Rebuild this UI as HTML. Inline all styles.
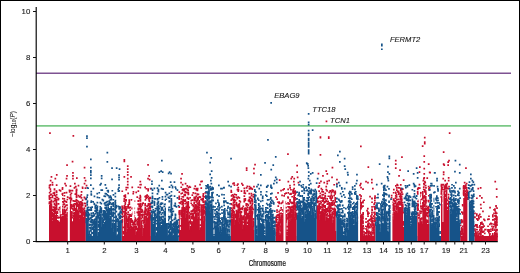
<!DOCTYPE html>
<html><head><meta charset="utf-8"><style>
html,body{margin:0;padding:0;background:#fff;}
body{width:520px;height:273px;overflow:hidden;}
svg{display:block;will-change:transform;}
.t{font-family:"Liberation Sans",sans-serif;font-size:7.8px;fill:#1a1a1a;stroke:#1a1a1a;stroke-width:0.12px;}
.ax{font-family:"Liberation Sans",sans-serif;font-size:8.4px;fill:#1a1a1a;stroke:#1a1a1a;stroke-width:0.25px;}
.ax2{font-family:"Liberation Sans",sans-serif;font-size:7px;fill:#1a1a1a;stroke:#1a1a1a;stroke-width:0.08px;}
.an{font-family:"Liberation Sans",sans-serif;font-size:7.6px;font-style:italic;fill:#1a1a1a;stroke:#1a1a1a;stroke-width:0.12px;}
</style></head><body>
<svg width="520" height="273" viewBox="0 0 520 273">
<rect x="0.5" y="0.5" width="519" height="272" fill="#fff" stroke="#000" stroke-width="1"/>
<line x1="36" y1="73.2" x2="511" y2="73.2" stroke="#7e5292" stroke-width="1.5"/>
<line x1="36" y1="125.9" x2="511" y2="125.9" stroke="#7bc886" stroke-width="1.8"/>
<path fill="#c8102e" d="M49.0 231.0h36.8v10.0h-36.8zM49.0 205.0h1.0v26.0h-1.0zM50.0 205.0h1.0v26.0h-1.0zM51.0 213.0h1.0v18.0h-1.0zM52.0 221.0h1.0v10.0h-1.0zM53.0 216.0h1.0v15.0h-1.0zM54.0 209.0h1.0v22.0h-1.0zM55.0 216.0h1.0v15.0h-1.0zM56.0 212.0h1.0v19.0h-1.0zM57.0 220.0h1.0v11.0h-1.0zM58.0 226.0h1.0v5.0h-1.0zM59.0 224.0h1.0v7.0h-1.0zM60.0 215.0h1.0v16.0h-1.0zM61.0 222.0h1.0v9.0h-1.0zM62.0 216.0h1.0v15.0h-1.0zM63.0 222.0h1.0v9.0h-1.0zM64.0 218.0h1.0v13.0h-1.0zM65.0 217.0h1.0v14.0h-1.0zM66.0 219.0h1.0v12.0h-1.0zM67.0 220.0h1.0v11.0h-1.0zM68.0 222.0h1.0v9.0h-1.0zM69.0 220.0h1.0v11.0h-1.0zM70.0 208.0h1.0v23.0h-1.0zM71.0 216.0h1.0v15.0h-1.0zM72.0 223.0h1.0v8.0h-1.0zM73.0 218.0h1.0v13.0h-1.0zM74.0 212.0h1.0v19.0h-1.0zM75.0 208.0h1.0v23.0h-1.0zM76.0 202.0h1.0v29.0h-1.0zM77.0 215.0h1.0v16.0h-1.0zM78.0 219.0h1.0v12.0h-1.0zM79.0 219.0h1.0v12.0h-1.0zM80.0 215.0h1.0v16.0h-1.0zM81.0 211.0h1.0v20.0h-1.0zM82.0 214.0h1.0v17.0h-1.0zM83.0 225.0h1.0v6.0h-1.0zM84.0 218.0h1.0v13.0h-1.0zM85.0 215.0h0.8v16.0h-0.8zM121.8 236.0h29.1v5.0h-29.1zM121.8 222.0h1.0v14.0h-1.0zM123.8 213.0h1.0v23.0h-1.0zM124.8 215.0h1.0v21.0h-1.0zM125.8 223.0h1.0v13.0h-1.0zM126.8 232.0h1.0v4.0h-1.0zM127.8 222.0h1.0v14.0h-1.0zM128.8 217.0h1.0v19.0h-1.0zM129.8 227.0h1.0v9.0h-1.0zM130.8 229.0h1.0v7.0h-1.0zM131.8 230.0h1.0v6.0h-1.0zM132.8 224.0h1.0v12.0h-1.0zM133.8 227.0h1.0v9.0h-1.0zM134.8 229.0h1.0v7.0h-1.0zM135.8 235.0h1.0v1.0h-1.0zM136.8 229.0h1.0v7.0h-1.0zM137.8 217.0h1.0v19.0h-1.0zM138.8 218.0h1.0v18.0h-1.0zM139.8 209.0h1.0v27.0h-1.0zM140.8 228.0h1.0v8.0h-1.0zM141.8 225.0h1.0v11.0h-1.0zM143.8 226.0h1.0v10.0h-1.0zM144.8 217.0h1.0v19.0h-1.0zM145.8 224.0h1.0v12.0h-1.0zM146.8 222.0h1.0v14.0h-1.0zM147.8 214.0h1.0v22.0h-1.0zM148.8 217.0h1.0v19.0h-1.0zM149.8 217.0h1.0v19.0h-1.0zM178.8 230.0h26.7v11.0h-26.7zM178.8 215.0h1.0v15.0h-1.0zM180.8 219.0h1.0v11.0h-1.0zM181.8 210.0h1.0v20.0h-1.0zM182.8 211.0h1.0v19.0h-1.0zM183.8 213.0h1.0v17.0h-1.0zM184.8 210.0h1.0v20.0h-1.0zM185.8 218.0h1.0v12.0h-1.0zM186.8 209.0h1.0v21.0h-1.0zM187.8 211.0h1.0v19.0h-1.0zM188.8 222.0h1.0v8.0h-1.0zM190.8 221.0h1.0v9.0h-1.0zM191.8 223.0h1.0v7.0h-1.0zM192.8 220.0h1.0v10.0h-1.0zM193.8 219.0h1.0v11.0h-1.0zM194.8 213.0h1.0v17.0h-1.0zM195.8 214.0h1.0v16.0h-1.0zM196.8 207.0h1.0v23.0h-1.0zM197.8 219.0h1.0v11.0h-1.0zM198.8 212.0h1.0v18.0h-1.0zM200.8 215.0h1.0v15.0h-1.0zM201.8 217.0h1.0v13.0h-1.0zM202.8 214.0h1.0v16.0h-1.0zM203.8 221.0h1.0v9.0h-1.0zM204.8 215.0h0.7v15.0h-0.7zM230.9 230.0h23.4v11.0h-23.4zM230.9 221.0h1.0v9.0h-1.0zM231.9 222.0h1.0v8.0h-1.0zM232.9 215.0h1.0v15.0h-1.0zM233.9 211.0h1.0v19.0h-1.0zM234.9 225.0h1.0v5.0h-1.0zM235.9 217.0h1.0v13.0h-1.0zM236.9 215.0h1.0v15.0h-1.0zM237.9 216.0h1.0v14.0h-1.0zM238.9 222.0h1.0v8.0h-1.0zM239.9 224.0h1.0v6.0h-1.0zM240.9 222.0h1.0v8.0h-1.0zM241.9 221.0h1.0v9.0h-1.0zM242.9 229.0h1.0v1.0h-1.0zM243.9 212.0h1.0v18.0h-1.0zM244.9 220.0h1.0v10.0h-1.0zM245.9 217.0h1.0v13.0h-1.0zM246.9 225.0h1.0v5.0h-1.0zM247.9 221.0h1.0v9.0h-1.0zM248.9 219.0h1.0v11.0h-1.0zM249.9 213.0h1.0v17.0h-1.0zM250.9 213.0h1.0v17.0h-1.0zM251.9 215.0h1.0v15.0h-1.0zM252.9 226.0h1.0v4.0h-1.0zM275.6 236.0h21.1v5.0h-21.1zM275.6 227.0h1.0v9.0h-1.0zM276.6 232.0h1.0v4.0h-1.0zM277.6 227.0h1.0v9.0h-1.0zM278.6 225.0h1.0v11.0h-1.0zM279.6 235.0h1.0v1.0h-1.0zM280.6 226.0h1.0v10.0h-1.0zM281.6 222.0h1.0v14.0h-1.0zM282.6 216.0h1.0v20.0h-1.0zM283.6 217.0h1.0v19.0h-1.0zM284.6 222.0h1.0v14.0h-1.0zM285.6 222.0h1.0v14.0h-1.0zM287.6 218.0h1.0v18.0h-1.0zM288.6 222.0h1.0v14.0h-1.0zM289.6 217.0h1.0v19.0h-1.0zM290.6 221.0h1.0v15.0h-1.0zM291.6 214.0h1.0v22.0h-1.0zM292.6 211.0h1.0v25.0h-1.0zM293.6 206.0h1.0v30.0h-1.0zM294.6 217.0h1.0v19.0h-1.0zM295.6 219.0h1.0v17.0h-1.0zM316.7 231.0h19.6v10.0h-19.6zM316.7 218.0h1.0v13.0h-1.0zM317.7 214.0h1.0v17.0h-1.0zM318.7 213.0h1.0v18.0h-1.0zM319.7 220.0h1.0v11.0h-1.0zM320.7 216.0h1.0v15.0h-1.0zM321.7 212.0h1.0v19.0h-1.0zM322.7 208.0h1.0v23.0h-1.0zM323.7 212.0h1.0v19.0h-1.0zM324.7 213.0h1.0v18.0h-1.0zM325.7 221.0h1.0v10.0h-1.0zM326.7 215.0h1.0v16.0h-1.0zM327.7 220.0h1.0v11.0h-1.0zM328.7 211.0h1.0v20.0h-1.0zM329.7 211.0h1.0v20.0h-1.0zM330.7 214.0h1.0v17.0h-1.0zM331.7 216.0h1.0v15.0h-1.0zM332.7 223.0h1.0v8.0h-1.0zM333.7 223.0h1.0v8.0h-1.0zM334.7 217.0h1.0v14.0h-1.0zM358.5 236.0h17.0v5.0h-17.0zM358.5 225.0h1.0v11.0h-1.0zM359.5 220.0h1.0v16.0h-1.0zM360.5 224.0h1.0v12.0h-1.0zM361.5 224.0h1.0v12.0h-1.0zM362.5 226.0h1.0v10.0h-1.0zM367.5 226.0h1.0v10.0h-1.0zM368.5 231.0h1.0v5.0h-1.0zM370.5 234.0h1.0v2.0h-1.0zM371.5 222.0h1.0v14.0h-1.0zM373.5 232.0h1.0v4.0h-1.0zM374.5 221.0h1.0v15.0h-1.0zM391.2 227.0h12.8v14.0h-12.8zM391.2 218.0h1.0v9.0h-1.0zM392.2 220.0h1.0v7.0h-1.0zM393.2 212.0h1.0v15.0h-1.0zM394.2 215.0h1.0v12.0h-1.0zM395.2 214.0h1.0v13.0h-1.0zM396.2 213.0h1.0v14.0h-1.0zM397.2 208.0h1.0v19.0h-1.0zM398.2 205.0h1.0v22.0h-1.0zM399.2 209.0h1.0v18.0h-1.0zM400.2 211.0h1.0v16.0h-1.0zM401.2 205.0h1.0v22.0h-1.0zM402.2 213.0h1.0v14.0h-1.0zM417.3 224.0h12.2v17.0h-12.2zM417.3 214.0h1.0v10.0h-1.0zM419.3 209.0h1.0v15.0h-1.0zM422.3 209.0h1.0v15.0h-1.0zM423.3 206.0h1.0v18.0h-1.0zM424.3 208.0h1.0v16.0h-1.0zM425.3 203.0h1.0v21.0h-1.0zM426.3 222.0h1.0v2.0h-1.0zM428.3 214.0h1.0v10.0h-1.0zM441.0 210.0h8.4v31.0h-8.4zM441.0 197.0h1.0v13.0h-1.0zM442.0 205.0h1.0v5.0h-1.0zM443.0 200.0h1.0v10.0h-1.0zM444.0 192.0h1.0v18.0h-1.0zM445.0 202.0h1.0v8.0h-1.0zM446.0 195.0h1.0v15.0h-1.0zM448.0 204.0h1.0v6.0h-1.0zM460.2 236.0h8.0v5.0h-8.0zM462.2 233.0h1.0v3.0h-1.0zM463.2 198.0h1.0v38.0h-1.0zM464.2 188.0h1.0v48.0h-1.0zM465.2 195.0h1.0v41.0h-1.0zM466.2 202.0h1.0v34.0h-1.0zM467.2 201.0h1.0v35.0h-1.0zM474.4 236.0h23.4v5.0h-23.4zM495.4 235.0h1.0v1.0h-1.0z"/>
<path fill="#c8102e" d="M48.5 202.6h1.7v1.7h-1.7zM48.7 201.3h1.7v1.7h-1.7zM48.7 198.2h1.7v1.7h-1.7zM48.8 197.9h1.7v1.7h-1.7zM48.6 197.2h1.7v1.7h-1.7zM48.6 194.9h1.7v1.7h-1.7zM48.5 195.5h1.7v1.7h-1.7zM48.8 191.9h1.7v1.7h-1.7zM48.6 186.7h1.7v1.7h-1.7zM48.7 184.7h1.7v1.7h-1.7zM49.5 203.8h1.7v1.7h-1.7zM49.7 201.8h1.7v1.7h-1.7zM49.5 202.2h1.7v1.7h-1.7zM49.7 200.8h1.7v1.7h-1.7zM49.8 196.9h1.7v1.7h-1.7zM49.6 194.0h1.7v1.7h-1.7zM49.7 193.7h1.7v1.7h-1.7zM49.7 190.3h1.7v1.7h-1.7zM49.5 188.3h1.7v1.7h-1.7zM49.5 184.0h1.7v1.7h-1.7zM50.5 211.5h1.7v1.7h-1.7zM50.6 209.7h1.7v1.7h-1.7zM50.5 208.8h1.7v1.7h-1.7zM50.7 208.0h1.7v1.7h-1.7zM50.5 208.0h1.7v1.7h-1.7zM50.5 206.7h1.7v1.7h-1.7zM50.5 206.5h1.7v1.7h-1.7zM50.7 205.8h1.7v1.7h-1.7zM50.6 205.7h1.7v1.7h-1.7zM50.6 205.4h1.7v1.7h-1.7zM50.6 204.8h1.7v1.7h-1.7zM50.6 205.1h1.7v1.7h-1.7zM50.6 203.3h1.7v1.7h-1.7zM50.7 201.1h1.7v1.7h-1.7zM50.6 199.6h1.7v1.7h-1.7zM50.7 193.6h1.7v1.7h-1.7zM51.7 220.5h1.7v1.7h-1.7zM51.7 220.5h1.7v1.7h-1.7zM51.6 220.5h1.7v1.7h-1.7zM51.7 218.1h1.7v1.7h-1.7zM51.6 218.5h1.7v1.7h-1.7zM51.7 216.1h1.7v1.7h-1.7zM51.5 213.7h1.7v1.7h-1.7zM51.6 214.6h1.7v1.7h-1.7zM51.6 211.9h1.7v1.7h-1.7zM51.7 212.2h1.7v1.7h-1.7zM51.6 209.4h1.7v1.7h-1.7zM51.8 208.7h1.7v1.7h-1.7zM51.6 196.5h1.7v1.7h-1.7zM51.7 195.0h1.7v1.7h-1.7zM51.7 184.0h1.7v1.7h-1.7zM52.7 215.1h1.7v1.7h-1.7zM52.8 214.8h1.7v1.7h-1.7zM52.8 214.1h1.7v1.7h-1.7zM52.7 213.0h1.7v1.7h-1.7zM52.7 210.6h1.7v1.7h-1.7zM52.7 209.0h1.7v1.7h-1.7zM52.6 208.7h1.7v1.7h-1.7zM52.7 208.9h1.7v1.7h-1.7zM52.6 206.3h1.7v1.7h-1.7zM52.7 200.7h1.7v1.7h-1.7zM52.6 192.2h1.7v1.7h-1.7zM53.8 208.4h1.7v1.7h-1.7zM53.8 208.5h1.7v1.7h-1.7zM53.5 206.8h1.7v1.7h-1.7zM53.7 206.4h1.7v1.7h-1.7zM53.5 206.3h1.7v1.7h-1.7zM53.6 203.5h1.7v1.7h-1.7zM53.6 202.7h1.7v1.7h-1.7zM53.8 199.9h1.7v1.7h-1.7zM53.6 197.8h1.7v1.7h-1.7zM53.6 194.3h1.7v1.7h-1.7zM53.6 193.4h1.7v1.7h-1.7zM53.6 191.8h1.7v1.7h-1.7zM53.6 188.8h1.7v1.7h-1.7zM53.7 188.3h1.7v1.7h-1.7zM54.8 215.0h1.7v1.7h-1.7zM54.7 214.7h1.7v1.7h-1.7zM54.7 214.5h1.7v1.7h-1.7zM54.8 212.2h1.7v1.7h-1.7zM54.8 211.8h1.7v1.7h-1.7zM54.7 211.3h1.7v1.7h-1.7zM54.7 210.0h1.7v1.7h-1.7zM54.6 208.9h1.7v1.7h-1.7zM54.8 207.2h1.7v1.7h-1.7zM54.8 206.4h1.7v1.7h-1.7zM54.6 204.3h1.7v1.7h-1.7zM54.7 199.6h1.7v1.7h-1.7zM54.5 197.9h1.7v1.7h-1.7zM54.6 197.8h1.7v1.7h-1.7zM54.7 195.1h1.7v1.7h-1.7zM55.8 207.9h1.7v1.7h-1.7zM55.7 208.3h1.7v1.7h-1.7zM55.7 207.9h1.7v1.7h-1.7zM55.6 207.7h1.7v1.7h-1.7zM55.6 206.6h1.7v1.7h-1.7zM55.6 205.8h1.7v1.7h-1.7zM55.7 206.2h1.7v1.7h-1.7zM55.7 206.3h1.7v1.7h-1.7zM55.8 204.2h1.7v1.7h-1.7zM55.7 203.8h1.7v1.7h-1.7zM55.8 203.0h1.7v1.7h-1.7zM55.7 202.6h1.7v1.7h-1.7zM55.5 201.8h1.7v1.7h-1.7zM55.5 200.1h1.7v1.7h-1.7zM55.6 200.1h1.7v1.7h-1.7zM55.8 198.9h1.7v1.7h-1.7zM55.6 196.6h1.7v1.7h-1.7zM55.8 193.9h1.7v1.7h-1.7zM55.8 191.6h1.7v1.7h-1.7zM55.7 190.8h1.7v1.7h-1.7zM55.6 190.2h1.7v1.7h-1.7zM55.8 184.3h1.7v1.7h-1.7zM56.7 217.1h1.7v1.7h-1.7zM56.5 214.9h1.7v1.7h-1.7zM56.6 212.3h1.7v1.7h-1.7zM56.5 210.8h1.7v1.7h-1.7zM56.6 196.7h1.7v1.7h-1.7zM57.7 225.0h1.7v1.7h-1.7zM57.6 224.8h1.7v1.7h-1.7zM57.5 225.5h1.7v1.7h-1.7zM57.7 225.4h1.7v1.7h-1.7zM57.6 224.3h1.7v1.7h-1.7zM57.7 222.8h1.7v1.7h-1.7zM57.7 222.8h1.7v1.7h-1.7zM57.7 223.2h1.7v1.7h-1.7zM57.7 222.1h1.7v1.7h-1.7zM57.6 221.5h1.7v1.7h-1.7zM57.8 220.5h1.7v1.7h-1.7zM57.8 217.0h1.7v1.7h-1.7zM57.6 216.5h1.7v1.7h-1.7zM57.8 208.7h1.7v1.7h-1.7zM57.7 203.0h1.7v1.7h-1.7zM57.6 198.9h1.7v1.7h-1.7zM57.7 197.9h1.7v1.7h-1.7zM58.8 223.4h1.7v1.7h-1.7zM58.7 222.0h1.7v1.7h-1.7zM58.7 216.5h1.7v1.7h-1.7zM58.7 206.9h1.7v1.7h-1.7zM58.7 189.2h1.7v1.7h-1.7zM59.7 214.3h1.7v1.7h-1.7zM59.7 211.7h1.7v1.7h-1.7zM59.5 210.6h1.7v1.7h-1.7zM59.7 208.0h1.7v1.7h-1.7zM59.7 206.3h1.7v1.7h-1.7zM59.7 190.1h1.7v1.7h-1.7zM60.6 221.1h1.7v1.7h-1.7zM60.7 221.4h1.7v1.7h-1.7zM60.6 220.7h1.7v1.7h-1.7zM60.7 220.1h1.7v1.7h-1.7zM60.6 219.9h1.7v1.7h-1.7zM60.6 219.6h1.7v1.7h-1.7zM60.7 218.6h1.7v1.7h-1.7zM60.6 216.8h1.7v1.7h-1.7zM60.7 217.3h1.7v1.7h-1.7zM60.8 217.0h1.7v1.7h-1.7zM60.8 216.9h1.7v1.7h-1.7zM60.6 216.6h1.7v1.7h-1.7zM60.8 216.3h1.7v1.7h-1.7zM60.7 212.6h1.7v1.7h-1.7zM60.6 212.5h1.7v1.7h-1.7zM61.7 213.9h1.7v1.7h-1.7zM61.6 213.0h1.7v1.7h-1.7zM61.7 212.7h1.7v1.7h-1.7zM61.7 213.1h1.7v1.7h-1.7zM61.6 212.1h1.7v1.7h-1.7zM61.6 211.4h1.7v1.7h-1.7zM61.6 210.9h1.7v1.7h-1.7zM61.7 210.6h1.7v1.7h-1.7zM61.6 210.6h1.7v1.7h-1.7zM61.7 209.2h1.7v1.7h-1.7zM61.6 209.2h1.7v1.7h-1.7zM61.7 209.1h1.7v1.7h-1.7zM61.7 208.4h1.7v1.7h-1.7zM61.5 205.8h1.7v1.7h-1.7zM61.8 200.9h1.7v1.7h-1.7zM61.7 197.7h1.7v1.7h-1.7zM61.5 194.4h1.7v1.7h-1.7zM61.8 192.7h1.7v1.7h-1.7zM61.5 193.2h1.7v1.7h-1.7zM61.6 188.3h1.7v1.7h-1.7zM61.7 187.1h1.7v1.7h-1.7zM62.6 221.6h1.7v1.7h-1.7zM62.6 220.7h1.7v1.7h-1.7zM62.8 220.9h1.7v1.7h-1.7zM62.6 219.5h1.7v1.7h-1.7zM62.6 218.6h1.7v1.7h-1.7zM62.7 217.6h1.7v1.7h-1.7zM62.6 216.2h1.7v1.7h-1.7zM62.6 215.9h1.7v1.7h-1.7zM62.6 213.4h1.7v1.7h-1.7zM62.8 213.2h1.7v1.7h-1.7zM62.7 212.5h1.7v1.7h-1.7zM62.5 203.7h1.7v1.7h-1.7zM62.6 201.6h1.7v1.7h-1.7zM63.6 217.2h1.7v1.7h-1.7zM63.7 217.6h1.7v1.7h-1.7zM63.6 217.4h1.7v1.7h-1.7zM63.5 216.8h1.7v1.7h-1.7zM63.8 216.3h1.7v1.7h-1.7zM63.6 216.4h1.7v1.7h-1.7zM63.5 214.9h1.7v1.7h-1.7zM63.5 215.4h1.7v1.7h-1.7zM63.5 214.0h1.7v1.7h-1.7zM63.7 213.6h1.7v1.7h-1.7zM63.8 212.8h1.7v1.7h-1.7zM63.5 212.1h1.7v1.7h-1.7zM63.6 212.0h1.7v1.7h-1.7zM63.7 212.3h1.7v1.7h-1.7zM63.5 211.0h1.7v1.7h-1.7zM63.8 211.3h1.7v1.7h-1.7zM63.8 210.4h1.7v1.7h-1.7zM63.8 210.6h1.7v1.7h-1.7zM63.5 209.6h1.7v1.7h-1.7zM63.6 209.0h1.7v1.7h-1.7zM63.7 206.9h1.7v1.7h-1.7zM63.6 206.3h1.7v1.7h-1.7zM63.8 206.4h1.7v1.7h-1.7zM63.5 203.2h1.7v1.7h-1.7zM63.5 200.0h1.7v1.7h-1.7zM63.5 198.0h1.7v1.7h-1.7zM63.6 194.9h1.7v1.7h-1.7zM63.7 192.0h1.7v1.7h-1.7zM64.8 216.0h1.7v1.7h-1.7zM64.7 216.1h1.7v1.7h-1.7zM64.6 216.4h1.7v1.7h-1.7zM64.7 215.3h1.7v1.7h-1.7zM64.8 215.1h1.7v1.7h-1.7zM64.6 214.4h1.7v1.7h-1.7zM64.6 214.6h1.7v1.7h-1.7zM64.7 213.6h1.7v1.7h-1.7zM64.7 213.6h1.7v1.7h-1.7zM64.5 211.2h1.7v1.7h-1.7zM64.6 210.7h1.7v1.7h-1.7zM64.7 210.1h1.7v1.7h-1.7zM64.5 209.9h1.7v1.7h-1.7zM64.7 210.2h1.7v1.7h-1.7zM64.6 205.2h1.7v1.7h-1.7zM64.5 200.6h1.7v1.7h-1.7zM65.6 217.3h1.7v1.7h-1.7zM65.7 215.1h1.7v1.7h-1.7zM65.8 214.7h1.7v1.7h-1.7zM65.6 213.6h1.7v1.7h-1.7zM65.7 209.1h1.7v1.7h-1.7zM65.5 204.3h1.7v1.7h-1.7zM65.7 201.1h1.7v1.7h-1.7zM65.7 201.3h1.7v1.7h-1.7zM65.7 191.7h1.7v1.7h-1.7zM66.8 218.7h1.7v1.7h-1.7zM66.8 219.1h1.7v1.7h-1.7zM66.6 219.1h1.7v1.7h-1.7zM66.6 218.1h1.7v1.7h-1.7zM66.5 218.4h1.7v1.7h-1.7zM66.5 218.0h1.7v1.7h-1.7zM66.8 215.8h1.7v1.7h-1.7zM66.7 215.9h1.7v1.7h-1.7zM66.6 214.8h1.7v1.7h-1.7zM66.6 213.7h1.7v1.7h-1.7zM66.6 213.7h1.7v1.7h-1.7zM66.6 214.4h1.7v1.7h-1.7zM66.6 212.1h1.7v1.7h-1.7zM66.5 207.2h1.7v1.7h-1.7zM66.8 204.3h1.7v1.7h-1.7zM66.5 198.7h1.7v1.7h-1.7zM66.8 196.2h1.7v1.7h-1.7zM67.8 221.6h1.7v1.7h-1.7zM67.7 221.4h1.7v1.7h-1.7zM67.6 220.8h1.7v1.7h-1.7zM67.6 220.3h1.7v1.7h-1.7zM67.8 219.1h1.7v1.7h-1.7zM67.7 219.1h1.7v1.7h-1.7zM67.5 218.5h1.7v1.7h-1.7zM67.6 217.3h1.7v1.7h-1.7zM67.7 217.3h1.7v1.7h-1.7zM67.5 216.1h1.7v1.7h-1.7zM67.7 214.3h1.7v1.7h-1.7zM67.7 213.0h1.7v1.7h-1.7zM67.5 213.1h1.7v1.7h-1.7zM67.6 212.3h1.7v1.7h-1.7zM67.8 211.7h1.7v1.7h-1.7zM67.7 209.8h1.7v1.7h-1.7zM67.6 207.7h1.7v1.7h-1.7zM67.6 207.3h1.7v1.7h-1.7zM67.7 206.0h1.7v1.7h-1.7zM67.8 206.4h1.7v1.7h-1.7zM67.7 203.8h1.7v1.7h-1.7zM68.6 218.8h1.7v1.7h-1.7zM68.6 219.6h1.7v1.7h-1.7zM68.7 219.2h1.7v1.7h-1.7zM68.7 219.3h1.7v1.7h-1.7zM68.5 218.1h1.7v1.7h-1.7zM68.7 217.9h1.7v1.7h-1.7zM68.5 216.8h1.7v1.7h-1.7zM68.6 216.6h1.7v1.7h-1.7zM68.5 214.9h1.7v1.7h-1.7zM68.8 215.0h1.7v1.7h-1.7zM68.8 214.3h1.7v1.7h-1.7zM68.7 213.7h1.7v1.7h-1.7zM68.5 212.8h1.7v1.7h-1.7zM68.5 213.1h1.7v1.7h-1.7zM68.6 212.1h1.7v1.7h-1.7zM68.6 210.4h1.7v1.7h-1.7zM68.8 207.2h1.7v1.7h-1.7zM68.6 206.9h1.7v1.7h-1.7zM68.6 202.0h1.7v1.7h-1.7zM68.7 197.3h1.7v1.7h-1.7zM68.8 191.0h1.7v1.7h-1.7zM68.6 189.5h1.7v1.7h-1.7zM69.7 207.3h1.7v1.7h-1.7zM69.5 206.7h1.7v1.7h-1.7zM69.6 207.5h1.7v1.7h-1.7zM69.6 207.0h1.7v1.7h-1.7zM69.7 206.8h1.7v1.7h-1.7zM69.5 206.4h1.7v1.7h-1.7zM69.6 204.7h1.7v1.7h-1.7zM69.6 204.4h1.7v1.7h-1.7zM69.6 203.2h1.7v1.7h-1.7zM69.5 201.2h1.7v1.7h-1.7zM69.7 200.3h1.7v1.7h-1.7zM69.7 200.6h1.7v1.7h-1.7zM69.6 200.1h1.7v1.7h-1.7zM69.5 199.5h1.7v1.7h-1.7zM69.7 196.9h1.7v1.7h-1.7zM69.6 197.6h1.7v1.7h-1.7zM69.8 196.2h1.7v1.7h-1.7zM69.8 196.4h1.7v1.7h-1.7zM69.7 193.7h1.7v1.7h-1.7zM69.8 194.1h1.7v1.7h-1.7zM69.8 189.7h1.7v1.7h-1.7zM69.6 185.3h1.7v1.7h-1.7zM70.5 215.6h1.7v1.7h-1.7zM70.5 214.1h1.7v1.7h-1.7zM70.7 214.2h1.7v1.7h-1.7zM70.8 213.7h1.7v1.7h-1.7zM70.8 214.2h1.7v1.7h-1.7zM70.6 212.9h1.7v1.7h-1.7zM70.6 213.2h1.7v1.7h-1.7zM70.6 212.2h1.7v1.7h-1.7zM70.6 211.5h1.7v1.7h-1.7zM70.8 211.2h1.7v1.7h-1.7zM70.5 211.1h1.7v1.7h-1.7zM70.6 207.0h1.7v1.7h-1.7zM70.8 205.3h1.7v1.7h-1.7zM70.5 203.9h1.7v1.7h-1.7zM70.5 204.4h1.7v1.7h-1.7zM70.6 198.9h1.7v1.7h-1.7zM70.6 197.8h1.7v1.7h-1.7zM70.6 192.4h1.7v1.7h-1.7zM71.6 222.4h1.7v1.7h-1.7zM71.5 222.0h1.7v1.7h-1.7zM71.6 222.4h1.7v1.7h-1.7zM71.7 221.6h1.7v1.7h-1.7zM71.6 221.2h1.7v1.7h-1.7zM71.7 216.5h1.7v1.7h-1.7zM71.7 208.0h1.7v1.7h-1.7zM71.8 205.9h1.7v1.7h-1.7zM71.6 189.7h1.7v1.7h-1.7zM72.6 217.3h1.7v1.7h-1.7zM72.6 215.3h1.7v1.7h-1.7zM72.8 214.3h1.7v1.7h-1.7zM72.8 214.6h1.7v1.7h-1.7zM72.6 214.6h1.7v1.7h-1.7zM72.5 212.2h1.7v1.7h-1.7zM72.6 209.7h1.7v1.7h-1.7zM72.7 209.0h1.7v1.7h-1.7zM72.8 208.4h1.7v1.7h-1.7zM72.7 205.9h1.7v1.7h-1.7zM72.5 205.0h1.7v1.7h-1.7zM72.5 203.7h1.7v1.7h-1.7zM72.5 200.0h1.7v1.7h-1.7zM73.6 209.6h1.7v1.7h-1.7zM73.6 209.1h1.7v1.7h-1.7zM73.6 207.0h1.7v1.7h-1.7zM73.7 207.6h1.7v1.7h-1.7zM73.5 206.0h1.7v1.7h-1.7zM73.7 204.9h1.7v1.7h-1.7zM73.6 203.0h1.7v1.7h-1.7zM73.7 200.3h1.7v1.7h-1.7zM73.6 187.1h1.7v1.7h-1.7zM74.8 202.8h1.7v1.7h-1.7zM74.7 203.6h1.7v1.7h-1.7zM74.7 200.2h1.7v1.7h-1.7zM74.5 193.3h1.7v1.7h-1.7zM74.7 186.1h1.7v1.7h-1.7zM75.6 200.0h1.7v1.7h-1.7zM75.7 199.7h1.7v1.7h-1.7zM75.5 198.8h1.7v1.7h-1.7zM75.7 199.2h1.7v1.7h-1.7zM75.8 195.9h1.7v1.7h-1.7zM75.6 195.9h1.7v1.7h-1.7zM75.8 196.3h1.7v1.7h-1.7zM75.7 195.1h1.7v1.7h-1.7zM75.7 193.7h1.7v1.7h-1.7zM75.5 192.9h1.7v1.7h-1.7zM75.5 193.4h1.7v1.7h-1.7zM75.6 191.3h1.7v1.7h-1.7zM75.5 189.8h1.7v1.7h-1.7zM75.8 189.2h1.7v1.7h-1.7zM75.7 188.5h1.7v1.7h-1.7zM76.6 214.0h1.7v1.7h-1.7zM76.6 214.6h1.7v1.7h-1.7zM76.6 214.5h1.7v1.7h-1.7zM76.7 213.7h1.7v1.7h-1.7zM76.6 214.4h1.7v1.7h-1.7zM76.5 213.1h1.7v1.7h-1.7zM76.8 212.2h1.7v1.7h-1.7zM76.7 210.5h1.7v1.7h-1.7zM76.6 210.0h1.7v1.7h-1.7zM76.6 209.7h1.7v1.7h-1.7zM76.8 210.1h1.7v1.7h-1.7zM76.7 209.4h1.7v1.7h-1.7zM76.5 205.3h1.7v1.7h-1.7zM76.6 204.1h1.7v1.7h-1.7zM76.7 202.2h1.7v1.7h-1.7zM76.7 199.9h1.7v1.7h-1.7zM77.7 218.2h1.7v1.7h-1.7zM77.7 217.9h1.7v1.7h-1.7zM77.8 218.0h1.7v1.7h-1.7zM77.7 216.9h1.7v1.7h-1.7zM77.6 217.3h1.7v1.7h-1.7zM77.7 216.4h1.7v1.7h-1.7zM77.5 216.4h1.7v1.7h-1.7zM77.7 216.2h1.7v1.7h-1.7zM77.8 216.3h1.7v1.7h-1.7zM77.7 215.6h1.7v1.7h-1.7zM77.7 215.4h1.7v1.7h-1.7zM77.5 213.7h1.7v1.7h-1.7zM77.8 212.9h1.7v1.7h-1.7zM77.5 213.1h1.7v1.7h-1.7zM77.7 212.1h1.7v1.7h-1.7zM77.6 212.4h1.7v1.7h-1.7zM77.5 212.4h1.7v1.7h-1.7zM77.7 210.7h1.7v1.7h-1.7zM77.6 208.1h1.7v1.7h-1.7zM77.8 206.2h1.7v1.7h-1.7zM77.7 205.5h1.7v1.7h-1.7zM77.5 204.1h1.7v1.7h-1.7zM77.6 200.8h1.7v1.7h-1.7zM77.7 194.7h1.7v1.7h-1.7zM77.6 184.8h1.7v1.7h-1.7zM78.6 218.4h1.7v1.7h-1.7zM78.6 216.6h1.7v1.7h-1.7zM78.5 215.9h1.7v1.7h-1.7zM78.5 216.4h1.7v1.7h-1.7zM78.8 215.2h1.7v1.7h-1.7zM78.8 215.0h1.7v1.7h-1.7zM78.6 210.6h1.7v1.7h-1.7zM78.7 209.3h1.7v1.7h-1.7zM78.5 207.3h1.7v1.7h-1.7zM78.6 204.6h1.7v1.7h-1.7zM78.7 203.3h1.7v1.7h-1.7zM78.7 201.6h1.7v1.7h-1.7zM78.6 196.1h1.7v1.7h-1.7zM79.5 214.4h1.7v1.7h-1.7zM79.7 211.7h1.7v1.7h-1.7zM79.8 210.0h1.7v1.7h-1.7zM79.6 210.4h1.7v1.7h-1.7zM79.6 209.2h1.7v1.7h-1.7zM79.8 208.9h1.7v1.7h-1.7zM79.7 208.0h1.7v1.7h-1.7zM79.5 206.5h1.7v1.7h-1.7zM79.7 206.3h1.7v1.7h-1.7zM79.8 203.9h1.7v1.7h-1.7zM79.8 200.9h1.7v1.7h-1.7zM79.7 195.6h1.7v1.7h-1.7zM80.7 209.7h1.7v1.7h-1.7zM80.8 209.1h1.7v1.7h-1.7zM80.7 207.9h1.7v1.7h-1.7zM80.6 206.7h1.7v1.7h-1.7zM80.8 206.9h1.7v1.7h-1.7zM80.5 205.3h1.7v1.7h-1.7zM80.7 204.9h1.7v1.7h-1.7zM80.6 203.0h1.7v1.7h-1.7zM80.5 202.4h1.7v1.7h-1.7zM80.7 201.3h1.7v1.7h-1.7zM80.5 197.0h1.7v1.7h-1.7zM80.7 196.9h1.7v1.7h-1.7zM80.5 193.9h1.7v1.7h-1.7zM80.7 191.0h1.7v1.7h-1.7zM81.8 213.2h1.7v1.7h-1.7zM81.8 213.6h1.7v1.7h-1.7zM81.7 211.5h1.7v1.7h-1.7zM81.7 209.8h1.7v1.7h-1.7zM81.6 209.4h1.7v1.7h-1.7zM81.6 207.5h1.7v1.7h-1.7zM81.6 204.8h1.7v1.7h-1.7zM81.6 203.8h1.7v1.7h-1.7zM81.8 204.5h1.7v1.7h-1.7zM81.6 203.1h1.7v1.7h-1.7zM81.5 202.2h1.7v1.7h-1.7zM81.7 199.3h1.7v1.7h-1.7zM81.8 187.4h1.7v1.7h-1.7zM81.7 186.4h1.7v1.7h-1.7zM82.5 224.0h1.7v1.7h-1.7zM82.7 223.6h1.7v1.7h-1.7zM82.5 223.6h1.7v1.7h-1.7zM82.7 221.8h1.7v1.7h-1.7zM82.6 220.8h1.7v1.7h-1.7zM82.6 220.2h1.7v1.7h-1.7zM82.7 219.4h1.7v1.7h-1.7zM82.8 219.0h1.7v1.7h-1.7zM82.7 218.1h1.7v1.7h-1.7zM82.7 218.2h1.7v1.7h-1.7zM82.5 216.8h1.7v1.7h-1.7zM82.6 214.0h1.7v1.7h-1.7zM82.7 211.9h1.7v1.7h-1.7zM82.8 208.4h1.7v1.7h-1.7zM83.7 217.5h1.7v1.7h-1.7zM83.6 217.2h1.7v1.7h-1.7zM83.6 216.6h1.7v1.7h-1.7zM83.7 216.4h1.7v1.7h-1.7zM83.6 215.3h1.7v1.7h-1.7zM83.5 215.6h1.7v1.7h-1.7zM83.6 214.6h1.7v1.7h-1.7zM83.7 214.4h1.7v1.7h-1.7zM83.6 214.1h1.7v1.7h-1.7zM83.7 214.2h1.7v1.7h-1.7zM83.6 212.8h1.7v1.7h-1.7zM83.6 213.2h1.7v1.7h-1.7zM83.5 213.3h1.7v1.7h-1.7zM83.6 212.1h1.7v1.7h-1.7zM83.5 212.3h1.7v1.7h-1.7zM83.5 210.7h1.7v1.7h-1.7zM83.8 209.8h1.7v1.7h-1.7zM83.6 209.7h1.7v1.7h-1.7zM83.7 209.6h1.7v1.7h-1.7zM83.6 209.6h1.7v1.7h-1.7zM83.6 207.3h1.7v1.7h-1.7zM83.7 202.5h1.7v1.7h-1.7zM83.6 196.7h1.7v1.7h-1.7zM83.5 196.4h1.7v1.7h-1.7zM84.6 213.9h1.7v1.7h-1.7zM84.6 214.4h1.7v1.7h-1.7zM84.8 214.0h1.7v1.7h-1.7zM84.7 213.5h1.7v1.7h-1.7zM84.8 213.1h1.7v1.7h-1.7zM84.6 213.5h1.7v1.7h-1.7zM84.8 211.8h1.7v1.7h-1.7zM84.6 205.3h1.7v1.7h-1.7zM84.7 205.1h1.7v1.7h-1.7zM84.7 202.7h1.7v1.7h-1.7zM84.6 197.7h1.7v1.7h-1.7zM84.8 198.6h1.7v1.7h-1.7zM84.6 187.2h1.7v1.7h-1.7zM121.4 220.8h1.7v1.7h-1.7zM121.4 221.0h1.7v1.7h-1.7zM121.4 220.0h1.7v1.7h-1.7zM121.5 220.3h1.7v1.7h-1.7zM121.5 218.9h1.7v1.7h-1.7zM121.5 219.4h1.7v1.7h-1.7zM121.5 219.1h1.7v1.7h-1.7zM121.4 216.3h1.7v1.7h-1.7zM121.4 216.5h1.7v1.7h-1.7zM121.4 216.1h1.7v1.7h-1.7zM121.5 213.6h1.7v1.7h-1.7zM121.5 213.2h1.7v1.7h-1.7zM121.6 212.2h1.7v1.7h-1.7zM121.5 212.6h1.7v1.7h-1.7zM121.5 210.3h1.7v1.7h-1.7zM121.6 209.4h1.7v1.7h-1.7zM121.5 208.1h1.7v1.7h-1.7zM121.6 207.0h1.7v1.7h-1.7zM121.4 206.7h1.7v1.7h-1.7zM121.3 205.5h1.7v1.7h-1.7zM121.4 190.4h1.7v1.7h-1.7zM122.6 232.7h1.7v1.7h-1.7zM122.3 231.0h1.7v1.7h-1.7zM122.5 226.6h1.7v1.7h-1.7zM122.3 215.4h1.7v1.7h-1.7zM122.5 211.0h1.7v1.7h-1.7zM123.4 211.0h1.7v1.7h-1.7zM123.5 207.8h1.7v1.7h-1.7zM123.6 206.1h1.7v1.7h-1.7zM123.4 205.7h1.7v1.7h-1.7zM123.5 205.4h1.7v1.7h-1.7zM123.4 205.6h1.7v1.7h-1.7zM123.6 205.1h1.7v1.7h-1.7zM123.3 200.2h1.7v1.7h-1.7zM123.6 197.8h1.7v1.7h-1.7zM123.5 197.8h1.7v1.7h-1.7zM123.5 198.4h1.7v1.7h-1.7zM123.6 195.2h1.7v1.7h-1.7zM123.4 195.1h1.7v1.7h-1.7zM124.3 213.8h1.7v1.7h-1.7zM124.6 213.9h1.7v1.7h-1.7zM124.5 213.9h1.7v1.7h-1.7zM124.3 212.7h1.7v1.7h-1.7zM124.4 211.3h1.7v1.7h-1.7zM124.4 210.6h1.7v1.7h-1.7zM124.6 210.3h1.7v1.7h-1.7zM124.5 209.8h1.7v1.7h-1.7zM124.5 208.7h1.7v1.7h-1.7zM124.4 208.1h1.7v1.7h-1.7zM124.4 208.0h1.7v1.7h-1.7zM124.6 207.1h1.7v1.7h-1.7zM124.5 206.5h1.7v1.7h-1.7zM124.5 206.5h1.7v1.7h-1.7zM124.5 206.1h1.7v1.7h-1.7zM124.4 203.6h1.7v1.7h-1.7zM124.5 202.1h1.7v1.7h-1.7zM124.6 200.1h1.7v1.7h-1.7zM124.6 196.2h1.7v1.7h-1.7zM124.4 195.0h1.7v1.7h-1.7zM124.5 194.3h1.7v1.7h-1.7zM125.4 222.4h1.7v1.7h-1.7zM125.5 222.1h1.7v1.7h-1.7zM125.6 221.1h1.7v1.7h-1.7zM125.5 221.1h1.7v1.7h-1.7zM125.4 221.0h1.7v1.7h-1.7zM125.3 219.9h1.7v1.7h-1.7zM125.4 219.9h1.7v1.7h-1.7zM125.4 220.3h1.7v1.7h-1.7zM125.5 219.5h1.7v1.7h-1.7zM125.5 219.1h1.7v1.7h-1.7zM125.5 219.4h1.7v1.7h-1.7zM125.6 219.5h1.7v1.7h-1.7zM125.3 217.9h1.7v1.7h-1.7zM125.5 216.9h1.7v1.7h-1.7zM125.6 215.3h1.7v1.7h-1.7zM125.5 212.3h1.7v1.7h-1.7zM125.5 209.4h1.7v1.7h-1.7zM125.6 207.7h1.7v1.7h-1.7zM125.3 208.2h1.7v1.7h-1.7zM125.3 199.8h1.7v1.7h-1.7zM125.3 198.9h1.7v1.7h-1.7zM125.4 188.9h1.7v1.7h-1.7zM125.4 186.8h1.7v1.7h-1.7zM126.5 230.5h1.7v1.7h-1.7zM126.5 229.5h1.7v1.7h-1.7zM126.6 229.5h1.7v1.7h-1.7zM126.4 228.7h1.7v1.7h-1.7zM126.5 226.9h1.7v1.7h-1.7zM126.6 226.1h1.7v1.7h-1.7zM126.5 225.1h1.7v1.7h-1.7zM126.4 224.9h1.7v1.7h-1.7zM126.3 224.7h1.7v1.7h-1.7zM126.3 224.4h1.7v1.7h-1.7zM126.5 224.2h1.7v1.7h-1.7zM126.4 224.2h1.7v1.7h-1.7zM126.4 223.1h1.7v1.7h-1.7zM126.4 218.4h1.7v1.7h-1.7zM126.6 213.4h1.7v1.7h-1.7zM126.3 205.9h1.7v1.7h-1.7zM127.3 220.8h1.7v1.7h-1.7zM127.3 220.0h1.7v1.7h-1.7zM127.5 219.1h1.7v1.7h-1.7zM127.3 218.2h1.7v1.7h-1.7zM127.5 217.1h1.7v1.7h-1.7zM127.6 216.2h1.7v1.7h-1.7zM127.4 213.6h1.7v1.7h-1.7zM127.4 211.3h1.7v1.7h-1.7zM127.4 207.0h1.7v1.7h-1.7zM127.4 205.2h1.7v1.7h-1.7zM127.4 204.1h1.7v1.7h-1.7zM127.3 192.6h1.7v1.7h-1.7zM128.4 215.9h1.7v1.7h-1.7zM128.5 215.4h1.7v1.7h-1.7zM128.5 213.7h1.7v1.7h-1.7zM128.5 206.7h1.7v1.7h-1.7zM128.4 207.1h1.7v1.7h-1.7zM128.5 206.4h1.7v1.7h-1.7zM128.5 202.7h1.7v1.7h-1.7zM128.5 203.2h1.7v1.7h-1.7zM128.3 202.1h1.7v1.7h-1.7zM128.5 201.0h1.7v1.7h-1.7zM128.4 199.3h1.7v1.7h-1.7zM129.5 226.1h1.7v1.7h-1.7zM129.4 224.9h1.7v1.7h-1.7zM129.5 224.7h1.7v1.7h-1.7zM129.6 225.3h1.7v1.7h-1.7zM129.6 225.0h1.7v1.7h-1.7zM129.5 223.8h1.7v1.7h-1.7zM129.5 223.0h1.7v1.7h-1.7zM129.4 221.7h1.7v1.7h-1.7zM129.5 221.4h1.7v1.7h-1.7zM129.5 221.4h1.7v1.7h-1.7zM129.6 219.8h1.7v1.7h-1.7zM129.4 220.1h1.7v1.7h-1.7zM129.5 219.9h1.7v1.7h-1.7zM129.3 218.9h1.7v1.7h-1.7zM129.4 218.0h1.7v1.7h-1.7zM129.5 215.2h1.7v1.7h-1.7zM129.5 214.0h1.7v1.7h-1.7zM129.3 209.4h1.7v1.7h-1.7zM129.6 206.6h1.7v1.7h-1.7zM130.5 227.7h1.7v1.7h-1.7zM130.3 228.2h1.7v1.7h-1.7zM130.5 227.3h1.7v1.7h-1.7zM130.4 226.8h1.7v1.7h-1.7zM130.3 226.3h1.7v1.7h-1.7zM130.3 226.4h1.7v1.7h-1.7zM130.3 226.0h1.7v1.7h-1.7zM130.6 221.0h1.7v1.7h-1.7zM130.4 220.0h1.7v1.7h-1.7zM130.4 219.1h1.7v1.7h-1.7zM130.5 218.9h1.7v1.7h-1.7zM130.4 219.4h1.7v1.7h-1.7zM130.4 218.0h1.7v1.7h-1.7zM130.5 218.1h1.7v1.7h-1.7zM130.5 215.2h1.7v1.7h-1.7zM130.4 215.0h1.7v1.7h-1.7zM130.6 199.1h1.7v1.7h-1.7zM131.4 229.2h1.7v1.7h-1.7zM131.5 227.8h1.7v1.7h-1.7zM131.5 227.8h1.7v1.7h-1.7zM131.4 226.4h1.7v1.7h-1.7zM131.3 226.5h1.7v1.7h-1.7zM131.5 223.8h1.7v1.7h-1.7zM131.5 221.2h1.7v1.7h-1.7zM131.4 219.7h1.7v1.7h-1.7zM131.4 213.3h1.7v1.7h-1.7zM131.4 213.6h1.7v1.7h-1.7zM131.3 207.7h1.7v1.7h-1.7zM131.4 186.5h1.7v1.7h-1.7zM132.3 223.1h1.7v1.7h-1.7zM132.3 221.8h1.7v1.7h-1.7zM132.4 211.9h1.7v1.7h-1.7zM132.3 211.6h1.7v1.7h-1.7zM132.5 207.1h1.7v1.7h-1.7zM132.4 192.9h1.7v1.7h-1.7zM132.6 191.1h1.7v1.7h-1.7zM133.5 225.9h1.7v1.7h-1.7zM133.5 223.7h1.7v1.7h-1.7zM133.6 223.2h1.7v1.7h-1.7zM133.5 222.1h1.7v1.7h-1.7zM133.6 220.5h1.7v1.7h-1.7zM133.3 216.3h1.7v1.7h-1.7zM133.3 216.6h1.7v1.7h-1.7zM133.4 214.8h1.7v1.7h-1.7zM133.5 212.4h1.7v1.7h-1.7zM133.4 211.0h1.7v1.7h-1.7zM133.4 207.6h1.7v1.7h-1.7zM133.6 200.3h1.7v1.7h-1.7zM134.4 228.6h1.7v1.7h-1.7zM134.3 228.6h1.7v1.7h-1.7zM134.5 227.0h1.7v1.7h-1.7zM134.3 226.6h1.7v1.7h-1.7zM134.5 226.0h1.7v1.7h-1.7zM134.4 225.4h1.7v1.7h-1.7zM134.4 225.3h1.7v1.7h-1.7zM134.4 223.4h1.7v1.7h-1.7zM134.5 220.7h1.7v1.7h-1.7zM134.3 218.7h1.7v1.7h-1.7zM134.3 217.3h1.7v1.7h-1.7zM135.3 234.3h1.7v1.7h-1.7zM135.6 232.6h1.7v1.7h-1.7zM135.5 232.2h1.7v1.7h-1.7zM135.3 232.6h1.7v1.7h-1.7zM135.3 232.6h1.7v1.7h-1.7zM135.4 231.3h1.7v1.7h-1.7zM135.5 231.2h1.7v1.7h-1.7zM135.5 228.6h1.7v1.7h-1.7zM135.3 226.9h1.7v1.7h-1.7zM135.5 226.5h1.7v1.7h-1.7zM135.6 226.1h1.7v1.7h-1.7zM135.3 219.6h1.7v1.7h-1.7zM135.4 191.5h1.7v1.7h-1.7zM136.4 227.7h1.7v1.7h-1.7zM136.5 223.9h1.7v1.7h-1.7zM136.4 224.1h1.7v1.7h-1.7zM136.3 223.0h1.7v1.7h-1.7zM136.3 222.9h1.7v1.7h-1.7zM136.4 223.2h1.7v1.7h-1.7zM136.6 223.3h1.7v1.7h-1.7zM136.5 223.1h1.7v1.7h-1.7zM136.4 222.3h1.7v1.7h-1.7zM136.4 222.0h1.7v1.7h-1.7zM136.4 222.5h1.7v1.7h-1.7zM136.5 220.2h1.7v1.7h-1.7zM136.5 218.3h1.7v1.7h-1.7zM136.4 211.6h1.7v1.7h-1.7zM136.4 196.2h1.7v1.7h-1.7zM137.5 214.4h1.7v1.7h-1.7zM137.6 213.5h1.7v1.7h-1.7zM137.4 212.3h1.7v1.7h-1.7zM137.5 212.0h1.7v1.7h-1.7zM137.6 211.1h1.7v1.7h-1.7zM137.5 208.9h1.7v1.7h-1.7zM137.4 208.3h1.7v1.7h-1.7zM137.4 207.4h1.7v1.7h-1.7zM137.4 203.3h1.7v1.7h-1.7zM137.5 199.9h1.7v1.7h-1.7zM137.4 199.9h1.7v1.7h-1.7zM137.5 200.4h1.7v1.7h-1.7zM137.5 190.2h1.7v1.7h-1.7zM137.5 186.4h1.7v1.7h-1.7zM138.4 217.2h1.7v1.7h-1.7zM138.6 216.6h1.7v1.7h-1.7zM138.4 216.0h1.7v1.7h-1.7zM138.4 215.8h1.7v1.7h-1.7zM138.4 215.1h1.7v1.7h-1.7zM138.5 214.6h1.7v1.7h-1.7zM138.4 212.7h1.7v1.7h-1.7zM138.5 212.5h1.7v1.7h-1.7zM138.3 210.8h1.7v1.7h-1.7zM138.6 210.8h1.7v1.7h-1.7zM138.3 208.1h1.7v1.7h-1.7zM138.3 208.0h1.7v1.7h-1.7zM138.5 208.1h1.7v1.7h-1.7zM138.4 205.4h1.7v1.7h-1.7zM138.6 205.0h1.7v1.7h-1.7zM138.3 203.7h1.7v1.7h-1.7zM138.6 197.6h1.7v1.7h-1.7zM139.4 208.0h1.7v1.7h-1.7zM139.6 207.9h1.7v1.7h-1.7zM139.4 207.7h1.7v1.7h-1.7zM139.5 207.6h1.7v1.7h-1.7zM139.3 206.9h1.7v1.7h-1.7zM139.3 206.6h1.7v1.7h-1.7zM139.4 205.3h1.7v1.7h-1.7zM139.4 205.3h1.7v1.7h-1.7zM139.5 205.6h1.7v1.7h-1.7zM139.5 204.1h1.7v1.7h-1.7zM139.4 202.7h1.7v1.7h-1.7zM139.5 199.9h1.7v1.7h-1.7zM139.4 199.7h1.7v1.7h-1.7zM139.6 200.0h1.7v1.7h-1.7zM139.6 199.7h1.7v1.7h-1.7zM139.6 198.4h1.7v1.7h-1.7zM139.6 195.9h1.7v1.7h-1.7zM139.6 196.5h1.7v1.7h-1.7zM139.4 194.8h1.7v1.7h-1.7zM139.3 183.9h1.7v1.7h-1.7zM140.3 225.8h1.7v1.7h-1.7zM140.4 225.7h1.7v1.7h-1.7zM140.6 226.6h1.7v1.7h-1.7zM140.6 226.2h1.7v1.7h-1.7zM140.4 226.0h1.7v1.7h-1.7zM140.5 225.0h1.7v1.7h-1.7zM140.4 224.5h1.7v1.7h-1.7zM140.6 223.3h1.7v1.7h-1.7zM140.4 222.8h1.7v1.7h-1.7zM140.6 222.4h1.7v1.7h-1.7zM140.4 221.7h1.7v1.7h-1.7zM140.5 220.2h1.7v1.7h-1.7zM140.5 217.8h1.7v1.7h-1.7zM140.3 214.0h1.7v1.7h-1.7zM140.5 210.7h1.7v1.7h-1.7zM140.5 211.3h1.7v1.7h-1.7zM140.4 210.5h1.7v1.7h-1.7zM140.6 208.5h1.7v1.7h-1.7zM140.5 205.8h1.7v1.7h-1.7zM141.6 219.7h1.7v1.7h-1.7zM141.4 216.6h1.7v1.7h-1.7zM141.3 215.5h1.7v1.7h-1.7zM141.6 214.3h1.7v1.7h-1.7zM141.4 213.5h1.7v1.7h-1.7zM141.5 211.1h1.7v1.7h-1.7zM141.4 209.3h1.7v1.7h-1.7zM141.5 204.0h1.7v1.7h-1.7zM141.4 202.7h1.7v1.7h-1.7zM142.6 235.0h1.7v1.7h-1.7zM142.5 235.1h1.7v1.7h-1.7zM142.3 233.9h1.7v1.7h-1.7zM142.6 234.0h1.7v1.7h-1.7zM142.5 233.0h1.7v1.7h-1.7zM142.4 232.7h1.7v1.7h-1.7zM142.5 232.7h1.7v1.7h-1.7zM142.4 232.2h1.7v1.7h-1.7zM142.6 231.5h1.7v1.7h-1.7zM142.5 230.9h1.7v1.7h-1.7zM142.5 229.9h1.7v1.7h-1.7zM142.5 229.0h1.7v1.7h-1.7zM142.4 227.7h1.7v1.7h-1.7zM142.6 222.1h1.7v1.7h-1.7zM142.4 220.1h1.7v1.7h-1.7zM142.3 202.3h1.7v1.7h-1.7zM143.5 225.2h1.7v1.7h-1.7zM143.4 225.4h1.7v1.7h-1.7zM143.6 225.5h1.7v1.7h-1.7zM143.5 223.6h1.7v1.7h-1.7zM143.3 221.5h1.7v1.7h-1.7zM143.4 219.7h1.7v1.7h-1.7zM143.3 220.1h1.7v1.7h-1.7zM143.4 219.0h1.7v1.7h-1.7zM143.6 218.9h1.7v1.7h-1.7zM143.4 218.3h1.7v1.7h-1.7zM143.3 217.5h1.7v1.7h-1.7zM143.5 216.0h1.7v1.7h-1.7zM143.3 214.1h1.7v1.7h-1.7zM143.4 212.0h1.7v1.7h-1.7zM143.6 210.5h1.7v1.7h-1.7zM144.5 216.1h1.7v1.7h-1.7zM144.5 215.6h1.7v1.7h-1.7zM144.5 213.4h1.7v1.7h-1.7zM144.5 213.3h1.7v1.7h-1.7zM144.5 212.6h1.7v1.7h-1.7zM144.3 212.2h1.7v1.7h-1.7zM144.4 210.9h1.7v1.7h-1.7zM144.4 211.3h1.7v1.7h-1.7zM144.6 211.6h1.7v1.7h-1.7zM144.4 209.7h1.7v1.7h-1.7zM144.5 209.5h1.7v1.7h-1.7zM144.5 208.8h1.7v1.7h-1.7zM144.4 208.2h1.7v1.7h-1.7zM144.5 207.0h1.7v1.7h-1.7zM144.5 204.8h1.7v1.7h-1.7zM144.3 204.5h1.7v1.7h-1.7zM144.3 203.1h1.7v1.7h-1.7zM144.6 199.0h1.7v1.7h-1.7zM144.3 195.7h1.7v1.7h-1.7zM144.3 186.5h1.7v1.7h-1.7zM145.5 222.7h1.7v1.7h-1.7zM145.3 222.1h1.7v1.7h-1.7zM145.5 221.8h1.7v1.7h-1.7zM145.4 222.6h1.7v1.7h-1.7zM145.4 220.5h1.7v1.7h-1.7zM145.4 219.6h1.7v1.7h-1.7zM145.5 219.4h1.7v1.7h-1.7zM145.4 218.5h1.7v1.7h-1.7zM145.6 217.9h1.7v1.7h-1.7zM145.5 217.3h1.7v1.7h-1.7zM145.4 217.0h1.7v1.7h-1.7zM145.3 215.4h1.7v1.7h-1.7zM145.4 215.6h1.7v1.7h-1.7zM145.6 213.3h1.7v1.7h-1.7zM145.4 209.1h1.7v1.7h-1.7zM145.5 208.4h1.7v1.7h-1.7zM145.3 197.2h1.7v1.7h-1.7zM145.4 196.0h1.7v1.7h-1.7zM145.3 195.1h1.7v1.7h-1.7zM145.5 187.9h1.7v1.7h-1.7zM146.3 221.3h1.7v1.7h-1.7zM146.6 220.9h1.7v1.7h-1.7zM146.5 221.3h1.7v1.7h-1.7zM146.3 220.9h1.7v1.7h-1.7zM146.3 220.0h1.7v1.7h-1.7zM146.6 218.8h1.7v1.7h-1.7zM146.6 218.2h1.7v1.7h-1.7zM146.5 218.5h1.7v1.7h-1.7zM146.5 217.6h1.7v1.7h-1.7zM146.3 214.6h1.7v1.7h-1.7zM146.4 214.5h1.7v1.7h-1.7zM146.4 214.0h1.7v1.7h-1.7zM146.6 211.8h1.7v1.7h-1.7zM146.6 212.3h1.7v1.7h-1.7zM146.6 210.5h1.7v1.7h-1.7zM146.4 210.4h1.7v1.7h-1.7zM146.3 205.2h1.7v1.7h-1.7zM146.4 196.4h1.7v1.7h-1.7zM146.3 194.2h1.7v1.7h-1.7zM147.3 213.4h1.7v1.7h-1.7zM147.5 212.5h1.7v1.7h-1.7zM147.5 210.1h1.7v1.7h-1.7zM147.4 209.5h1.7v1.7h-1.7zM147.4 209.3h1.7v1.7h-1.7zM147.4 209.3h1.7v1.7h-1.7zM147.5 207.8h1.7v1.7h-1.7zM147.5 208.5h1.7v1.7h-1.7zM147.5 207.7h1.7v1.7h-1.7zM147.3 207.6h1.7v1.7h-1.7zM147.3 204.6h1.7v1.7h-1.7zM147.6 204.6h1.7v1.7h-1.7zM147.6 203.0h1.7v1.7h-1.7zM147.6 197.7h1.7v1.7h-1.7zM147.5 195.4h1.7v1.7h-1.7zM147.3 189.7h1.7v1.7h-1.7zM147.3 188.2h1.7v1.7h-1.7zM148.3 216.1h1.7v1.7h-1.7zM148.6 214.7h1.7v1.7h-1.7zM148.5 213.9h1.7v1.7h-1.7zM148.5 212.9h1.7v1.7h-1.7zM148.4 212.7h1.7v1.7h-1.7zM148.4 211.7h1.7v1.7h-1.7zM148.5 211.9h1.7v1.7h-1.7zM148.5 211.3h1.7v1.7h-1.7zM148.3 211.2h1.7v1.7h-1.7zM148.6 211.5h1.7v1.7h-1.7zM148.5 209.4h1.7v1.7h-1.7zM148.5 207.0h1.7v1.7h-1.7zM148.3 207.4h1.7v1.7h-1.7zM148.6 205.8h1.7v1.7h-1.7zM148.3 203.5h1.7v1.7h-1.7zM148.6 200.5h1.7v1.7h-1.7zM148.3 199.5h1.7v1.7h-1.7zM148.5 197.1h1.7v1.7h-1.7zM149.5 216.5h1.7v1.7h-1.7zM149.3 215.7h1.7v1.7h-1.7zM149.6 214.8h1.7v1.7h-1.7zM149.6 214.5h1.7v1.7h-1.7zM149.4 213.5h1.7v1.7h-1.7zM149.4 213.0h1.7v1.7h-1.7zM149.5 213.5h1.7v1.7h-1.7zM149.4 212.5h1.7v1.7h-1.7zM149.4 212.4h1.7v1.7h-1.7zM149.5 209.3h1.7v1.7h-1.7zM149.6 209.3h1.7v1.7h-1.7zM149.4 207.4h1.7v1.7h-1.7zM149.6 205.7h1.7v1.7h-1.7zM149.5 205.2h1.7v1.7h-1.7zM149.3 203.2h1.7v1.7h-1.7zM149.6 203.0h1.7v1.7h-1.7zM149.6 196.7h1.7v1.7h-1.7zM149.3 197.5h1.7v1.7h-1.7zM178.5 213.4h1.7v1.7h-1.7zM178.4 212.5h1.7v1.7h-1.7zM178.5 211.9h1.7v1.7h-1.7zM178.3 211.3h1.7v1.7h-1.7zM178.5 210.5h1.7v1.7h-1.7zM178.5 210.2h1.7v1.7h-1.7zM178.5 209.9h1.7v1.7h-1.7zM178.4 206.0h1.7v1.7h-1.7zM178.4 206.3h1.7v1.7h-1.7zM178.5 201.9h1.7v1.7h-1.7zM178.3 198.1h1.7v1.7h-1.7zM178.3 198.2h1.7v1.7h-1.7zM178.3 196.4h1.7v1.7h-1.7zM178.5 195.6h1.7v1.7h-1.7zM178.5 191.3h1.7v1.7h-1.7zM179.6 225.0h1.7v1.7h-1.7zM179.4 202.5h1.7v1.7h-1.7zM180.3 217.6h1.7v1.7h-1.7zM180.5 215.2h1.7v1.7h-1.7zM180.4 213.8h1.7v1.7h-1.7zM180.3 213.7h1.7v1.7h-1.7zM180.4 212.7h1.7v1.7h-1.7zM180.5 212.9h1.7v1.7h-1.7zM180.3 212.1h1.7v1.7h-1.7zM180.3 211.7h1.7v1.7h-1.7zM180.5 212.6h1.7v1.7h-1.7zM180.6 212.5h1.7v1.7h-1.7zM180.5 211.2h1.7v1.7h-1.7zM180.4 210.8h1.7v1.7h-1.7zM180.5 211.1h1.7v1.7h-1.7zM180.5 209.7h1.7v1.7h-1.7zM180.3 209.8h1.7v1.7h-1.7zM180.5 210.4h1.7v1.7h-1.7zM180.3 200.8h1.7v1.7h-1.7zM180.5 198.0h1.7v1.7h-1.7zM180.4 192.9h1.7v1.7h-1.7zM180.4 186.4h1.7v1.7h-1.7zM181.3 208.9h1.7v1.7h-1.7zM181.5 209.1h1.7v1.7h-1.7zM181.6 209.0h1.7v1.7h-1.7zM181.5 209.1h1.7v1.7h-1.7zM181.5 207.2h1.7v1.7h-1.7zM181.5 206.8h1.7v1.7h-1.7zM181.3 207.3h1.7v1.7h-1.7zM181.4 202.9h1.7v1.7h-1.7zM181.3 203.6h1.7v1.7h-1.7zM181.6 203.0h1.7v1.7h-1.7zM181.5 201.5h1.7v1.7h-1.7zM181.4 201.5h1.7v1.7h-1.7zM181.5 200.5h1.7v1.7h-1.7zM181.4 195.9h1.7v1.7h-1.7zM181.5 192.3h1.7v1.7h-1.7zM181.6 189.1h1.7v1.7h-1.7zM182.3 210.0h1.7v1.7h-1.7zM182.6 208.3h1.7v1.7h-1.7zM182.6 207.3h1.7v1.7h-1.7zM182.5 207.4h1.7v1.7h-1.7zM182.4 205.8h1.7v1.7h-1.7zM182.4 204.2h1.7v1.7h-1.7zM182.4 202.0h1.7v1.7h-1.7zM182.5 201.8h1.7v1.7h-1.7zM182.5 202.2h1.7v1.7h-1.7zM182.5 199.7h1.7v1.7h-1.7zM182.5 199.6h1.7v1.7h-1.7zM182.5 199.6h1.7v1.7h-1.7zM182.3 198.8h1.7v1.7h-1.7zM182.5 196.1h1.7v1.7h-1.7zM182.6 189.9h1.7v1.7h-1.7zM182.4 188.3h1.7v1.7h-1.7zM183.6 212.4h1.7v1.7h-1.7zM183.4 211.1h1.7v1.7h-1.7zM183.3 209.6h1.7v1.7h-1.7zM183.3 207.0h1.7v1.7h-1.7zM183.4 207.0h1.7v1.7h-1.7zM183.4 207.5h1.7v1.7h-1.7zM183.4 207.5h1.7v1.7h-1.7zM183.6 200.2h1.7v1.7h-1.7zM183.5 199.7h1.7v1.7h-1.7zM183.4 194.4h1.7v1.7h-1.7zM183.5 193.9h1.7v1.7h-1.7zM183.3 189.9h1.7v1.7h-1.7zM183.3 188.6h1.7v1.7h-1.7zM184.4 208.9h1.7v1.7h-1.7zM184.6 208.5h1.7v1.7h-1.7zM184.3 207.7h1.7v1.7h-1.7zM184.5 208.5h1.7v1.7h-1.7zM184.4 207.4h1.7v1.7h-1.7zM184.5 202.9h1.7v1.7h-1.7zM184.6 200.0h1.7v1.7h-1.7zM184.5 198.9h1.7v1.7h-1.7zM184.4 194.5h1.7v1.7h-1.7zM184.4 193.9h1.7v1.7h-1.7zM184.3 191.7h1.7v1.7h-1.7zM184.6 190.8h1.7v1.7h-1.7zM184.4 190.7h1.7v1.7h-1.7zM184.4 190.7h1.7v1.7h-1.7zM184.4 188.1h1.7v1.7h-1.7zM185.6 217.4h1.7v1.7h-1.7zM185.5 216.5h1.7v1.7h-1.7zM185.5 215.7h1.7v1.7h-1.7zM185.5 215.7h1.7v1.7h-1.7zM185.4 216.5h1.7v1.7h-1.7zM185.5 215.1h1.7v1.7h-1.7zM185.4 213.8h1.7v1.7h-1.7zM185.5 211.8h1.7v1.7h-1.7zM185.5 211.9h1.7v1.7h-1.7zM185.3 210.6h1.7v1.7h-1.7zM185.4 210.5h1.7v1.7h-1.7zM185.4 208.5h1.7v1.7h-1.7zM185.3 206.6h1.7v1.7h-1.7zM185.4 205.6h1.7v1.7h-1.7zM185.5 201.6h1.7v1.7h-1.7zM185.4 191.7h1.7v1.7h-1.7zM185.4 187.7h1.7v1.7h-1.7zM186.6 207.9h1.7v1.7h-1.7zM186.6 208.3h1.7v1.7h-1.7zM186.3 208.1h1.7v1.7h-1.7zM186.4 206.8h1.7v1.7h-1.7zM186.4 207.5h1.7v1.7h-1.7zM186.6 206.6h1.7v1.7h-1.7zM186.5 205.6h1.7v1.7h-1.7zM186.4 203.9h1.7v1.7h-1.7zM186.5 203.7h1.7v1.7h-1.7zM186.4 202.3h1.7v1.7h-1.7zM186.4 197.4h1.7v1.7h-1.7zM186.5 196.7h1.7v1.7h-1.7zM186.5 191.7h1.7v1.7h-1.7zM186.5 188.8h1.7v1.7h-1.7zM186.4 185.0h1.7v1.7h-1.7zM187.4 210.3h1.7v1.7h-1.7zM187.3 208.7h1.7v1.7h-1.7zM187.3 208.2h1.7v1.7h-1.7zM187.5 207.9h1.7v1.7h-1.7zM187.5 208.2h1.7v1.7h-1.7zM187.3 207.8h1.7v1.7h-1.7zM187.5 208.4h1.7v1.7h-1.7zM187.5 207.0h1.7v1.7h-1.7zM187.3 207.2h1.7v1.7h-1.7zM187.5 205.8h1.7v1.7h-1.7zM187.5 206.6h1.7v1.7h-1.7zM187.4 205.0h1.7v1.7h-1.7zM187.4 205.0h1.7v1.7h-1.7zM187.4 204.4h1.7v1.7h-1.7zM187.5 204.4h1.7v1.7h-1.7zM187.3 204.1h1.7v1.7h-1.7zM187.4 202.9h1.7v1.7h-1.7zM187.5 202.0h1.7v1.7h-1.7zM187.4 200.9h1.7v1.7h-1.7zM187.6 197.9h1.7v1.7h-1.7zM187.6 198.4h1.7v1.7h-1.7zM187.3 197.4h1.7v1.7h-1.7zM187.6 193.3h1.7v1.7h-1.7zM187.4 193.6h1.7v1.7h-1.7zM187.5 191.7h1.7v1.7h-1.7zM187.3 189.6h1.7v1.7h-1.7zM188.3 221.3h1.7v1.7h-1.7zM188.6 220.8h1.7v1.7h-1.7zM188.3 216.9h1.7v1.7h-1.7zM188.5 217.2h1.7v1.7h-1.7zM188.3 215.8h1.7v1.7h-1.7zM188.5 216.6h1.7v1.7h-1.7zM188.5 214.7h1.7v1.7h-1.7zM188.4 215.4h1.7v1.7h-1.7zM188.5 211.7h1.7v1.7h-1.7zM188.4 206.5h1.7v1.7h-1.7zM189.3 229.3h1.7v1.7h-1.7zM189.6 229.6h1.7v1.7h-1.7zM189.4 228.3h1.7v1.7h-1.7zM189.6 228.4h1.7v1.7h-1.7zM189.4 228.1h1.7v1.7h-1.7zM189.6 227.5h1.7v1.7h-1.7zM189.5 227.5h1.7v1.7h-1.7zM189.5 226.0h1.7v1.7h-1.7zM189.5 222.8h1.7v1.7h-1.7zM189.5 221.0h1.7v1.7h-1.7zM189.5 219.3h1.7v1.7h-1.7zM189.6 213.8h1.7v1.7h-1.7zM189.4 213.6h1.7v1.7h-1.7zM189.3 196.9h1.7v1.7h-1.7zM189.5 186.4h1.7v1.7h-1.7zM190.4 217.5h1.7v1.7h-1.7zM190.5 216.4h1.7v1.7h-1.7zM190.4 215.9h1.7v1.7h-1.7zM190.5 212.7h1.7v1.7h-1.7zM190.3 212.9h1.7v1.7h-1.7zM190.4 210.6h1.7v1.7h-1.7zM190.4 202.4h1.7v1.7h-1.7zM190.4 199.8h1.7v1.7h-1.7zM191.5 222.5h1.7v1.7h-1.7zM191.4 222.1h1.7v1.7h-1.7zM191.4 221.8h1.7v1.7h-1.7zM191.6 221.3h1.7v1.7h-1.7zM191.3 217.3h1.7v1.7h-1.7zM191.6 215.3h1.7v1.7h-1.7zM191.5 213.8h1.7v1.7h-1.7zM191.4 213.0h1.7v1.7h-1.7zM191.4 210.8h1.7v1.7h-1.7zM191.4 210.0h1.7v1.7h-1.7zM191.4 204.0h1.7v1.7h-1.7zM191.4 199.3h1.7v1.7h-1.7zM191.5 199.2h1.7v1.7h-1.7zM191.5 194.3h1.7v1.7h-1.7zM192.6 218.3h1.7v1.7h-1.7zM192.3 218.0h1.7v1.7h-1.7zM192.5 216.8h1.7v1.7h-1.7zM192.3 216.2h1.7v1.7h-1.7zM192.5 216.1h1.7v1.7h-1.7zM192.6 215.6h1.7v1.7h-1.7zM192.3 215.3h1.7v1.7h-1.7zM192.5 214.9h1.7v1.7h-1.7zM192.3 214.4h1.7v1.7h-1.7zM192.4 212.9h1.7v1.7h-1.7zM192.4 209.0h1.7v1.7h-1.7zM192.5 208.8h1.7v1.7h-1.7zM192.4 209.5h1.7v1.7h-1.7zM192.5 205.6h1.7v1.7h-1.7zM192.5 204.7h1.7v1.7h-1.7zM192.4 192.0h1.7v1.7h-1.7zM193.3 217.7h1.7v1.7h-1.7zM193.3 216.6h1.7v1.7h-1.7zM193.5 212.5h1.7v1.7h-1.7zM193.3 211.1h1.7v1.7h-1.7zM193.5 209.8h1.7v1.7h-1.7zM193.6 209.7h1.7v1.7h-1.7zM193.5 210.4h1.7v1.7h-1.7zM193.5 210.2h1.7v1.7h-1.7zM193.6 209.4h1.7v1.7h-1.7zM193.5 208.0h1.7v1.7h-1.7zM193.4 207.7h1.7v1.7h-1.7zM193.6 207.0h1.7v1.7h-1.7zM193.6 207.1h1.7v1.7h-1.7zM193.3 202.8h1.7v1.7h-1.7zM193.4 202.1h1.7v1.7h-1.7zM193.4 199.8h1.7v1.7h-1.7zM193.4 198.3h1.7v1.7h-1.7zM193.4 197.3h1.7v1.7h-1.7zM193.4 196.5h1.7v1.7h-1.7zM193.5 187.8h1.7v1.7h-1.7zM194.4 212.0h1.7v1.7h-1.7zM194.4 211.5h1.7v1.7h-1.7zM194.5 211.1h1.7v1.7h-1.7zM194.3 207.3h1.7v1.7h-1.7zM194.5 205.9h1.7v1.7h-1.7zM194.5 204.7h1.7v1.7h-1.7zM194.3 205.2h1.7v1.7h-1.7zM194.5 204.0h1.7v1.7h-1.7zM194.4 199.4h1.7v1.7h-1.7zM194.3 197.5h1.7v1.7h-1.7zM194.3 196.5h1.7v1.7h-1.7zM194.6 192.5h1.7v1.7h-1.7zM194.4 192.6h1.7v1.7h-1.7zM194.4 185.3h1.7v1.7h-1.7zM195.5 212.9h1.7v1.7h-1.7zM195.5 213.1h1.7v1.7h-1.7zM195.4 211.1h1.7v1.7h-1.7zM195.4 210.3h1.7v1.7h-1.7zM195.6 210.1h1.7v1.7h-1.7zM195.6 209.8h1.7v1.7h-1.7zM195.3 209.2h1.7v1.7h-1.7zM195.4 209.4h1.7v1.7h-1.7zM195.5 207.8h1.7v1.7h-1.7zM195.5 208.2h1.7v1.7h-1.7zM195.4 206.0h1.7v1.7h-1.7zM195.3 205.9h1.7v1.7h-1.7zM195.4 204.4h1.7v1.7h-1.7zM195.4 201.0h1.7v1.7h-1.7zM195.5 200.2h1.7v1.7h-1.7zM195.4 195.6h1.7v1.7h-1.7zM195.4 188.7h1.7v1.7h-1.7zM195.5 187.8h1.7v1.7h-1.7zM196.5 206.2h1.7v1.7h-1.7zM196.6 205.4h1.7v1.7h-1.7zM196.5 202.9h1.7v1.7h-1.7zM196.6 202.2h1.7v1.7h-1.7zM196.3 200.1h1.7v1.7h-1.7zM196.4 199.1h1.7v1.7h-1.7zM196.5 198.6h1.7v1.7h-1.7zM196.4 197.6h1.7v1.7h-1.7zM196.6 196.7h1.7v1.7h-1.7zM196.6 193.8h1.7v1.7h-1.7zM196.5 193.3h1.7v1.7h-1.7zM196.6 189.6h1.7v1.7h-1.7zM196.4 189.2h1.7v1.7h-1.7zM197.6 217.8h1.7v1.7h-1.7zM197.6 218.4h1.7v1.7h-1.7zM197.5 217.9h1.7v1.7h-1.7zM197.5 216.9h1.7v1.7h-1.7zM197.4 217.2h1.7v1.7h-1.7zM197.4 216.9h1.7v1.7h-1.7zM197.3 215.1h1.7v1.7h-1.7zM197.3 214.4h1.7v1.7h-1.7zM197.5 213.6h1.7v1.7h-1.7zM197.4 213.6h1.7v1.7h-1.7zM197.4 213.1h1.7v1.7h-1.7zM197.5 213.5h1.7v1.7h-1.7zM197.5 212.4h1.7v1.7h-1.7zM197.6 208.7h1.7v1.7h-1.7zM197.6 209.4h1.7v1.7h-1.7zM197.4 208.7h1.7v1.7h-1.7zM197.5 208.4h1.7v1.7h-1.7zM197.3 206.8h1.7v1.7h-1.7zM197.3 206.2h1.7v1.7h-1.7zM197.5 206.0h1.7v1.7h-1.7zM197.4 203.7h1.7v1.7h-1.7zM197.3 198.5h1.7v1.7h-1.7zM197.5 197.2h1.7v1.7h-1.7zM197.6 193.6h1.7v1.7h-1.7zM198.5 210.9h1.7v1.7h-1.7zM198.5 210.1h1.7v1.7h-1.7zM198.4 210.6h1.7v1.7h-1.7zM198.6 210.1h1.7v1.7h-1.7zM198.4 209.0h1.7v1.7h-1.7zM198.5 209.4h1.7v1.7h-1.7zM198.3 209.1h1.7v1.7h-1.7zM198.5 207.0h1.7v1.7h-1.7zM198.4 205.0h1.7v1.7h-1.7zM198.6 203.2h1.7v1.7h-1.7zM198.4 202.3h1.7v1.7h-1.7zM198.3 200.9h1.7v1.7h-1.7zM198.3 201.5h1.7v1.7h-1.7zM198.5 200.6h1.7v1.7h-1.7zM198.4 200.6h1.7v1.7h-1.7zM198.4 200.1h1.7v1.7h-1.7zM198.5 196.1h1.7v1.7h-1.7zM199.5 229.0h1.7v1.7h-1.7zM199.5 228.8h1.7v1.7h-1.7zM199.4 227.9h1.7v1.7h-1.7zM199.4 227.8h1.7v1.7h-1.7zM199.5 228.6h1.7v1.7h-1.7zM199.5 227.3h1.7v1.7h-1.7zM199.3 224.3h1.7v1.7h-1.7zM199.6 218.7h1.7v1.7h-1.7zM199.5 196.3h1.7v1.7h-1.7zM200.4 214.4h1.7v1.7h-1.7zM200.3 213.6h1.7v1.7h-1.7zM200.5 212.8h1.7v1.7h-1.7zM200.5 212.3h1.7v1.7h-1.7zM200.6 211.0h1.7v1.7h-1.7zM200.4 211.1h1.7v1.7h-1.7zM200.4 211.0h1.7v1.7h-1.7zM200.6 210.2h1.7v1.7h-1.7zM200.4 208.8h1.7v1.7h-1.7zM200.5 207.7h1.7v1.7h-1.7zM200.4 208.6h1.7v1.7h-1.7zM200.6 207.4h1.7v1.7h-1.7zM200.5 205.7h1.7v1.7h-1.7zM200.3 204.2h1.7v1.7h-1.7zM200.4 204.3h1.7v1.7h-1.7zM200.3 198.6h1.7v1.7h-1.7zM200.4 187.2h1.7v1.7h-1.7zM201.4 215.8h1.7v1.7h-1.7zM201.3 215.9h1.7v1.7h-1.7zM201.6 216.3h1.7v1.7h-1.7zM201.3 215.0h1.7v1.7h-1.7zM201.4 215.1h1.7v1.7h-1.7zM201.5 214.1h1.7v1.7h-1.7zM201.4 213.7h1.7v1.7h-1.7zM201.3 214.4h1.7v1.7h-1.7zM201.4 213.3h1.7v1.7h-1.7zM201.4 213.6h1.7v1.7h-1.7zM201.3 212.8h1.7v1.7h-1.7zM201.5 211.9h1.7v1.7h-1.7zM201.3 212.1h1.7v1.7h-1.7zM201.6 210.8h1.7v1.7h-1.7zM201.3 211.5h1.7v1.7h-1.7zM201.5 209.8h1.7v1.7h-1.7zM201.4 208.9h1.7v1.7h-1.7zM201.5 206.6h1.7v1.7h-1.7zM201.4 206.3h1.7v1.7h-1.7zM201.4 206.2h1.7v1.7h-1.7zM201.5 204.2h1.7v1.7h-1.7zM201.5 199.6h1.7v1.7h-1.7zM201.6 198.1h1.7v1.7h-1.7zM202.4 213.5h1.7v1.7h-1.7zM202.3 213.3h1.7v1.7h-1.7zM202.6 212.3h1.7v1.7h-1.7zM202.4 211.9h1.7v1.7h-1.7zM202.3 212.2h1.7v1.7h-1.7zM202.5 211.1h1.7v1.7h-1.7zM202.6 210.7h1.7v1.7h-1.7zM202.5 210.7h1.7v1.7h-1.7zM202.3 210.7h1.7v1.7h-1.7zM202.3 210.1h1.7v1.7h-1.7zM202.5 208.7h1.7v1.7h-1.7zM202.5 209.3h1.7v1.7h-1.7zM202.5 208.5h1.7v1.7h-1.7zM202.5 206.9h1.7v1.7h-1.7zM202.4 207.3h1.7v1.7h-1.7zM202.6 207.6h1.7v1.7h-1.7zM202.5 205.5h1.7v1.7h-1.7zM202.4 205.5h1.7v1.7h-1.7zM202.3 204.4h1.7v1.7h-1.7zM202.5 201.4h1.7v1.7h-1.7zM202.3 200.8h1.7v1.7h-1.7zM202.5 201.0h1.7v1.7h-1.7zM202.3 198.7h1.7v1.7h-1.7zM202.3 198.4h1.7v1.7h-1.7zM202.3 197.5h1.7v1.7h-1.7zM202.3 195.1h1.7v1.7h-1.7zM202.5 195.4h1.7v1.7h-1.7zM202.5 193.1h1.7v1.7h-1.7zM202.5 193.5h1.7v1.7h-1.7zM203.4 219.7h1.7v1.7h-1.7zM203.4 219.7h1.7v1.7h-1.7zM203.5 219.8h1.7v1.7h-1.7zM203.6 218.9h1.7v1.7h-1.7zM203.5 218.2h1.7v1.7h-1.7zM203.5 216.5h1.7v1.7h-1.7zM203.5 215.9h1.7v1.7h-1.7zM203.5 216.1h1.7v1.7h-1.7zM203.5 211.9h1.7v1.7h-1.7zM203.4 210.5h1.7v1.7h-1.7zM203.5 210.1h1.7v1.7h-1.7zM203.4 210.0h1.7v1.7h-1.7zM203.6 210.4h1.7v1.7h-1.7zM203.4 205.9h1.7v1.7h-1.7zM203.4 205.7h1.7v1.7h-1.7zM203.3 203.8h1.7v1.7h-1.7zM203.5 196.1h1.7v1.7h-1.7zM204.4 214.0h1.7v1.7h-1.7zM204.4 213.1h1.7v1.7h-1.7zM204.5 212.3h1.7v1.7h-1.7zM204.6 212.1h1.7v1.7h-1.7zM204.4 211.3h1.7v1.7h-1.7zM204.5 211.1h1.7v1.7h-1.7zM204.5 209.1h1.7v1.7h-1.7zM204.6 208.8h1.7v1.7h-1.7zM204.6 208.2h1.7v1.7h-1.7zM204.3 206.7h1.7v1.7h-1.7zM204.4 203.1h1.7v1.7h-1.7zM204.5 203.0h1.7v1.7h-1.7zM204.3 201.2h1.7v1.7h-1.7zM204.5 200.5h1.7v1.7h-1.7zM204.4 200.3h1.7v1.7h-1.7zM204.5 192.1h1.7v1.7h-1.7zM230.5 220.5h1.7v1.7h-1.7zM230.6 219.7h1.7v1.7h-1.7zM230.7 218.7h1.7v1.7h-1.7zM230.5 219.0h1.7v1.7h-1.7zM230.7 216.8h1.7v1.7h-1.7zM230.6 216.8h1.7v1.7h-1.7zM230.6 216.3h1.7v1.7h-1.7zM230.6 214.6h1.7v1.7h-1.7zM230.6 214.1h1.7v1.7h-1.7zM230.6 214.3h1.7v1.7h-1.7zM230.5 212.6h1.7v1.7h-1.7zM230.4 209.8h1.7v1.7h-1.7zM230.5 207.3h1.7v1.7h-1.7zM230.4 202.9h1.7v1.7h-1.7zM230.6 203.5h1.7v1.7h-1.7zM230.4 199.2h1.7v1.7h-1.7zM230.7 195.1h1.7v1.7h-1.7zM230.6 191.4h1.7v1.7h-1.7zM230.4 191.4h1.7v1.7h-1.7zM230.4 189.8h1.7v1.7h-1.7zM231.4 220.2h1.7v1.7h-1.7zM231.7 219.8h1.7v1.7h-1.7zM231.6 219.2h1.7v1.7h-1.7zM231.5 218.7h1.7v1.7h-1.7zM231.6 216.9h1.7v1.7h-1.7zM231.7 215.0h1.7v1.7h-1.7zM231.4 215.1h1.7v1.7h-1.7zM231.6 212.7h1.7v1.7h-1.7zM231.5 212.9h1.7v1.7h-1.7zM231.6 211.6h1.7v1.7h-1.7zM231.4 211.4h1.7v1.7h-1.7zM231.6 210.6h1.7v1.7h-1.7zM231.6 208.7h1.7v1.7h-1.7zM231.4 198.0h1.7v1.7h-1.7zM231.6 193.9h1.7v1.7h-1.7zM232.4 214.5h1.7v1.7h-1.7zM232.5 213.8h1.7v1.7h-1.7zM232.5 214.3h1.7v1.7h-1.7zM232.6 211.9h1.7v1.7h-1.7zM232.4 211.4h1.7v1.7h-1.7zM232.4 210.0h1.7v1.7h-1.7zM232.5 209.7h1.7v1.7h-1.7zM232.5 210.1h1.7v1.7h-1.7zM232.5 207.0h1.7v1.7h-1.7zM232.7 206.6h1.7v1.7h-1.7zM232.5 206.2h1.7v1.7h-1.7zM232.4 204.3h1.7v1.7h-1.7zM232.6 202.0h1.7v1.7h-1.7zM232.6 199.8h1.7v1.7h-1.7zM232.7 198.6h1.7v1.7h-1.7zM232.5 196.4h1.7v1.7h-1.7zM232.7 194.8h1.7v1.7h-1.7zM233.6 207.5h1.7v1.7h-1.7zM233.6 206.6h1.7v1.7h-1.7zM233.5 206.3h1.7v1.7h-1.7zM233.6 205.8h1.7v1.7h-1.7zM233.5 204.7h1.7v1.7h-1.7zM233.6 203.8h1.7v1.7h-1.7zM233.5 201.4h1.7v1.7h-1.7zM233.5 200.5h1.7v1.7h-1.7zM233.6 199.1h1.7v1.7h-1.7zM233.6 196.2h1.7v1.7h-1.7zM233.5 196.5h1.7v1.7h-1.7zM233.7 193.4h1.7v1.7h-1.7zM233.6 184.2h1.7v1.7h-1.7zM234.6 224.0h1.7v1.7h-1.7zM234.5 222.9h1.7v1.7h-1.7zM234.5 220.9h1.7v1.7h-1.7zM234.6 220.7h1.7v1.7h-1.7zM234.6 221.4h1.7v1.7h-1.7zM234.5 221.3h1.7v1.7h-1.7zM234.6 221.5h1.7v1.7h-1.7zM234.4 220.3h1.7v1.7h-1.7zM234.6 219.5h1.7v1.7h-1.7zM234.7 219.6h1.7v1.7h-1.7zM234.5 216.9h1.7v1.7h-1.7zM234.7 216.1h1.7v1.7h-1.7zM234.6 215.6h1.7v1.7h-1.7zM234.6 213.8h1.7v1.7h-1.7zM234.4 214.3h1.7v1.7h-1.7zM234.7 199.8h1.7v1.7h-1.7zM235.5 216.1h1.7v1.7h-1.7zM235.4 215.2h1.7v1.7h-1.7zM235.6 214.3h1.7v1.7h-1.7zM235.5 213.8h1.7v1.7h-1.7zM235.4 213.5h1.7v1.7h-1.7zM235.6 213.1h1.7v1.7h-1.7zM235.7 211.7h1.7v1.7h-1.7zM235.5 209.8h1.7v1.7h-1.7zM235.6 210.2h1.7v1.7h-1.7zM235.6 204.8h1.7v1.7h-1.7zM235.4 203.4h1.7v1.7h-1.7zM235.6 202.1h1.7v1.7h-1.7zM235.6 196.4h1.7v1.7h-1.7zM235.4 194.0h1.7v1.7h-1.7zM236.4 214.0h1.7v1.7h-1.7zM236.6 212.1h1.7v1.7h-1.7zM236.6 212.6h1.7v1.7h-1.7zM236.7 211.2h1.7v1.7h-1.7zM236.7 211.2h1.7v1.7h-1.7zM236.7 211.2h1.7v1.7h-1.7zM236.6 205.8h1.7v1.7h-1.7zM236.6 205.8h1.7v1.7h-1.7zM236.5 204.8h1.7v1.7h-1.7zM236.4 197.7h1.7v1.7h-1.7zM236.6 188.8h1.7v1.7h-1.7zM236.4 184.4h1.7v1.7h-1.7zM237.6 215.4h1.7v1.7h-1.7zM237.6 215.0h1.7v1.7h-1.7zM237.7 214.7h1.7v1.7h-1.7zM237.7 213.9h1.7v1.7h-1.7zM237.5 213.8h1.7v1.7h-1.7zM237.6 213.4h1.7v1.7h-1.7zM237.6 213.1h1.7v1.7h-1.7zM237.5 212.2h1.7v1.7h-1.7zM237.7 212.3h1.7v1.7h-1.7zM237.7 210.9h1.7v1.7h-1.7zM237.4 210.9h1.7v1.7h-1.7zM237.7 210.9h1.7v1.7h-1.7zM237.4 209.1h1.7v1.7h-1.7zM237.4 209.5h1.7v1.7h-1.7zM237.4 208.6h1.7v1.7h-1.7zM237.6 208.3h1.7v1.7h-1.7zM237.5 206.3h1.7v1.7h-1.7zM237.4 204.6h1.7v1.7h-1.7zM237.4 203.7h1.7v1.7h-1.7zM237.5 196.2h1.7v1.7h-1.7zM237.4 190.4h1.7v1.7h-1.7zM237.6 189.1h1.7v1.7h-1.7zM237.5 189.2h1.7v1.7h-1.7zM237.4 186.8h1.7v1.7h-1.7zM238.7 220.2h1.7v1.7h-1.7zM238.5 219.5h1.7v1.7h-1.7zM238.6 218.5h1.7v1.7h-1.7zM238.7 218.4h1.7v1.7h-1.7zM238.4 217.2h1.7v1.7h-1.7zM238.5 211.6h1.7v1.7h-1.7zM238.4 209.6h1.7v1.7h-1.7zM238.6 209.6h1.7v1.7h-1.7zM238.5 207.6h1.7v1.7h-1.7zM238.4 207.2h1.7v1.7h-1.7zM238.5 205.9h1.7v1.7h-1.7zM238.6 205.3h1.7v1.7h-1.7zM238.6 205.5h1.7v1.7h-1.7zM238.5 204.1h1.7v1.7h-1.7zM238.6 202.9h1.7v1.7h-1.7zM238.7 200.1h1.7v1.7h-1.7zM238.5 197.0h1.7v1.7h-1.7zM239.7 223.4h1.7v1.7h-1.7zM239.5 222.5h1.7v1.7h-1.7zM239.6 222.3h1.7v1.7h-1.7zM239.5 221.6h1.7v1.7h-1.7zM239.6 219.6h1.7v1.7h-1.7zM239.5 218.9h1.7v1.7h-1.7zM239.7 218.8h1.7v1.7h-1.7zM239.5 218.7h1.7v1.7h-1.7zM239.5 217.0h1.7v1.7h-1.7zM239.5 216.9h1.7v1.7h-1.7zM239.5 216.4h1.7v1.7h-1.7zM239.5 215.4h1.7v1.7h-1.7zM239.6 214.1h1.7v1.7h-1.7zM239.6 212.7h1.7v1.7h-1.7zM239.6 213.3h1.7v1.7h-1.7zM239.7 212.3h1.7v1.7h-1.7zM239.7 211.1h1.7v1.7h-1.7zM239.4 208.9h1.7v1.7h-1.7zM239.6 208.1h1.7v1.7h-1.7zM239.5 201.0h1.7v1.7h-1.7zM240.5 221.6h1.7v1.7h-1.7zM240.6 220.4h1.7v1.7h-1.7zM240.5 220.5h1.7v1.7h-1.7zM240.5 219.4h1.7v1.7h-1.7zM240.5 218.1h1.7v1.7h-1.7zM240.6 217.4h1.7v1.7h-1.7zM240.5 216.1h1.7v1.7h-1.7zM240.6 216.4h1.7v1.7h-1.7zM240.5 215.8h1.7v1.7h-1.7zM240.5 216.5h1.7v1.7h-1.7zM240.5 214.7h1.7v1.7h-1.7zM240.6 211.4h1.7v1.7h-1.7zM240.6 211.1h1.7v1.7h-1.7zM240.5 211.5h1.7v1.7h-1.7zM240.4 207.4h1.7v1.7h-1.7zM240.6 190.3h1.7v1.7h-1.7zM241.6 219.0h1.7v1.7h-1.7zM241.6 217.5h1.7v1.7h-1.7zM241.6 217.6h1.7v1.7h-1.7zM241.5 216.5h1.7v1.7h-1.7zM241.4 208.5h1.7v1.7h-1.7zM241.7 207.1h1.7v1.7h-1.7zM242.7 228.5h1.7v1.7h-1.7zM242.7 227.1h1.7v1.7h-1.7zM242.5 226.9h1.7v1.7h-1.7zM242.5 225.8h1.7v1.7h-1.7zM242.6 226.6h1.7v1.7h-1.7zM242.5 225.1h1.7v1.7h-1.7zM242.4 224.6h1.7v1.7h-1.7zM242.6 221.2h1.7v1.7h-1.7zM242.5 221.5h1.7v1.7h-1.7zM242.6 218.8h1.7v1.7h-1.7zM242.4 217.0h1.7v1.7h-1.7zM242.4 215.7h1.7v1.7h-1.7zM242.6 215.2h1.7v1.7h-1.7zM242.4 205.4h1.7v1.7h-1.7zM243.7 210.6h1.7v1.7h-1.7zM243.6 209.4h1.7v1.7h-1.7zM243.7 207.9h1.7v1.7h-1.7zM243.4 200.8h1.7v1.7h-1.7zM243.6 200.1h1.7v1.7h-1.7zM243.5 200.4h1.7v1.7h-1.7zM243.5 198.2h1.7v1.7h-1.7zM243.5 195.2h1.7v1.7h-1.7zM243.5 192.2h1.7v1.7h-1.7zM243.6 191.2h1.7v1.7h-1.7zM243.6 189.8h1.7v1.7h-1.7zM243.5 187.4h1.7v1.7h-1.7zM244.6 218.8h1.7v1.7h-1.7zM244.7 218.4h1.7v1.7h-1.7zM244.7 217.4h1.7v1.7h-1.7zM244.6 217.2h1.7v1.7h-1.7zM244.7 217.0h1.7v1.7h-1.7zM244.7 216.3h1.7v1.7h-1.7zM244.7 213.5h1.7v1.7h-1.7zM244.4 212.3h1.7v1.7h-1.7zM244.5 211.8h1.7v1.7h-1.7zM244.6 209.1h1.7v1.7h-1.7zM244.5 209.6h1.7v1.7h-1.7zM244.4 207.3h1.7v1.7h-1.7zM244.5 199.4h1.7v1.7h-1.7zM244.5 198.0h1.7v1.7h-1.7zM244.5 192.6h1.7v1.7h-1.7zM245.6 215.9h1.7v1.7h-1.7zM245.6 215.7h1.7v1.7h-1.7zM245.5 216.4h1.7v1.7h-1.7zM245.6 214.0h1.7v1.7h-1.7zM245.6 213.0h1.7v1.7h-1.7zM245.5 211.9h1.7v1.7h-1.7zM245.5 210.7h1.7v1.7h-1.7zM245.7 209.2h1.7v1.7h-1.7zM245.5 208.7h1.7v1.7h-1.7zM245.5 209.0h1.7v1.7h-1.7zM245.5 209.3h1.7v1.7h-1.7zM245.6 207.7h1.7v1.7h-1.7zM245.4 208.2h1.7v1.7h-1.7zM245.4 204.5h1.7v1.7h-1.7zM245.4 203.0h1.7v1.7h-1.7zM245.7 187.0h1.7v1.7h-1.7zM246.6 222.5h1.7v1.7h-1.7zM246.7 222.3h1.7v1.7h-1.7zM246.5 221.7h1.7v1.7h-1.7zM246.6 217.7h1.7v1.7h-1.7zM246.6 217.8h1.7v1.7h-1.7zM246.4 218.0h1.7v1.7h-1.7zM246.7 216.5h1.7v1.7h-1.7zM246.6 215.3h1.7v1.7h-1.7zM246.4 214.4h1.7v1.7h-1.7zM246.6 213.5h1.7v1.7h-1.7zM246.6 209.2h1.7v1.7h-1.7zM246.7 209.0h1.7v1.7h-1.7zM246.6 206.8h1.7v1.7h-1.7zM246.5 206.2h1.7v1.7h-1.7zM246.6 203.3h1.7v1.7h-1.7zM246.5 203.6h1.7v1.7h-1.7zM246.5 190.0h1.7v1.7h-1.7zM246.5 185.5h1.7v1.7h-1.7zM247.5 220.4h1.7v1.7h-1.7zM247.6 220.0h1.7v1.7h-1.7zM247.6 218.1h1.7v1.7h-1.7zM247.6 217.1h1.7v1.7h-1.7zM247.5 215.9h1.7v1.7h-1.7zM247.5 216.6h1.7v1.7h-1.7zM247.5 215.0h1.7v1.7h-1.7zM247.5 212.8h1.7v1.7h-1.7zM247.7 213.3h1.7v1.7h-1.7zM247.4 212.8h1.7v1.7h-1.7zM247.5 204.2h1.7v1.7h-1.7zM247.6 199.7h1.7v1.7h-1.7zM248.5 218.5h1.7v1.7h-1.7zM248.4 218.6h1.7v1.7h-1.7zM248.5 218.2h1.7v1.7h-1.7zM248.6 217.6h1.7v1.7h-1.7zM248.6 217.2h1.7v1.7h-1.7zM248.5 217.6h1.7v1.7h-1.7zM248.6 216.1h1.7v1.7h-1.7zM248.4 215.3h1.7v1.7h-1.7zM248.5 214.3h1.7v1.7h-1.7zM248.5 211.9h1.7v1.7h-1.7zM248.5 211.1h1.7v1.7h-1.7zM248.7 208.7h1.7v1.7h-1.7zM248.7 207.9h1.7v1.7h-1.7zM248.6 206.8h1.7v1.7h-1.7zM248.4 200.6h1.7v1.7h-1.7zM248.4 198.7h1.7v1.7h-1.7zM248.7 196.5h1.7v1.7h-1.7zM248.4 192.8h1.7v1.7h-1.7zM248.6 188.1h1.7v1.7h-1.7zM248.6 185.7h1.7v1.7h-1.7zM249.6 212.1h1.7v1.7h-1.7zM249.4 212.4h1.7v1.7h-1.7zM249.7 212.3h1.7v1.7h-1.7zM249.5 211.2h1.7v1.7h-1.7zM249.5 211.1h1.7v1.7h-1.7zM249.4 210.1h1.7v1.7h-1.7zM249.7 210.6h1.7v1.7h-1.7zM249.6 208.0h1.7v1.7h-1.7zM249.5 206.7h1.7v1.7h-1.7zM249.6 207.0h1.7v1.7h-1.7zM249.6 206.0h1.7v1.7h-1.7zM249.5 202.5h1.7v1.7h-1.7zM249.7 202.0h1.7v1.7h-1.7zM249.6 200.5h1.7v1.7h-1.7zM249.6 197.4h1.7v1.7h-1.7zM249.4 196.4h1.7v1.7h-1.7zM249.6 187.8h1.7v1.7h-1.7zM249.7 186.8h1.7v1.7h-1.7zM250.5 212.3h1.7v1.7h-1.7zM250.6 211.1h1.7v1.7h-1.7zM250.4 208.7h1.7v1.7h-1.7zM250.4 208.9h1.7v1.7h-1.7zM250.6 206.8h1.7v1.7h-1.7zM250.5 204.8h1.7v1.7h-1.7zM250.5 199.8h1.7v1.7h-1.7zM250.6 197.7h1.7v1.7h-1.7zM250.7 194.8h1.7v1.7h-1.7zM250.5 192.8h1.7v1.7h-1.7zM250.6 187.6h1.7v1.7h-1.7zM251.4 213.8h1.7v1.7h-1.7zM251.5 212.6h1.7v1.7h-1.7zM251.5 211.8h1.7v1.7h-1.7zM251.4 212.3h1.7v1.7h-1.7zM251.7 212.0h1.7v1.7h-1.7zM251.7 210.7h1.7v1.7h-1.7zM251.5 211.0h1.7v1.7h-1.7zM251.5 210.5h1.7v1.7h-1.7zM251.6 208.0h1.7v1.7h-1.7zM251.6 206.2h1.7v1.7h-1.7zM251.5 204.0h1.7v1.7h-1.7zM251.7 202.2h1.7v1.7h-1.7zM251.6 200.4h1.7v1.7h-1.7zM251.4 198.7h1.7v1.7h-1.7zM251.5 199.4h1.7v1.7h-1.7zM251.5 198.4h1.7v1.7h-1.7zM251.5 198.6h1.7v1.7h-1.7zM251.5 188.3h1.7v1.7h-1.7zM252.5 225.6h1.7v1.7h-1.7zM252.4 225.0h1.7v1.7h-1.7zM252.7 224.0h1.7v1.7h-1.7zM252.6 223.8h1.7v1.7h-1.7zM252.4 223.4h1.7v1.7h-1.7zM252.6 222.0h1.7v1.7h-1.7zM252.7 221.9h1.7v1.7h-1.7zM252.5 222.1h1.7v1.7h-1.7zM252.4 221.8h1.7v1.7h-1.7zM252.5 221.0h1.7v1.7h-1.7zM252.5 220.4h1.7v1.7h-1.7zM252.7 218.0h1.7v1.7h-1.7zM252.6 218.6h1.7v1.7h-1.7zM252.5 208.5h1.7v1.7h-1.7zM252.5 196.1h1.7v1.7h-1.7zM252.5 193.8h1.7v1.7h-1.7zM275.3 225.1h1.7v1.7h-1.7zM275.2 225.2h1.7v1.7h-1.7zM275.3 225.4h1.7v1.7h-1.7zM275.2 224.4h1.7v1.7h-1.7zM275.4 223.9h1.7v1.7h-1.7zM275.2 223.4h1.7v1.7h-1.7zM275.2 223.6h1.7v1.7h-1.7zM275.3 221.1h1.7v1.7h-1.7zM275.2 221.4h1.7v1.7h-1.7zM275.3 220.5h1.7v1.7h-1.7zM275.3 220.2h1.7v1.7h-1.7zM275.2 218.9h1.7v1.7h-1.7zM275.3 218.1h1.7v1.7h-1.7zM275.2 217.3h1.7v1.7h-1.7zM275.4 215.8h1.7v1.7h-1.7zM275.2 196.2h1.7v1.7h-1.7zM276.3 231.1h1.7v1.7h-1.7zM276.2 230.6h1.7v1.7h-1.7zM276.2 229.7h1.7v1.7h-1.7zM276.3 230.2h1.7v1.7h-1.7zM276.4 229.6h1.7v1.7h-1.7zM276.4 229.4h1.7v1.7h-1.7zM276.2 229.5h1.7v1.7h-1.7zM276.1 229.1h1.7v1.7h-1.7zM276.3 228.4h1.7v1.7h-1.7zM276.3 227.8h1.7v1.7h-1.7zM276.2 227.0h1.7v1.7h-1.7zM276.2 226.7h1.7v1.7h-1.7zM276.4 225.9h1.7v1.7h-1.7zM276.3 225.1h1.7v1.7h-1.7zM276.3 225.5h1.7v1.7h-1.7zM276.3 224.5h1.7v1.7h-1.7zM276.1 224.4h1.7v1.7h-1.7zM276.1 223.9h1.7v1.7h-1.7zM276.2 218.8h1.7v1.7h-1.7zM276.2 216.4h1.7v1.7h-1.7zM276.2 214.5h1.7v1.7h-1.7zM276.2 211.2h1.7v1.7h-1.7zM276.2 209.2h1.7v1.7h-1.7zM276.3 198.3h1.7v1.7h-1.7zM277.2 226.5h1.7v1.7h-1.7zM277.2 224.7h1.7v1.7h-1.7zM277.3 224.3h1.7v1.7h-1.7zM277.1 223.9h1.7v1.7h-1.7zM277.2 223.5h1.7v1.7h-1.7zM277.2 223.1h1.7v1.7h-1.7zM277.1 222.0h1.7v1.7h-1.7zM277.3 221.8h1.7v1.7h-1.7zM277.3 222.4h1.7v1.7h-1.7zM277.2 221.3h1.7v1.7h-1.7zM277.2 216.4h1.7v1.7h-1.7zM277.4 214.2h1.7v1.7h-1.7zM277.4 214.1h1.7v1.7h-1.7zM277.2 213.9h1.7v1.7h-1.7zM277.4 205.2h1.7v1.7h-1.7zM277.2 201.4h1.7v1.7h-1.7zM277.2 192.0h1.7v1.7h-1.7zM278.2 224.5h1.7v1.7h-1.7zM278.2 224.3h1.7v1.7h-1.7zM278.3 223.1h1.7v1.7h-1.7zM278.3 222.1h1.7v1.7h-1.7zM278.3 222.5h1.7v1.7h-1.7zM278.3 219.6h1.7v1.7h-1.7zM278.4 219.0h1.7v1.7h-1.7zM278.4 218.7h1.7v1.7h-1.7zM278.3 217.7h1.7v1.7h-1.7zM278.3 217.0h1.7v1.7h-1.7zM278.3 217.4h1.7v1.7h-1.7zM278.4 216.2h1.7v1.7h-1.7zM278.4 215.3h1.7v1.7h-1.7zM278.4 213.5h1.7v1.7h-1.7zM278.2 210.8h1.7v1.7h-1.7zM278.3 202.6h1.7v1.7h-1.7zM278.3 201.2h1.7v1.7h-1.7zM279.3 234.5h1.7v1.7h-1.7zM279.2 234.3h1.7v1.7h-1.7zM279.1 232.5h1.7v1.7h-1.7zM279.4 230.0h1.7v1.7h-1.7zM279.4 229.4h1.7v1.7h-1.7zM279.1 228.6h1.7v1.7h-1.7zM279.2 227.2h1.7v1.7h-1.7zM279.1 225.8h1.7v1.7h-1.7zM279.3 221.8h1.7v1.7h-1.7zM279.1 220.4h1.7v1.7h-1.7zM279.2 219.4h1.7v1.7h-1.7zM279.2 212.8h1.7v1.7h-1.7zM279.4 209.4h1.7v1.7h-1.7zM280.1 225.2h1.7v1.7h-1.7zM280.1 225.3h1.7v1.7h-1.7zM280.2 224.8h1.7v1.7h-1.7zM280.3 225.6h1.7v1.7h-1.7zM280.3 224.0h1.7v1.7h-1.7zM280.2 224.4h1.7v1.7h-1.7zM280.3 223.3h1.7v1.7h-1.7zM280.4 221.8h1.7v1.7h-1.7zM280.2 220.8h1.7v1.7h-1.7zM280.3 221.1h1.7v1.7h-1.7zM280.2 221.6h1.7v1.7h-1.7zM280.1 219.7h1.7v1.7h-1.7zM280.2 218.7h1.7v1.7h-1.7zM280.1 217.8h1.7v1.7h-1.7zM280.4 216.7h1.7v1.7h-1.7zM280.2 216.8h1.7v1.7h-1.7zM280.3 215.2h1.7v1.7h-1.7zM280.4 214.8h1.7v1.7h-1.7zM280.4 212.4h1.7v1.7h-1.7zM280.3 207.0h1.7v1.7h-1.7zM280.3 202.5h1.7v1.7h-1.7zM280.2 189.7h1.7v1.7h-1.7zM281.2 221.5h1.7v1.7h-1.7zM281.1 220.4h1.7v1.7h-1.7zM281.3 219.8h1.7v1.7h-1.7zM281.4 220.5h1.7v1.7h-1.7zM281.4 218.8h1.7v1.7h-1.7zM281.4 219.2h1.7v1.7h-1.7zM281.4 219.2h1.7v1.7h-1.7zM281.2 217.5h1.7v1.7h-1.7zM281.2 217.1h1.7v1.7h-1.7zM281.1 215.7h1.7v1.7h-1.7zM281.4 216.3h1.7v1.7h-1.7zM281.3 215.1h1.7v1.7h-1.7zM281.1 214.8h1.7v1.7h-1.7zM281.3 213.0h1.7v1.7h-1.7zM281.2 208.9h1.7v1.7h-1.7zM281.4 201.7h1.7v1.7h-1.7zM281.2 194.6h1.7v1.7h-1.7zM282.3 215.0h1.7v1.7h-1.7zM282.2 212.9h1.7v1.7h-1.7zM282.2 210.1h1.7v1.7h-1.7zM282.2 209.9h1.7v1.7h-1.7zM282.2 201.6h1.7v1.7h-1.7zM282.3 200.3h1.7v1.7h-1.7zM282.2 189.0h1.7v1.7h-1.7zM283.4 216.4h1.7v1.7h-1.7zM283.3 216.0h1.7v1.7h-1.7zM283.4 215.0h1.7v1.7h-1.7zM283.3 214.8h1.7v1.7h-1.7zM283.1 215.1h1.7v1.7h-1.7zM283.1 215.4h1.7v1.7h-1.7zM283.2 214.1h1.7v1.7h-1.7zM283.3 212.8h1.7v1.7h-1.7zM283.3 211.8h1.7v1.7h-1.7zM283.1 212.2h1.7v1.7h-1.7zM283.3 210.7h1.7v1.7h-1.7zM283.4 209.4h1.7v1.7h-1.7zM283.2 209.0h1.7v1.7h-1.7zM283.2 207.1h1.7v1.7h-1.7zM283.2 207.4h1.7v1.7h-1.7zM283.4 207.5h1.7v1.7h-1.7zM283.4 205.0h1.7v1.7h-1.7zM283.4 205.3h1.7v1.7h-1.7zM283.4 205.0h1.7v1.7h-1.7zM283.4 204.7h1.7v1.7h-1.7zM283.3 195.0h1.7v1.7h-1.7zM283.3 188.1h1.7v1.7h-1.7zM284.1 220.5h1.7v1.7h-1.7zM284.2 217.2h1.7v1.7h-1.7zM284.3 217.1h1.7v1.7h-1.7zM284.2 216.9h1.7v1.7h-1.7zM284.2 212.9h1.7v1.7h-1.7zM284.2 212.6h1.7v1.7h-1.7zM284.2 210.4h1.7v1.7h-1.7zM284.2 210.3h1.7v1.7h-1.7zM284.3 202.3h1.7v1.7h-1.7zM284.4 201.3h1.7v1.7h-1.7zM284.1 193.1h1.7v1.7h-1.7zM285.2 220.9h1.7v1.7h-1.7zM285.2 221.0h1.7v1.7h-1.7zM285.2 219.9h1.7v1.7h-1.7zM285.2 220.6h1.7v1.7h-1.7zM285.4 218.9h1.7v1.7h-1.7zM285.1 219.4h1.7v1.7h-1.7zM285.4 218.1h1.7v1.7h-1.7zM285.2 218.4h1.7v1.7h-1.7zM285.4 217.5h1.7v1.7h-1.7zM285.2 216.2h1.7v1.7h-1.7zM285.2 216.4h1.7v1.7h-1.7zM285.3 215.2h1.7v1.7h-1.7zM285.3 215.3h1.7v1.7h-1.7zM285.4 214.3h1.7v1.7h-1.7zM285.1 214.5h1.7v1.7h-1.7zM285.1 214.6h1.7v1.7h-1.7zM285.4 213.9h1.7v1.7h-1.7zM285.3 211.0h1.7v1.7h-1.7zM285.3 210.3h1.7v1.7h-1.7zM285.4 209.7h1.7v1.7h-1.7zM285.2 206.8h1.7v1.7h-1.7zM285.2 202.9h1.7v1.7h-1.7zM285.3 192.3h1.7v1.7h-1.7zM286.2 233.8h1.7v1.7h-1.7zM286.3 234.1h1.7v1.7h-1.7zM286.2 232.0h1.7v1.7h-1.7zM286.3 231.4h1.7v1.7h-1.7zM286.3 229.4h1.7v1.7h-1.7zM286.4 225.7h1.7v1.7h-1.7zM286.1 218.0h1.7v1.7h-1.7zM287.2 217.0h1.7v1.7h-1.7zM287.2 217.0h1.7v1.7h-1.7zM287.1 216.2h1.7v1.7h-1.7zM287.2 216.3h1.7v1.7h-1.7zM287.4 215.1h1.7v1.7h-1.7zM287.2 213.7h1.7v1.7h-1.7zM287.2 212.9h1.7v1.7h-1.7zM287.3 213.0h1.7v1.7h-1.7zM287.2 212.4h1.7v1.7h-1.7zM287.2 210.1h1.7v1.7h-1.7zM287.3 209.2h1.7v1.7h-1.7zM287.2 205.9h1.7v1.7h-1.7zM287.3 203.1h1.7v1.7h-1.7zM287.2 201.9h1.7v1.7h-1.7zM287.4 197.1h1.7v1.7h-1.7zM287.2 196.5h1.7v1.7h-1.7zM287.1 196.2h1.7v1.7h-1.7zM287.4 192.0h1.7v1.7h-1.7zM287.3 188.5h1.7v1.7h-1.7zM288.3 219.9h1.7v1.7h-1.7zM288.1 220.6h1.7v1.7h-1.7zM288.1 218.5h1.7v1.7h-1.7zM288.2 216.8h1.7v1.7h-1.7zM288.2 216.2h1.7v1.7h-1.7zM288.3 215.3h1.7v1.7h-1.7zM288.4 215.2h1.7v1.7h-1.7zM288.1 213.4h1.7v1.7h-1.7zM288.3 212.2h1.7v1.7h-1.7zM288.2 206.9h1.7v1.7h-1.7zM288.1 206.1h1.7v1.7h-1.7zM288.3 203.1h1.7v1.7h-1.7zM289.3 216.6h1.7v1.7h-1.7zM289.2 215.0h1.7v1.7h-1.7zM289.3 214.1h1.7v1.7h-1.7zM289.4 214.0h1.7v1.7h-1.7zM289.3 212.8h1.7v1.7h-1.7zM289.2 211.8h1.7v1.7h-1.7zM289.2 212.4h1.7v1.7h-1.7zM289.3 211.4h1.7v1.7h-1.7zM289.2 209.9h1.7v1.7h-1.7zM289.3 209.2h1.7v1.7h-1.7zM289.3 208.9h1.7v1.7h-1.7zM289.4 207.7h1.7v1.7h-1.7zM289.2 207.0h1.7v1.7h-1.7zM289.2 206.3h1.7v1.7h-1.7zM289.1 200.8h1.7v1.7h-1.7zM289.2 199.1h1.7v1.7h-1.7zM289.2 199.2h1.7v1.7h-1.7zM289.2 193.3h1.7v1.7h-1.7zM289.3 187.0h1.7v1.7h-1.7zM289.1 184.8h1.7v1.7h-1.7zM290.2 220.3h1.7v1.7h-1.7zM290.2 220.3h1.7v1.7h-1.7zM290.4 219.1h1.7v1.7h-1.7zM290.1 219.6h1.7v1.7h-1.7zM290.3 219.2h1.7v1.7h-1.7zM290.2 218.4h1.7v1.7h-1.7zM290.2 217.2h1.7v1.7h-1.7zM290.2 217.3h1.7v1.7h-1.7zM290.2 217.4h1.7v1.7h-1.7zM290.4 215.7h1.7v1.7h-1.7zM290.2 215.1h1.7v1.7h-1.7zM290.3 215.0h1.7v1.7h-1.7zM290.4 211.3h1.7v1.7h-1.7zM290.1 211.3h1.7v1.7h-1.7zM290.2 208.7h1.7v1.7h-1.7zM290.3 208.7h1.7v1.7h-1.7zM290.4 209.6h1.7v1.7h-1.7zM290.4 206.8h1.7v1.7h-1.7zM290.2 201.9h1.7v1.7h-1.7zM290.4 201.5h1.7v1.7h-1.7zM290.1 193.2h1.7v1.7h-1.7zM290.2 192.7h1.7v1.7h-1.7zM290.1 188.9h1.7v1.7h-1.7zM291.1 213.2h1.7v1.7h-1.7zM291.2 213.3h1.7v1.7h-1.7zM291.2 212.0h1.7v1.7h-1.7zM291.2 211.7h1.7v1.7h-1.7zM291.3 211.6h1.7v1.7h-1.7zM291.3 209.3h1.7v1.7h-1.7zM291.1 205.7h1.7v1.7h-1.7zM291.2 202.5h1.7v1.7h-1.7zM291.4 201.7h1.7v1.7h-1.7zM291.3 195.9h1.7v1.7h-1.7zM292.3 210.5h1.7v1.7h-1.7zM292.4 209.8h1.7v1.7h-1.7zM292.2 210.0h1.7v1.7h-1.7zM292.2 208.9h1.7v1.7h-1.7zM292.2 208.0h1.7v1.7h-1.7zM292.3 207.3h1.7v1.7h-1.7zM292.4 207.1h1.7v1.7h-1.7zM292.2 206.1h1.7v1.7h-1.7zM292.1 206.2h1.7v1.7h-1.7zM292.4 205.2h1.7v1.7h-1.7zM292.2 202.5h1.7v1.7h-1.7zM292.3 192.2h1.7v1.7h-1.7zM292.3 190.4h1.7v1.7h-1.7zM292.1 190.6h1.7v1.7h-1.7zM292.4 189.0h1.7v1.7h-1.7zM293.2 205.2h1.7v1.7h-1.7zM293.1 205.2h1.7v1.7h-1.7zM293.3 205.0h1.7v1.7h-1.7zM293.2 205.2h1.7v1.7h-1.7zM293.2 205.2h1.7v1.7h-1.7zM293.2 205.4h1.7v1.7h-1.7zM293.3 203.8h1.7v1.7h-1.7zM293.4 204.1h1.7v1.7h-1.7zM293.2 202.8h1.7v1.7h-1.7zM293.2 201.8h1.7v1.7h-1.7zM293.2 200.9h1.7v1.7h-1.7zM293.4 201.3h1.7v1.7h-1.7zM293.1 200.5h1.7v1.7h-1.7zM293.3 200.3h1.7v1.7h-1.7zM293.2 200.0h1.7v1.7h-1.7zM293.2 200.3h1.7v1.7h-1.7zM293.1 198.4h1.7v1.7h-1.7zM293.4 198.5h1.7v1.7h-1.7zM293.2 196.9h1.7v1.7h-1.7zM293.1 196.9h1.7v1.7h-1.7zM293.3 197.5h1.7v1.7h-1.7zM293.3 195.7h1.7v1.7h-1.7zM293.3 194.7h1.7v1.7h-1.7zM293.1 191.8h1.7v1.7h-1.7zM293.2 190.5h1.7v1.7h-1.7zM293.3 187.7h1.7v1.7h-1.7zM294.2 215.7h1.7v1.7h-1.7zM294.2 215.1h1.7v1.7h-1.7zM294.2 214.0h1.7v1.7h-1.7zM294.1 213.8h1.7v1.7h-1.7zM294.1 214.6h1.7v1.7h-1.7zM294.1 214.4h1.7v1.7h-1.7zM294.3 212.1h1.7v1.7h-1.7zM294.3 212.5h1.7v1.7h-1.7zM294.2 211.3h1.7v1.7h-1.7zM294.1 208.8h1.7v1.7h-1.7zM294.2 208.0h1.7v1.7h-1.7zM294.4 206.7h1.7v1.7h-1.7zM294.2 207.5h1.7v1.7h-1.7zM294.3 206.1h1.7v1.7h-1.7zM294.3 204.8h1.7v1.7h-1.7zM294.1 199.1h1.7v1.7h-1.7zM294.4 196.9h1.7v1.7h-1.7zM294.2 193.9h1.7v1.7h-1.7zM294.3 192.2h1.7v1.7h-1.7zM294.4 190.3h1.7v1.7h-1.7zM295.4 217.9h1.7v1.7h-1.7zM295.4 218.0h1.7v1.7h-1.7zM295.3 218.0h1.7v1.7h-1.7zM295.2 217.0h1.7v1.7h-1.7zM295.2 216.7h1.7v1.7h-1.7zM295.4 217.5h1.7v1.7h-1.7zM295.1 216.5h1.7v1.7h-1.7zM295.4 216.1h1.7v1.7h-1.7zM295.2 215.9h1.7v1.7h-1.7zM295.3 214.2h1.7v1.7h-1.7zM295.4 213.3h1.7v1.7h-1.7zM295.2 212.5h1.7v1.7h-1.7zM295.2 209.5h1.7v1.7h-1.7zM295.3 206.3h1.7v1.7h-1.7zM295.3 205.5h1.7v1.7h-1.7zM295.3 203.1h1.7v1.7h-1.7zM295.4 202.2h1.7v1.7h-1.7zM295.4 198.1h1.7v1.7h-1.7zM295.2 191.9h1.7v1.7h-1.7zM316.5 217.4h1.7v1.7h-1.7zM316.3 215.7h1.7v1.7h-1.7zM316.2 216.2h1.7v1.7h-1.7zM316.3 216.1h1.7v1.7h-1.7zM316.4 216.5h1.7v1.7h-1.7zM316.4 214.1h1.7v1.7h-1.7zM316.4 214.2h1.7v1.7h-1.7zM316.5 212.9h1.7v1.7h-1.7zM316.3 212.9h1.7v1.7h-1.7zM316.5 213.5h1.7v1.7h-1.7zM316.3 213.1h1.7v1.7h-1.7zM316.3 212.5h1.7v1.7h-1.7zM316.3 210.9h1.7v1.7h-1.7zM316.2 211.4h1.7v1.7h-1.7zM316.5 211.6h1.7v1.7h-1.7zM316.4 209.3h1.7v1.7h-1.7zM316.3 208.8h1.7v1.7h-1.7zM316.4 208.6h1.7v1.7h-1.7zM316.5 207.9h1.7v1.7h-1.7zM316.4 207.5h1.7v1.7h-1.7zM316.4 207.1h1.7v1.7h-1.7zM316.5 206.9h1.7v1.7h-1.7zM316.4 205.3h1.7v1.7h-1.7zM316.3 201.5h1.7v1.7h-1.7zM316.2 199.7h1.7v1.7h-1.7zM316.5 197.8h1.7v1.7h-1.7zM317.3 213.0h1.7v1.7h-1.7zM317.3 213.5h1.7v1.7h-1.7zM317.3 212.5h1.7v1.7h-1.7zM317.5 211.6h1.7v1.7h-1.7zM317.2 211.5h1.7v1.7h-1.7zM317.5 210.2h1.7v1.7h-1.7zM317.5 208.4h1.7v1.7h-1.7zM317.5 205.7h1.7v1.7h-1.7zM317.3 205.7h1.7v1.7h-1.7zM317.3 205.5h1.7v1.7h-1.7zM317.4 201.1h1.7v1.7h-1.7zM317.3 201.1h1.7v1.7h-1.7zM317.3 200.5h1.7v1.7h-1.7zM317.3 197.2h1.7v1.7h-1.7zM318.4 211.8h1.7v1.7h-1.7zM318.2 212.0h1.7v1.7h-1.7zM318.4 211.8h1.7v1.7h-1.7zM318.5 212.5h1.7v1.7h-1.7zM318.4 210.3h1.7v1.7h-1.7zM318.3 209.4h1.7v1.7h-1.7zM318.4 209.5h1.7v1.7h-1.7zM318.2 208.1h1.7v1.7h-1.7zM318.3 207.2h1.7v1.7h-1.7zM318.4 206.3h1.7v1.7h-1.7zM318.2 204.6h1.7v1.7h-1.7zM318.3 203.9h1.7v1.7h-1.7zM318.4 202.9h1.7v1.7h-1.7zM318.3 195.9h1.7v1.7h-1.7zM318.3 190.2h1.7v1.7h-1.7zM318.4 185.0h1.7v1.7h-1.7zM319.2 218.7h1.7v1.7h-1.7zM319.4 219.3h1.7v1.7h-1.7zM319.3 218.4h1.7v1.7h-1.7zM319.3 218.3h1.7v1.7h-1.7zM319.4 217.4h1.7v1.7h-1.7zM319.3 216.8h1.7v1.7h-1.7zM319.4 217.4h1.7v1.7h-1.7zM319.2 217.5h1.7v1.7h-1.7zM319.3 216.6h1.7v1.7h-1.7zM319.2 215.8h1.7v1.7h-1.7zM319.3 215.1h1.7v1.7h-1.7zM319.4 213.0h1.7v1.7h-1.7zM319.4 211.4h1.7v1.7h-1.7zM319.5 207.8h1.7v1.7h-1.7zM319.4 206.3h1.7v1.7h-1.7zM319.3 205.8h1.7v1.7h-1.7zM319.2 203.0h1.7v1.7h-1.7zM319.2 203.1h1.7v1.7h-1.7zM319.3 200.9h1.7v1.7h-1.7zM319.2 200.6h1.7v1.7h-1.7zM319.2 196.6h1.7v1.7h-1.7zM319.2 194.9h1.7v1.7h-1.7zM319.5 192.6h1.7v1.7h-1.7zM320.4 215.0h1.7v1.7h-1.7zM320.4 215.2h1.7v1.7h-1.7zM320.3 214.4h1.7v1.7h-1.7zM320.2 214.4h1.7v1.7h-1.7zM320.4 213.0h1.7v1.7h-1.7zM320.3 212.7h1.7v1.7h-1.7zM320.5 212.8h1.7v1.7h-1.7zM320.4 212.6h1.7v1.7h-1.7zM320.4 211.9h1.7v1.7h-1.7zM320.4 211.9h1.7v1.7h-1.7zM320.4 211.0h1.7v1.7h-1.7zM320.4 206.3h1.7v1.7h-1.7zM320.4 201.9h1.7v1.7h-1.7zM320.4 197.4h1.7v1.7h-1.7zM321.2 211.0h1.7v1.7h-1.7zM321.3 210.7h1.7v1.7h-1.7zM321.3 209.3h1.7v1.7h-1.7zM321.4 209.6h1.7v1.7h-1.7zM321.5 208.7h1.7v1.7h-1.7zM321.4 206.9h1.7v1.7h-1.7zM321.5 204.5h1.7v1.7h-1.7zM321.3 203.7h1.7v1.7h-1.7zM321.3 200.1h1.7v1.7h-1.7zM321.4 200.3h1.7v1.7h-1.7zM321.3 197.4h1.7v1.7h-1.7zM321.2 196.6h1.7v1.7h-1.7zM321.4 194.1h1.7v1.7h-1.7zM321.2 190.8h1.7v1.7h-1.7zM321.5 188.9h1.7v1.7h-1.7zM322.2 206.1h1.7v1.7h-1.7zM322.5 205.9h1.7v1.7h-1.7zM322.5 205.0h1.7v1.7h-1.7zM322.4 205.0h1.7v1.7h-1.7zM322.3 205.6h1.7v1.7h-1.7zM322.4 203.7h1.7v1.7h-1.7zM322.5 204.5h1.7v1.7h-1.7zM322.3 204.4h1.7v1.7h-1.7zM322.3 199.7h1.7v1.7h-1.7zM322.4 198.7h1.7v1.7h-1.7zM322.3 197.8h1.7v1.7h-1.7zM322.5 193.7h1.7v1.7h-1.7zM322.4 191.1h1.7v1.7h-1.7zM323.4 210.3h1.7v1.7h-1.7zM323.3 209.6h1.7v1.7h-1.7zM323.2 209.3h1.7v1.7h-1.7zM323.5 208.9h1.7v1.7h-1.7zM323.3 209.3h1.7v1.7h-1.7zM323.4 205.3h1.7v1.7h-1.7zM323.4 202.0h1.7v1.7h-1.7zM323.3 200.9h1.7v1.7h-1.7zM323.2 197.1h1.7v1.7h-1.7zM323.3 197.0h1.7v1.7h-1.7zM324.4 212.1h1.7v1.7h-1.7zM324.3 212.5h1.7v1.7h-1.7zM324.4 212.0h1.7v1.7h-1.7zM324.2 210.9h1.7v1.7h-1.7zM324.3 210.3h1.7v1.7h-1.7zM324.2 209.7h1.7v1.7h-1.7zM324.3 209.3h1.7v1.7h-1.7zM324.4 208.8h1.7v1.7h-1.7zM324.4 208.6h1.7v1.7h-1.7zM324.2 206.3h1.7v1.7h-1.7zM324.3 206.0h1.7v1.7h-1.7zM324.3 204.9h1.7v1.7h-1.7zM324.2 204.9h1.7v1.7h-1.7zM324.2 201.2h1.7v1.7h-1.7zM324.4 200.6h1.7v1.7h-1.7zM324.3 198.1h1.7v1.7h-1.7zM324.5 196.0h1.7v1.7h-1.7zM324.3 195.8h1.7v1.7h-1.7zM324.4 194.9h1.7v1.7h-1.7zM324.4 192.6h1.7v1.7h-1.7zM325.4 219.9h1.7v1.7h-1.7zM325.4 219.7h1.7v1.7h-1.7zM325.2 220.1h1.7v1.7h-1.7zM325.3 218.1h1.7v1.7h-1.7zM325.5 218.6h1.7v1.7h-1.7zM325.3 217.8h1.7v1.7h-1.7zM325.3 217.6h1.7v1.7h-1.7zM325.5 216.8h1.7v1.7h-1.7zM325.4 216.5h1.7v1.7h-1.7zM325.3 216.4h1.7v1.7h-1.7zM325.2 214.5h1.7v1.7h-1.7zM325.4 214.0h1.7v1.7h-1.7zM325.4 211.2h1.7v1.7h-1.7zM325.4 211.3h1.7v1.7h-1.7zM325.3 210.4h1.7v1.7h-1.7zM325.2 208.1h1.7v1.7h-1.7zM325.4 200.0h1.7v1.7h-1.7zM325.4 200.3h1.7v1.7h-1.7zM325.4 188.7h1.7v1.7h-1.7zM326.5 213.2h1.7v1.7h-1.7zM326.4 213.5h1.7v1.7h-1.7zM326.4 212.9h1.7v1.7h-1.7zM326.4 210.3h1.7v1.7h-1.7zM326.2 209.8h1.7v1.7h-1.7zM326.2 209.0h1.7v1.7h-1.7zM326.5 208.0h1.7v1.7h-1.7zM326.4 203.2h1.7v1.7h-1.7zM326.2 200.7h1.7v1.7h-1.7zM326.3 198.1h1.7v1.7h-1.7zM326.2 189.7h1.7v1.7h-1.7zM326.2 190.1h1.7v1.7h-1.7zM327.3 219.0h1.7v1.7h-1.7zM327.3 219.2h1.7v1.7h-1.7zM327.4 219.2h1.7v1.7h-1.7zM327.2 218.0h1.7v1.7h-1.7zM327.4 218.4h1.7v1.7h-1.7zM327.5 215.1h1.7v1.7h-1.7zM327.3 210.7h1.7v1.7h-1.7zM327.5 209.9h1.7v1.7h-1.7zM327.5 210.0h1.7v1.7h-1.7zM327.4 206.5h1.7v1.7h-1.7zM327.2 202.8h1.7v1.7h-1.7zM327.3 200.5h1.7v1.7h-1.7zM327.5 195.4h1.7v1.7h-1.7zM328.4 210.2h1.7v1.7h-1.7zM328.2 210.4h1.7v1.7h-1.7zM328.5 210.0h1.7v1.7h-1.7zM328.2 210.3h1.7v1.7h-1.7zM328.4 209.6h1.7v1.7h-1.7zM328.4 208.9h1.7v1.7h-1.7zM328.3 208.7h1.7v1.7h-1.7zM328.5 208.2h1.7v1.7h-1.7zM328.3 207.2h1.7v1.7h-1.7zM328.5 207.5h1.7v1.7h-1.7zM328.3 205.1h1.7v1.7h-1.7zM328.4 205.4h1.7v1.7h-1.7zM328.4 203.6h1.7v1.7h-1.7zM328.3 203.1h1.7v1.7h-1.7zM328.4 202.1h1.7v1.7h-1.7zM328.3 201.9h1.7v1.7h-1.7zM328.3 191.5h1.7v1.7h-1.7zM329.5 210.3h1.7v1.7h-1.7zM329.5 210.1h1.7v1.7h-1.7zM329.5 209.8h1.7v1.7h-1.7zM329.2 209.9h1.7v1.7h-1.7zM329.4 207.7h1.7v1.7h-1.7zM329.5 206.3h1.7v1.7h-1.7zM329.4 206.2h1.7v1.7h-1.7zM329.2 205.4h1.7v1.7h-1.7zM329.4 205.2h1.7v1.7h-1.7zM329.4 203.2h1.7v1.7h-1.7zM329.4 197.3h1.7v1.7h-1.7zM329.3 196.7h1.7v1.7h-1.7zM329.4 196.7h1.7v1.7h-1.7zM329.4 196.2h1.7v1.7h-1.7zM329.3 195.7h1.7v1.7h-1.7zM329.3 195.6h1.7v1.7h-1.7zM329.4 190.4h1.7v1.7h-1.7zM329.3 190.0h1.7v1.7h-1.7zM330.3 209.9h1.7v1.7h-1.7zM330.5 207.2h1.7v1.7h-1.7zM330.4 207.2h1.7v1.7h-1.7zM330.3 204.8h1.7v1.7h-1.7zM330.3 203.8h1.7v1.7h-1.7zM330.4 201.9h1.7v1.7h-1.7zM330.4 202.5h1.7v1.7h-1.7zM330.4 199.4h1.7v1.7h-1.7zM330.2 197.9h1.7v1.7h-1.7zM330.5 194.2h1.7v1.7h-1.7zM330.5 192.1h1.7v1.7h-1.7zM331.2 215.6h1.7v1.7h-1.7zM331.5 213.9h1.7v1.7h-1.7zM331.2 213.3h1.7v1.7h-1.7zM331.5 213.4h1.7v1.7h-1.7zM331.3 211.9h1.7v1.7h-1.7zM331.3 212.2h1.7v1.7h-1.7zM331.3 207.8h1.7v1.7h-1.7zM331.4 208.0h1.7v1.7h-1.7zM331.4 204.1h1.7v1.7h-1.7zM331.4 204.1h1.7v1.7h-1.7zM331.4 204.4h1.7v1.7h-1.7zM331.3 202.4h1.7v1.7h-1.7zM331.4 202.1h1.7v1.7h-1.7zM331.4 201.6h1.7v1.7h-1.7zM331.4 197.1h1.7v1.7h-1.7zM331.3 196.4h1.7v1.7h-1.7zM331.3 195.5h1.7v1.7h-1.7zM331.4 190.8h1.7v1.7h-1.7zM331.2 190.1h1.7v1.7h-1.7zM331.5 189.2h1.7v1.7h-1.7zM332.3 222.0h1.7v1.7h-1.7zM332.5 220.7h1.7v1.7h-1.7zM332.3 221.1h1.7v1.7h-1.7zM332.5 220.4h1.7v1.7h-1.7zM332.5 220.4h1.7v1.7h-1.7zM332.3 220.0h1.7v1.7h-1.7zM332.4 219.4h1.7v1.7h-1.7zM332.3 217.0h1.7v1.7h-1.7zM332.3 212.9h1.7v1.7h-1.7zM332.3 210.9h1.7v1.7h-1.7zM332.5 208.7h1.7v1.7h-1.7zM332.3 208.9h1.7v1.7h-1.7zM332.2 203.7h1.7v1.7h-1.7zM332.3 200.0h1.7v1.7h-1.7zM332.4 189.8h1.7v1.7h-1.7zM333.3 222.1h1.7v1.7h-1.7zM333.3 222.2h1.7v1.7h-1.7zM333.2 221.5h1.7v1.7h-1.7zM333.3 221.2h1.7v1.7h-1.7zM333.2 220.5h1.7v1.7h-1.7zM333.3 219.2h1.7v1.7h-1.7zM333.3 218.5h1.7v1.7h-1.7zM333.3 217.4h1.7v1.7h-1.7zM333.3 217.1h1.7v1.7h-1.7zM333.2 217.1h1.7v1.7h-1.7zM333.3 215.4h1.7v1.7h-1.7zM333.3 213.6h1.7v1.7h-1.7zM333.3 212.6h1.7v1.7h-1.7zM333.4 211.3h1.7v1.7h-1.7zM333.4 210.5h1.7v1.7h-1.7zM333.5 209.9h1.7v1.7h-1.7zM333.4 208.7h1.7v1.7h-1.7zM333.3 208.0h1.7v1.7h-1.7zM333.5 207.4h1.7v1.7h-1.7zM333.2 203.8h1.7v1.7h-1.7zM333.3 202.1h1.7v1.7h-1.7zM333.3 194.8h1.7v1.7h-1.7zM333.4 191.6h1.7v1.7h-1.7zM333.3 183.9h1.7v1.7h-1.7zM334.3 215.1h1.7v1.7h-1.7zM334.2 215.0h1.7v1.7h-1.7zM334.5 212.7h1.7v1.7h-1.7zM334.3 213.5h1.7v1.7h-1.7zM334.2 211.9h1.7v1.7h-1.7zM334.3 210.8h1.7v1.7h-1.7zM334.4 210.8h1.7v1.7h-1.7zM334.4 209.2h1.7v1.7h-1.7zM334.3 208.4h1.7v1.7h-1.7zM334.5 204.8h1.7v1.7h-1.7zM334.4 201.1h1.7v1.7h-1.7zM334.3 199.2h1.7v1.7h-1.7zM334.4 197.9h1.7v1.7h-1.7zM334.4 196.9h1.7v1.7h-1.7zM334.3 193.1h1.7v1.7h-1.7zM334.3 192.5h1.7v1.7h-1.7zM334.5 191.9h1.7v1.7h-1.7zM334.4 190.5h1.7v1.7h-1.7zM358.2 222.8h1.7v1.7h-1.7zM358.3 222.2h1.7v1.7h-1.7zM358.3 220.4h1.7v1.7h-1.7zM358.2 217.3h1.7v1.7h-1.7zM358.0 216.4h1.7v1.7h-1.7zM358.1 202.9h1.7v1.7h-1.7zM359.2 219.5h1.7v1.7h-1.7zM359.0 219.2h1.7v1.7h-1.7zM359.3 216.2h1.7v1.7h-1.7zM359.2 212.2h1.7v1.7h-1.7zM359.1 211.9h1.7v1.7h-1.7zM359.0 211.3h1.7v1.7h-1.7zM359.1 210.8h1.7v1.7h-1.7zM359.0 211.3h1.7v1.7h-1.7zM359.0 209.1h1.7v1.7h-1.7zM359.2 209.0h1.7v1.7h-1.7zM359.3 207.9h1.7v1.7h-1.7zM359.1 206.8h1.7v1.7h-1.7zM359.2 207.3h1.7v1.7h-1.7zM359.3 204.5h1.7v1.7h-1.7zM359.2 201.9h1.7v1.7h-1.7zM359.2 200.9h1.7v1.7h-1.7zM359.3 199.5h1.7v1.7h-1.7zM359.1 194.0h1.7v1.7h-1.7zM359.2 184.5h1.7v1.7h-1.7zM360.1 223.3h1.7v1.7h-1.7zM360.0 223.3h1.7v1.7h-1.7zM360.1 223.5h1.7v1.7h-1.7zM360.3 223.1h1.7v1.7h-1.7zM360.0 222.1h1.7v1.7h-1.7zM360.0 221.6h1.7v1.7h-1.7zM360.2 220.6h1.7v1.7h-1.7zM360.0 220.0h1.7v1.7h-1.7zM360.3 219.1h1.7v1.7h-1.7zM360.2 219.6h1.7v1.7h-1.7zM360.2 218.7h1.7v1.7h-1.7zM360.1 217.2h1.7v1.7h-1.7zM360.3 215.8h1.7v1.7h-1.7zM360.1 216.3h1.7v1.7h-1.7zM360.3 214.9h1.7v1.7h-1.7zM360.0 215.3h1.7v1.7h-1.7zM360.2 215.0h1.7v1.7h-1.7zM360.2 214.2h1.7v1.7h-1.7zM360.2 207.8h1.7v1.7h-1.7zM360.1 205.7h1.7v1.7h-1.7zM360.3 203.9h1.7v1.7h-1.7zM360.2 204.4h1.7v1.7h-1.7zM360.2 203.2h1.7v1.7h-1.7zM360.3 203.4h1.7v1.7h-1.7zM360.3 201.8h1.7v1.7h-1.7zM360.0 197.5h1.7v1.7h-1.7zM360.3 195.3h1.7v1.7h-1.7zM360.2 186.7h1.7v1.7h-1.7zM361.1 222.0h1.7v1.7h-1.7zM361.3 221.9h1.7v1.7h-1.7zM361.1 221.0h1.7v1.7h-1.7zM361.1 220.2h1.7v1.7h-1.7zM361.2 218.8h1.7v1.7h-1.7zM361.1 218.2h1.7v1.7h-1.7zM361.2 216.9h1.7v1.7h-1.7zM361.2 216.5h1.7v1.7h-1.7zM361.3 213.8h1.7v1.7h-1.7zM361.1 214.5h1.7v1.7h-1.7zM361.1 206.1h1.7v1.7h-1.7zM361.1 205.7h1.7v1.7h-1.7zM361.0 205.3h1.7v1.7h-1.7zM361.1 201.7h1.7v1.7h-1.7zM362.1 225.3h1.7v1.7h-1.7zM362.3 225.3h1.7v1.7h-1.7zM362.3 224.8h1.7v1.7h-1.7zM362.2 222.2h1.7v1.7h-1.7zM362.2 221.7h1.7v1.7h-1.7zM362.1 220.2h1.7v1.7h-1.7zM362.2 220.3h1.7v1.7h-1.7zM362.2 220.2h1.7v1.7h-1.7zM362.2 217.8h1.7v1.7h-1.7zM362.1 216.6h1.7v1.7h-1.7zM362.1 215.9h1.7v1.7h-1.7zM362.1 214.0h1.7v1.7h-1.7zM362.3 213.5h1.7v1.7h-1.7zM362.3 211.9h1.7v1.7h-1.7zM362.2 205.3h1.7v1.7h-1.7zM362.1 201.8h1.7v1.7h-1.7zM362.2 200.6h1.7v1.7h-1.7zM362.1 188.4h1.7v1.7h-1.7zM362.2 188.2h1.7v1.7h-1.7zM363.3 234.7h1.7v1.7h-1.7zM363.2 234.0h1.7v1.7h-1.7zM363.2 233.8h1.7v1.7h-1.7zM363.3 233.4h1.7v1.7h-1.7zM363.1 231.0h1.7v1.7h-1.7zM363.0 227.6h1.7v1.7h-1.7zM363.3 199.4h1.7v1.7h-1.7zM364.3 232.0h1.7v1.7h-1.7zM365.2 234.7h1.7v1.7h-1.7zM365.2 232.6h1.7v1.7h-1.7zM365.0 231.9h1.7v1.7h-1.7zM365.0 232.3h1.7v1.7h-1.7zM365.2 228.0h1.7v1.7h-1.7zM365.0 225.4h1.7v1.7h-1.7zM365.2 221.2h1.7v1.7h-1.7zM365.2 218.1h1.7v1.7h-1.7zM366.1 234.4h1.7v1.7h-1.7zM366.1 232.0h1.7v1.7h-1.7zM366.3 230.7h1.7v1.7h-1.7zM366.0 230.2h1.7v1.7h-1.7zM366.0 229.2h1.7v1.7h-1.7zM366.1 226.0h1.7v1.7h-1.7zM366.0 226.1h1.7v1.7h-1.7zM366.2 209.8h1.7v1.7h-1.7zM367.1 225.5h1.7v1.7h-1.7zM367.2 225.5h1.7v1.7h-1.7zM367.2 224.7h1.7v1.7h-1.7zM367.0 224.4h1.7v1.7h-1.7zM367.0 223.2h1.7v1.7h-1.7zM367.1 223.2h1.7v1.7h-1.7zM367.0 220.8h1.7v1.7h-1.7zM367.2 220.3h1.7v1.7h-1.7zM367.2 215.4h1.7v1.7h-1.7zM367.1 212.9h1.7v1.7h-1.7zM367.1 213.3h1.7v1.7h-1.7zM367.2 213.6h1.7v1.7h-1.7zM367.0 212.6h1.7v1.7h-1.7zM367.1 211.3h1.7v1.7h-1.7zM367.0 207.7h1.7v1.7h-1.7zM368.2 230.5h1.7v1.7h-1.7zM368.0 226.9h1.7v1.7h-1.7zM368.1 225.9h1.7v1.7h-1.7zM368.3 225.9h1.7v1.7h-1.7zM368.0 225.1h1.7v1.7h-1.7zM368.2 223.1h1.7v1.7h-1.7zM368.1 222.5h1.7v1.7h-1.7zM368.0 219.5h1.7v1.7h-1.7zM368.3 219.4h1.7v1.7h-1.7zM368.1 212.4h1.7v1.7h-1.7zM369.0 234.8h1.7v1.7h-1.7zM369.1 232.2h1.7v1.7h-1.7zM369.0 226.9h1.7v1.7h-1.7zM369.0 218.7h1.7v1.7h-1.7zM369.2 195.7h1.7v1.7h-1.7zM370.0 233.6h1.7v1.7h-1.7zM370.1 232.1h1.7v1.7h-1.7zM370.1 232.6h1.7v1.7h-1.7zM370.2 231.2h1.7v1.7h-1.7zM370.3 225.9h1.7v1.7h-1.7zM370.1 224.8h1.7v1.7h-1.7zM370.1 223.6h1.7v1.7h-1.7zM370.0 223.6h1.7v1.7h-1.7zM370.3 220.3h1.7v1.7h-1.7zM370.2 218.4h1.7v1.7h-1.7zM370.2 218.1h1.7v1.7h-1.7zM370.3 217.3h1.7v1.7h-1.7zM370.1 215.2h1.7v1.7h-1.7zM371.3 221.5h1.7v1.7h-1.7zM371.3 220.9h1.7v1.7h-1.7zM371.3 220.2h1.7v1.7h-1.7zM371.2 219.8h1.7v1.7h-1.7zM371.2 219.5h1.7v1.7h-1.7zM371.3 217.6h1.7v1.7h-1.7zM371.1 216.8h1.7v1.7h-1.7zM371.1 216.7h1.7v1.7h-1.7zM371.1 216.5h1.7v1.7h-1.7zM371.1 213.8h1.7v1.7h-1.7zM371.1 213.5h1.7v1.7h-1.7zM371.1 211.5h1.7v1.7h-1.7zM371.3 209.4h1.7v1.7h-1.7zM371.2 208.5h1.7v1.7h-1.7zM371.2 206.0h1.7v1.7h-1.7zM371.2 201.4h1.7v1.7h-1.7zM371.2 197.8h1.7v1.7h-1.7zM371.1 197.4h1.7v1.7h-1.7zM372.2 232.8h1.7v1.7h-1.7zM372.1 232.9h1.7v1.7h-1.7zM372.0 231.4h1.7v1.7h-1.7zM372.2 229.3h1.7v1.7h-1.7zM372.1 229.2h1.7v1.7h-1.7zM372.1 227.3h1.7v1.7h-1.7zM372.2 227.4h1.7v1.7h-1.7zM372.2 226.4h1.7v1.7h-1.7zM372.1 224.4h1.7v1.7h-1.7zM372.2 223.8h1.7v1.7h-1.7zM372.1 222.7h1.7v1.7h-1.7zM372.1 222.3h1.7v1.7h-1.7zM372.0 219.9h1.7v1.7h-1.7zM372.1 217.6h1.7v1.7h-1.7zM373.1 231.0h1.7v1.7h-1.7zM373.2 230.1h1.7v1.7h-1.7zM373.1 230.5h1.7v1.7h-1.7zM373.1 229.7h1.7v1.7h-1.7zM373.1 230.0h1.7v1.7h-1.7zM373.2 228.9h1.7v1.7h-1.7zM373.2 228.8h1.7v1.7h-1.7zM373.1 228.9h1.7v1.7h-1.7zM373.0 229.0h1.7v1.7h-1.7zM373.1 227.4h1.7v1.7h-1.7zM373.3 226.0h1.7v1.7h-1.7zM373.0 226.6h1.7v1.7h-1.7zM373.2 225.0h1.7v1.7h-1.7zM373.1 223.5h1.7v1.7h-1.7zM373.2 220.4h1.7v1.7h-1.7zM373.2 217.7h1.7v1.7h-1.7zM373.0 215.2h1.7v1.7h-1.7zM373.2 211.7h1.7v1.7h-1.7zM373.2 205.7h1.7v1.7h-1.7zM373.3 203.2h1.7v1.7h-1.7zM374.3 220.1h1.7v1.7h-1.7zM374.1 218.9h1.7v1.7h-1.7zM374.1 216.5h1.7v1.7h-1.7zM374.0 213.9h1.7v1.7h-1.7zM374.2 213.3h1.7v1.7h-1.7zM374.0 211.6h1.7v1.7h-1.7zM374.0 207.7h1.7v1.7h-1.7zM374.2 208.5h1.7v1.7h-1.7zM374.0 207.5h1.7v1.7h-1.7zM374.3 207.4h1.7v1.7h-1.7zM374.2 205.9h1.7v1.7h-1.7zM374.1 201.7h1.7v1.7h-1.7zM374.0 199.5h1.7v1.7h-1.7zM374.2 197.1h1.7v1.7h-1.7zM374.0 197.3h1.7v1.7h-1.7zM374.2 195.2h1.7v1.7h-1.7zM391.0 217.3h1.7v1.7h-1.7zM390.7 215.7h1.7v1.7h-1.7zM390.8 215.7h1.7v1.7h-1.7zM390.9 216.6h1.7v1.7h-1.7zM390.8 216.6h1.7v1.7h-1.7zM390.7 215.8h1.7v1.7h-1.7zM390.7 215.1h1.7v1.7h-1.7zM390.7 215.6h1.7v1.7h-1.7zM390.9 215.2h1.7v1.7h-1.7zM390.8 214.7h1.7v1.7h-1.7zM390.7 213.1h1.7v1.7h-1.7zM390.8 213.3h1.7v1.7h-1.7zM390.9 212.2h1.7v1.7h-1.7zM390.8 209.4h1.7v1.7h-1.7zM390.9 209.0h1.7v1.7h-1.7zM390.9 208.6h1.7v1.7h-1.7zM390.9 207.6h1.7v1.7h-1.7zM390.7 205.8h1.7v1.7h-1.7zM390.9 206.3h1.7v1.7h-1.7zM390.8 204.8h1.7v1.7h-1.7zM390.7 199.6h1.7v1.7h-1.7zM390.7 196.9h1.7v1.7h-1.7zM390.8 194.8h1.7v1.7h-1.7zM391.9 219.6h1.7v1.7h-1.7zM392.0 218.3h1.7v1.7h-1.7zM391.8 218.3h1.7v1.7h-1.7zM391.8 216.4h1.7v1.7h-1.7zM391.9 216.2h1.7v1.7h-1.7zM391.7 213.9h1.7v1.7h-1.7zM392.0 204.1h1.7v1.7h-1.7zM391.9 201.6h1.7v1.7h-1.7zM392.8 210.0h1.7v1.7h-1.7zM393.0 209.7h1.7v1.7h-1.7zM392.9 209.2h1.7v1.7h-1.7zM392.9 208.4h1.7v1.7h-1.7zM393.0 208.0h1.7v1.7h-1.7zM392.8 207.4h1.7v1.7h-1.7zM392.9 206.6h1.7v1.7h-1.7zM393.0 205.2h1.7v1.7h-1.7zM392.9 204.5h1.7v1.7h-1.7zM392.8 203.4h1.7v1.7h-1.7zM392.8 203.0h1.7v1.7h-1.7zM393.0 199.3h1.7v1.7h-1.7zM392.9 198.9h1.7v1.7h-1.7zM392.8 198.3h1.7v1.7h-1.7zM392.8 191.9h1.7v1.7h-1.7zM393.0 188.8h1.7v1.7h-1.7zM394.0 213.0h1.7v1.7h-1.7zM393.9 213.2h1.7v1.7h-1.7zM393.7 213.4h1.7v1.7h-1.7zM394.0 212.8h1.7v1.7h-1.7zM393.8 212.0h1.7v1.7h-1.7zM393.9 209.7h1.7v1.7h-1.7zM393.9 208.6h1.7v1.7h-1.7zM393.7 207.2h1.7v1.7h-1.7zM393.9 207.5h1.7v1.7h-1.7zM393.9 205.4h1.7v1.7h-1.7zM393.9 202.5h1.7v1.7h-1.7zM393.8 200.4h1.7v1.7h-1.7zM393.7 199.9h1.7v1.7h-1.7zM394.7 213.4h1.7v1.7h-1.7zM394.8 213.4h1.7v1.7h-1.7zM394.7 212.2h1.7v1.7h-1.7zM394.7 210.4h1.7v1.7h-1.7zM394.8 205.2h1.7v1.7h-1.7zM394.8 205.6h1.7v1.7h-1.7zM394.9 202.7h1.7v1.7h-1.7zM394.8 201.4h1.7v1.7h-1.7zM394.9 200.2h1.7v1.7h-1.7zM394.7 197.2h1.7v1.7h-1.7zM394.9 195.0h1.7v1.7h-1.7zM395.0 192.6h1.7v1.7h-1.7zM394.9 191.6h1.7v1.7h-1.7zM395.0 185.0h1.7v1.7h-1.7zM395.8 212.5h1.7v1.7h-1.7zM395.7 211.9h1.7v1.7h-1.7zM395.9 212.4h1.7v1.7h-1.7zM395.9 211.9h1.7v1.7h-1.7zM395.8 210.9h1.7v1.7h-1.7zM395.7 210.3h1.7v1.7h-1.7zM395.9 208.2h1.7v1.7h-1.7zM395.8 207.4h1.7v1.7h-1.7zM395.8 207.6h1.7v1.7h-1.7zM395.8 206.2h1.7v1.7h-1.7zM395.9 204.6h1.7v1.7h-1.7zM396.0 203.9h1.7v1.7h-1.7zM395.8 198.9h1.7v1.7h-1.7zM395.9 198.5h1.7v1.7h-1.7zM395.8 196.1h1.7v1.7h-1.7zM395.8 195.9h1.7v1.7h-1.7zM395.8 194.1h1.7v1.7h-1.7zM396.0 189.2h1.7v1.7h-1.7zM395.9 187.0h1.7v1.7h-1.7zM397.0 206.7h1.7v1.7h-1.7zM397.0 206.0h1.7v1.7h-1.7zM396.9 206.3h1.7v1.7h-1.7zM396.9 206.6h1.7v1.7h-1.7zM396.8 205.5h1.7v1.7h-1.7zM396.7 203.6h1.7v1.7h-1.7zM396.9 203.2h1.7v1.7h-1.7zM396.8 202.3h1.7v1.7h-1.7zM396.7 198.9h1.7v1.7h-1.7zM397.0 191.1h1.7v1.7h-1.7zM396.9 184.5h1.7v1.7h-1.7zM397.9 203.5h1.7v1.7h-1.7zM397.8 201.2h1.7v1.7h-1.7zM397.9 201.0h1.7v1.7h-1.7zM397.7 201.1h1.7v1.7h-1.7zM398.0 201.2h1.7v1.7h-1.7zM397.8 198.6h1.7v1.7h-1.7zM398.0 192.9h1.7v1.7h-1.7zM398.0 193.4h1.7v1.7h-1.7zM398.0 192.2h1.7v1.7h-1.7zM398.0 192.3h1.7v1.7h-1.7zM397.8 191.9h1.7v1.7h-1.7zM397.9 192.3h1.7v1.7h-1.7zM397.7 190.5h1.7v1.7h-1.7zM397.8 186.9h1.7v1.7h-1.7zM398.9 208.6h1.7v1.7h-1.7zM398.8 206.9h1.7v1.7h-1.7zM399.0 203.7h1.7v1.7h-1.7zM398.7 202.9h1.7v1.7h-1.7zM398.9 203.2h1.7v1.7h-1.7zM398.8 202.3h1.7v1.7h-1.7zM398.9 200.8h1.7v1.7h-1.7zM398.8 195.5h1.7v1.7h-1.7zM399.7 210.4h1.7v1.7h-1.7zM400.0 210.5h1.7v1.7h-1.7zM399.9 209.9h1.7v1.7h-1.7zM399.8 208.7h1.7v1.7h-1.7zM400.0 209.0h1.7v1.7h-1.7zM399.8 209.5h1.7v1.7h-1.7zM399.8 209.2h1.7v1.7h-1.7zM399.9 207.8h1.7v1.7h-1.7zM399.8 207.6h1.7v1.7h-1.7zM399.8 206.9h1.7v1.7h-1.7zM399.7 207.5h1.7v1.7h-1.7zM399.9 201.8h1.7v1.7h-1.7zM399.7 198.9h1.7v1.7h-1.7zM399.8 198.7h1.7v1.7h-1.7zM400.0 197.8h1.7v1.7h-1.7zM399.7 197.1h1.7v1.7h-1.7zM399.9 196.5h1.7v1.7h-1.7zM399.8 195.3h1.7v1.7h-1.7zM399.7 195.6h1.7v1.7h-1.7zM399.9 194.1h1.7v1.7h-1.7zM399.8 192.7h1.7v1.7h-1.7zM399.8 192.6h1.7v1.7h-1.7zM399.9 189.8h1.7v1.7h-1.7zM400.0 188.0h1.7v1.7h-1.7zM399.9 187.5h1.7v1.7h-1.7zM399.9 184.1h1.7v1.7h-1.7zM401.0 204.4h1.7v1.7h-1.7zM400.9 204.0h1.7v1.7h-1.7zM400.7 204.2h1.7v1.7h-1.7zM400.7 203.1h1.7v1.7h-1.7zM400.9 202.1h1.7v1.7h-1.7zM400.7 200.2h1.7v1.7h-1.7zM400.8 200.4h1.7v1.7h-1.7zM401.0 199.1h1.7v1.7h-1.7zM400.8 198.4h1.7v1.7h-1.7zM400.8 197.6h1.7v1.7h-1.7zM400.8 197.5h1.7v1.7h-1.7zM400.8 195.6h1.7v1.7h-1.7zM401.0 191.2h1.7v1.7h-1.7zM400.9 188.8h1.7v1.7h-1.7zM401.8 211.7h1.7v1.7h-1.7zM401.9 211.7h1.7v1.7h-1.7zM401.8 211.0h1.7v1.7h-1.7zM401.9 211.1h1.7v1.7h-1.7zM401.9 210.9h1.7v1.7h-1.7zM401.8 210.3h1.7v1.7h-1.7zM401.9 210.5h1.7v1.7h-1.7zM401.7 208.6h1.7v1.7h-1.7zM401.9 207.9h1.7v1.7h-1.7zM401.8 206.8h1.7v1.7h-1.7zM402.0 205.7h1.7v1.7h-1.7zM401.8 205.2h1.7v1.7h-1.7zM401.9 204.0h1.7v1.7h-1.7zM401.8 201.9h1.7v1.7h-1.7zM401.7 193.2h1.7v1.7h-1.7zM402.0 188.3h1.7v1.7h-1.7zM403.0 224.0h1.7v1.7h-1.7zM402.8 223.9h1.7v1.7h-1.7zM403.0 222.8h1.7v1.7h-1.7zM402.8 222.0h1.7v1.7h-1.7zM402.7 221.1h1.7v1.7h-1.7zM402.8 211.7h1.7v1.7h-1.7zM417.0 212.2h1.7v1.7h-1.7zM417.0 209.4h1.7v1.7h-1.7zM417.1 208.7h1.7v1.7h-1.7zM416.9 207.3h1.7v1.7h-1.7zM416.8 207.1h1.7v1.7h-1.7zM416.9 206.6h1.7v1.7h-1.7zM417.1 204.8h1.7v1.7h-1.7zM417.0 204.3h1.7v1.7h-1.7zM417.0 203.3h1.7v1.7h-1.7zM417.1 200.6h1.7v1.7h-1.7zM416.9 193.0h1.7v1.7h-1.7zM416.9 192.7h1.7v1.7h-1.7zM416.8 191.0h1.7v1.7h-1.7zM416.9 188.6h1.7v1.7h-1.7zM417.1 187.9h1.7v1.7h-1.7zM418.0 222.2h1.7v1.7h-1.7zM417.9 222.4h1.7v1.7h-1.7zM418.0 217.1h1.7v1.7h-1.7zM417.9 214.3h1.7v1.7h-1.7zM417.9 208.2h1.7v1.7h-1.7zM417.8 204.0h1.7v1.7h-1.7zM419.0 207.1h1.7v1.7h-1.7zM418.9 206.2h1.7v1.7h-1.7zM418.9 205.3h1.7v1.7h-1.7zM419.0 202.7h1.7v1.7h-1.7zM419.1 202.5h1.7v1.7h-1.7zM418.9 202.6h1.7v1.7h-1.7zM419.0 200.8h1.7v1.7h-1.7zM418.8 199.1h1.7v1.7h-1.7zM419.0 195.5h1.7v1.7h-1.7zM419.0 194.5h1.7v1.7h-1.7zM419.0 191.8h1.7v1.7h-1.7zM419.0 192.6h1.7v1.7h-1.7zM418.9 187.2h1.7v1.7h-1.7zM419.9 222.3h1.7v1.7h-1.7zM419.9 220.6h1.7v1.7h-1.7zM419.8 219.6h1.7v1.7h-1.7zM420.0 218.0h1.7v1.7h-1.7zM420.0 212.2h1.7v1.7h-1.7zM419.9 210.4h1.7v1.7h-1.7zM419.9 205.3h1.7v1.7h-1.7zM419.9 192.1h1.7v1.7h-1.7zM420.9 223.6h1.7v1.7h-1.7zM421.1 223.5h1.7v1.7h-1.7zM420.9 223.2h1.7v1.7h-1.7zM420.9 221.8h1.7v1.7h-1.7zM421.0 221.3h1.7v1.7h-1.7zM421.0 218.0h1.7v1.7h-1.7zM421.1 217.3h1.7v1.7h-1.7zM421.0 210.6h1.7v1.7h-1.7zM420.9 210.6h1.7v1.7h-1.7zM420.9 207.8h1.7v1.7h-1.7zM421.0 205.8h1.7v1.7h-1.7zM420.9 198.5h1.7v1.7h-1.7zM421.9 208.3h1.7v1.7h-1.7zM421.9 208.1h1.7v1.7h-1.7zM422.0 207.6h1.7v1.7h-1.7zM422.1 207.2h1.7v1.7h-1.7zM421.8 205.7h1.7v1.7h-1.7zM421.9 206.4h1.7v1.7h-1.7zM421.8 205.2h1.7v1.7h-1.7zM422.1 204.9h1.7v1.7h-1.7zM422.1 205.3h1.7v1.7h-1.7zM421.9 203.1h1.7v1.7h-1.7zM422.0 201.9h1.7v1.7h-1.7zM421.9 197.6h1.7v1.7h-1.7zM422.0 196.1h1.7v1.7h-1.7zM421.8 193.7h1.7v1.7h-1.7zM421.9 194.4h1.7v1.7h-1.7zM421.9 192.3h1.7v1.7h-1.7zM421.9 191.1h1.7v1.7h-1.7zM422.8 204.4h1.7v1.7h-1.7zM423.0 204.5h1.7v1.7h-1.7zM422.9 204.2h1.7v1.7h-1.7zM423.1 204.3h1.7v1.7h-1.7zM422.9 202.6h1.7v1.7h-1.7zM423.0 201.7h1.7v1.7h-1.7zM423.1 200.5h1.7v1.7h-1.7zM422.9 199.8h1.7v1.7h-1.7zM422.8 199.8h1.7v1.7h-1.7zM423.0 200.4h1.7v1.7h-1.7zM422.8 199.6h1.7v1.7h-1.7zM422.9 197.0h1.7v1.7h-1.7zM422.9 197.0h1.7v1.7h-1.7zM423.0 196.3h1.7v1.7h-1.7zM422.9 188.5h1.7v1.7h-1.7zM422.9 186.2h1.7v1.7h-1.7zM423.8 205.6h1.7v1.7h-1.7zM424.0 203.9h1.7v1.7h-1.7zM423.8 203.9h1.7v1.7h-1.7zM424.0 203.4h1.7v1.7h-1.7zM423.9 200.9h1.7v1.7h-1.7zM423.9 196.4h1.7v1.7h-1.7zM423.9 196.5h1.7v1.7h-1.7zM423.8 194.9h1.7v1.7h-1.7zM424.0 191.0h1.7v1.7h-1.7zM423.9 190.5h1.7v1.7h-1.7zM424.0 189.9h1.7v1.7h-1.7zM423.9 189.1h1.7v1.7h-1.7zM425.1 201.8h1.7v1.7h-1.7zM425.0 201.6h1.7v1.7h-1.7zM425.0 201.4h1.7v1.7h-1.7zM425.0 200.7h1.7v1.7h-1.7zM424.9 199.7h1.7v1.7h-1.7zM425.0 200.2h1.7v1.7h-1.7zM424.9 200.6h1.7v1.7h-1.7zM424.8 200.0h1.7v1.7h-1.7zM424.9 198.0h1.7v1.7h-1.7zM424.8 197.8h1.7v1.7h-1.7zM424.9 196.0h1.7v1.7h-1.7zM425.1 193.4h1.7v1.7h-1.7zM425.0 192.1h1.7v1.7h-1.7zM424.9 190.3h1.7v1.7h-1.7zM425.1 187.1h1.7v1.7h-1.7zM424.8 184.8h1.7v1.7h-1.7zM425.9 220.8h1.7v1.7h-1.7zM426.0 219.3h1.7v1.7h-1.7zM425.8 214.7h1.7v1.7h-1.7zM425.8 214.7h1.7v1.7h-1.7zM425.9 214.0h1.7v1.7h-1.7zM425.9 213.8h1.7v1.7h-1.7zM426.1 213.4h1.7v1.7h-1.7zM425.9 212.8h1.7v1.7h-1.7zM426.1 213.4h1.7v1.7h-1.7zM426.1 211.8h1.7v1.7h-1.7zM426.0 208.7h1.7v1.7h-1.7zM425.9 208.9h1.7v1.7h-1.7zM426.0 207.8h1.7v1.7h-1.7zM426.0 205.5h1.7v1.7h-1.7zM425.8 199.8h1.7v1.7h-1.7zM427.0 221.2h1.7v1.7h-1.7zM426.9 219.9h1.7v1.7h-1.7zM427.0 215.5h1.7v1.7h-1.7zM426.9 215.3h1.7v1.7h-1.7zM427.1 212.2h1.7v1.7h-1.7zM426.9 209.4h1.7v1.7h-1.7zM427.0 206.9h1.7v1.7h-1.7zM428.0 210.8h1.7v1.7h-1.7zM428.1 211.2h1.7v1.7h-1.7zM427.9 211.3h1.7v1.7h-1.7zM428.0 209.3h1.7v1.7h-1.7zM427.9 208.9h1.7v1.7h-1.7zM427.8 207.6h1.7v1.7h-1.7zM428.0 205.7h1.7v1.7h-1.7zM427.8 200.7h1.7v1.7h-1.7zM428.0 199.7h1.7v1.7h-1.7zM428.0 194.9h1.7v1.7h-1.7zM428.1 189.0h1.7v1.7h-1.7zM428.1 187.9h1.7v1.7h-1.7zM440.8 196.4h1.7v1.7h-1.7zM440.5 196.0h1.7v1.7h-1.7zM440.5 193.1h1.7v1.7h-1.7zM440.7 192.8h1.7v1.7h-1.7zM440.6 192.9h1.7v1.7h-1.7zM440.6 192.1h1.7v1.7h-1.7zM440.6 190.7h1.7v1.7h-1.7zM440.7 189.1h1.7v1.7h-1.7zM440.8 187.2h1.7v1.7h-1.7zM440.8 186.7h1.7v1.7h-1.7zM440.8 185.9h1.7v1.7h-1.7zM440.5 185.0h1.7v1.7h-1.7zM440.6 183.7h1.7v1.7h-1.7zM441.6 203.8h1.7v1.7h-1.7zM441.7 200.9h1.7v1.7h-1.7zM441.6 200.7h1.7v1.7h-1.7zM441.6 199.9h1.7v1.7h-1.7zM441.7 200.2h1.7v1.7h-1.7zM441.7 198.3h1.7v1.7h-1.7zM441.6 194.2h1.7v1.7h-1.7zM441.7 190.3h1.7v1.7h-1.7zM441.6 188.7h1.7v1.7h-1.7zM441.6 184.0h1.7v1.7h-1.7zM442.6 198.9h1.7v1.7h-1.7zM442.7 199.4h1.7v1.7h-1.7zM442.5 199.6h1.7v1.7h-1.7zM442.6 198.3h1.7v1.7h-1.7zM442.8 197.7h1.7v1.7h-1.7zM442.7 197.3h1.7v1.7h-1.7zM442.5 196.9h1.7v1.7h-1.7zM442.7 196.2h1.7v1.7h-1.7zM442.6 196.1h1.7v1.7h-1.7zM442.6 193.7h1.7v1.7h-1.7zM442.6 192.5h1.7v1.7h-1.7zM442.8 191.4h1.7v1.7h-1.7zM442.7 191.2h1.7v1.7h-1.7zM442.6 188.9h1.7v1.7h-1.7zM443.8 190.6h1.7v1.7h-1.7zM443.8 188.6h1.7v1.7h-1.7zM443.8 186.9h1.7v1.7h-1.7zM443.5 185.8h1.7v1.7h-1.7zM443.6 186.6h1.7v1.7h-1.7zM443.6 185.3h1.7v1.7h-1.7zM444.5 201.6h1.7v1.7h-1.7zM444.7 200.9h1.7v1.7h-1.7zM444.6 201.4h1.7v1.7h-1.7zM444.8 201.4h1.7v1.7h-1.7zM444.8 199.8h1.7v1.7h-1.7zM444.6 200.4h1.7v1.7h-1.7zM444.7 200.3h1.7v1.7h-1.7zM444.6 198.9h1.7v1.7h-1.7zM444.6 198.7h1.7v1.7h-1.7zM444.7 198.7h1.7v1.7h-1.7zM444.7 198.4h1.7v1.7h-1.7zM444.5 198.6h1.7v1.7h-1.7zM444.5 198.1h1.7v1.7h-1.7zM444.5 198.3h1.7v1.7h-1.7zM444.8 195.8h1.7v1.7h-1.7zM444.7 194.4h1.7v1.7h-1.7zM444.6 194.3h1.7v1.7h-1.7zM444.5 194.1h1.7v1.7h-1.7zM444.7 185.6h1.7v1.7h-1.7zM444.7 183.7h1.7v1.7h-1.7zM445.5 194.2h1.7v1.7h-1.7zM445.6 192.9h1.7v1.7h-1.7zM445.5 192.9h1.7v1.7h-1.7zM445.7 192.7h1.7v1.7h-1.7zM445.7 191.4h1.7v1.7h-1.7zM445.6 191.0h1.7v1.7h-1.7zM445.6 189.7h1.7v1.7h-1.7zM445.7 189.4h1.7v1.7h-1.7zM445.8 187.5h1.7v1.7h-1.7zM445.7 186.8h1.7v1.7h-1.7zM445.6 187.2h1.7v1.7h-1.7zM445.7 187.6h1.7v1.7h-1.7zM445.8 186.6h1.7v1.7h-1.7zM445.7 185.7h1.7v1.7h-1.7zM445.5 185.5h1.7v1.7h-1.7zM445.7 183.9h1.7v1.7h-1.7zM446.6 207.7h1.7v1.7h-1.7zM446.5 206.5h1.7v1.7h-1.7zM446.6 203.0h1.7v1.7h-1.7zM446.5 199.6h1.7v1.7h-1.7zM446.6 187.6h1.7v1.7h-1.7zM447.7 203.6h1.7v1.7h-1.7zM447.6 202.7h1.7v1.7h-1.7zM447.8 202.3h1.7v1.7h-1.7zM447.7 201.8h1.7v1.7h-1.7zM447.7 201.4h1.7v1.7h-1.7zM447.8 200.5h1.7v1.7h-1.7zM447.5 197.7h1.7v1.7h-1.7zM447.6 197.7h1.7v1.7h-1.7zM447.5 197.7h1.7v1.7h-1.7zM447.6 196.2h1.7v1.7h-1.7zM447.7 193.8h1.7v1.7h-1.7zM447.7 187.9h1.7v1.7h-1.7zM459.8 235.5h1.7v1.7h-1.7zM459.8 233.9h1.7v1.7h-1.7zM459.8 232.6h1.7v1.7h-1.7zM459.7 231.6h1.7v1.7h-1.7zM459.8 230.6h1.7v1.7h-1.7zM459.8 224.6h1.7v1.7h-1.7zM461.0 233.4h1.7v1.7h-1.7zM460.9 232.4h1.7v1.7h-1.7zM460.9 230.0h1.7v1.7h-1.7zM460.9 230.6h1.7v1.7h-1.7zM461.0 229.5h1.7v1.7h-1.7zM460.7 228.0h1.7v1.7h-1.7zM460.9 227.0h1.7v1.7h-1.7zM460.8 221.8h1.7v1.7h-1.7zM460.9 220.8h1.7v1.7h-1.7zM460.8 219.0h1.7v1.7h-1.7zM460.9 211.3h1.7v1.7h-1.7zM461.7 232.5h1.7v1.7h-1.7zM461.8 232.5h1.7v1.7h-1.7zM461.7 232.5h1.7v1.7h-1.7zM461.9 232.5h1.7v1.7h-1.7zM461.7 231.2h1.7v1.7h-1.7zM461.8 231.0h1.7v1.7h-1.7zM461.9 231.5h1.7v1.7h-1.7zM461.8 229.1h1.7v1.7h-1.7zM461.9 229.3h1.7v1.7h-1.7zM461.8 228.3h1.7v1.7h-1.7zM461.9 225.6h1.7v1.7h-1.7zM461.7 221.0h1.7v1.7h-1.7zM461.9 220.5h1.7v1.7h-1.7zM461.7 220.2h1.7v1.7h-1.7zM461.8 213.0h1.7v1.7h-1.7zM462.0 211.7h1.7v1.7h-1.7zM461.9 204.7h1.7v1.7h-1.7zM461.8 204.0h1.7v1.7h-1.7zM462.9 194.5h1.7v1.7h-1.7zM462.7 193.1h1.7v1.7h-1.7zM462.9 192.8h1.7v1.7h-1.7zM462.9 192.5h1.7v1.7h-1.7zM462.7 191.8h1.7v1.7h-1.7zM462.8 190.7h1.7v1.7h-1.7zM463.0 191.6h1.7v1.7h-1.7zM462.8 190.0h1.7v1.7h-1.7zM462.9 190.3h1.7v1.7h-1.7zM462.8 188.0h1.7v1.7h-1.7zM462.7 187.7h1.7v1.7h-1.7zM462.7 186.7h1.7v1.7h-1.7zM462.7 186.1h1.7v1.7h-1.7zM462.9 185.1h1.7v1.7h-1.7zM463.8 187.3h1.7v1.7h-1.7zM463.9 186.1h1.7v1.7h-1.7zM463.7 186.3h1.7v1.7h-1.7zM463.8 185.7h1.7v1.7h-1.7zM463.9 185.6h1.7v1.7h-1.7zM464.8 194.1h1.7v1.7h-1.7zM464.9 192.5h1.7v1.7h-1.7zM464.9 190.2h1.7v1.7h-1.7zM464.9 187.2h1.7v1.7h-1.7zM464.8 186.6h1.7v1.7h-1.7zM465.0 185.0h1.7v1.7h-1.7zM464.8 184.3h1.7v1.7h-1.7zM465.9 201.3h1.7v1.7h-1.7zM465.8 200.0h1.7v1.7h-1.7zM465.8 198.9h1.7v1.7h-1.7zM465.7 197.0h1.7v1.7h-1.7zM465.9 196.9h1.7v1.7h-1.7zM465.9 197.2h1.7v1.7h-1.7zM466.0 196.4h1.7v1.7h-1.7zM465.8 195.9h1.7v1.7h-1.7zM466.0 195.6h1.7v1.7h-1.7zM465.9 195.3h1.7v1.7h-1.7zM465.8 194.1h1.7v1.7h-1.7zM465.9 191.9h1.7v1.7h-1.7zM465.8 188.7h1.7v1.7h-1.7zM465.9 186.9h1.7v1.7h-1.7zM466.8 200.0h1.7v1.7h-1.7zM466.7 200.0h1.7v1.7h-1.7zM466.8 199.5h1.7v1.7h-1.7zM466.8 198.9h1.7v1.7h-1.7zM466.9 197.7h1.7v1.7h-1.7zM467.0 196.8h1.7v1.7h-1.7zM466.9 196.8h1.7v1.7h-1.7zM466.9 197.2h1.7v1.7h-1.7zM467.0 194.3h1.7v1.7h-1.7zM466.8 194.4h1.7v1.7h-1.7zM466.9 193.6h1.7v1.7h-1.7zM466.8 193.6h1.7v1.7h-1.7zM466.9 191.7h1.7v1.7h-1.7zM466.9 191.9h1.7v1.7h-1.7zM466.7 190.3h1.7v1.7h-1.7zM474.0 234.9h1.7v1.7h-1.7zM474.2 234.0h1.7v1.7h-1.7zM474.1 234.0h1.7v1.7h-1.7zM474.0 232.9h1.7v1.7h-1.7zM474.1 229.9h1.7v1.7h-1.7zM474.2 229.6h1.7v1.7h-1.7zM474.1 228.2h1.7v1.7h-1.7zM473.9 225.2h1.7v1.7h-1.7zM474.1 216.6h1.7v1.7h-1.7zM474.0 216.2h1.7v1.7h-1.7zM474.1 212.5h1.7v1.7h-1.7zM475.2 234.5h1.7v1.7h-1.7zM474.9 234.6h1.7v1.7h-1.7zM475.1 232.4h1.7v1.7h-1.7zM475.0 231.0h1.7v1.7h-1.7zM475.0 224.4h1.7v1.7h-1.7zM475.0 224.0h1.7v1.7h-1.7zM476.0 235.6h1.7v1.7h-1.7zM476.1 235.6h1.7v1.7h-1.7zM475.9 234.5h1.7v1.7h-1.7zM476.2 234.3h1.7v1.7h-1.7zM476.1 233.0h1.7v1.7h-1.7zM476.0 232.9h1.7v1.7h-1.7zM476.2 232.3h1.7v1.7h-1.7zM476.2 228.9h1.7v1.7h-1.7zM476.0 228.8h1.7v1.7h-1.7zM476.1 226.1h1.7v1.7h-1.7zM476.2 224.6h1.7v1.7h-1.7zM476.1 224.1h1.7v1.7h-1.7zM476.2 217.9h1.7v1.7h-1.7zM476.0 218.1h1.7v1.7h-1.7zM476.0 214.9h1.7v1.7h-1.7zM476.0 213.3h1.7v1.7h-1.7zM476.0 197.4h1.7v1.7h-1.7zM477.2 230.9h1.7v1.7h-1.7zM476.9 226.4h1.7v1.7h-1.7zM477.0 219.2h1.7v1.7h-1.7zM477.9 235.2h1.7v1.7h-1.7zM478.0 234.6h1.7v1.7h-1.7zM478.1 232.7h1.7v1.7h-1.7zM478.1 217.9h1.7v1.7h-1.7zM478.2 217.5h1.7v1.7h-1.7zM478.0 216.3h1.7v1.7h-1.7zM478.0 214.8h1.7v1.7h-1.7zM479.1 232.7h1.7v1.7h-1.7zM479.1 232.3h1.7v1.7h-1.7zM479.0 229.8h1.7v1.7h-1.7zM478.9 229.7h1.7v1.7h-1.7zM479.1 228.8h1.7v1.7h-1.7zM479.1 226.5h1.7v1.7h-1.7zM479.0 224.9h1.7v1.7h-1.7zM479.0 213.5h1.7v1.7h-1.7zM479.1 195.1h1.7v1.7h-1.7zM480.1 235.0h1.7v1.7h-1.7zM480.0 233.0h1.7v1.7h-1.7zM480.1 233.3h1.7v1.7h-1.7zM480.0 231.3h1.7v1.7h-1.7zM480.1 230.8h1.7v1.7h-1.7zM480.1 227.3h1.7v1.7h-1.7zM480.0 223.2h1.7v1.7h-1.7zM480.0 221.9h1.7v1.7h-1.7zM480.0 216.1h1.7v1.7h-1.7zM480.2 207.4h1.7v1.7h-1.7zM479.9 203.7h1.7v1.7h-1.7zM481.1 230.7h1.7v1.7h-1.7zM481.1 230.6h1.7v1.7h-1.7zM480.9 228.9h1.7v1.7h-1.7zM480.9 227.3h1.7v1.7h-1.7zM481.1 226.1h1.7v1.7h-1.7zM480.9 222.5h1.7v1.7h-1.7zM481.1 221.4h1.7v1.7h-1.7zM481.0 197.1h1.7v1.7h-1.7zM482.0 235.0h1.7v1.7h-1.7zM481.9 231.2h1.7v1.7h-1.7zM482.2 231.1h1.7v1.7h-1.7zM482.2 226.4h1.7v1.7h-1.7zM482.0 223.2h1.7v1.7h-1.7zM482.2 223.5h1.7v1.7h-1.7zM482.1 210.5h1.7v1.7h-1.7zM483.0 230.4h1.7v1.7h-1.7zM483.2 225.3h1.7v1.7h-1.7zM483.1 218.5h1.7v1.7h-1.7zM483.0 201.4h1.7v1.7h-1.7zM483.9 232.6h1.7v1.7h-1.7zM484.2 228.8h1.7v1.7h-1.7zM483.9 219.6h1.7v1.7h-1.7zM484.9 228.7h1.7v1.7h-1.7zM487.2 230.4h1.7v1.7h-1.7zM487.2 230.1h1.7v1.7h-1.7zM487.1 229.0h1.7v1.7h-1.7zM487.2 225.4h1.7v1.7h-1.7zM487.0 218.5h1.7v1.7h-1.7zM488.0 231.9h1.7v1.7h-1.7zM488.2 230.1h1.7v1.7h-1.7zM488.2 229.0h1.7v1.7h-1.7zM488.1 218.3h1.7v1.7h-1.7zM488.1 215.4h1.7v1.7h-1.7zM488.9 235.0h1.7v1.7h-1.7zM488.9 234.1h1.7v1.7h-1.7zM489.1 233.1h1.7v1.7h-1.7zM489.1 230.4h1.7v1.7h-1.7zM489.0 223.5h1.7v1.7h-1.7zM489.2 206.7h1.7v1.7h-1.7zM490.1 230.2h1.7v1.7h-1.7zM490.1 228.4h1.7v1.7h-1.7zM490.0 222.6h1.7v1.7h-1.7zM491.2 235.4h1.7v1.7h-1.7zM491.2 234.9h1.7v1.7h-1.7zM491.1 225.5h1.7v1.7h-1.7zM491.0 223.0h1.7v1.7h-1.7zM491.9 234.2h1.7v1.7h-1.7zM491.9 233.1h1.7v1.7h-1.7zM492.0 229.3h1.7v1.7h-1.7zM492.0 228.5h1.7v1.7h-1.7zM491.9 227.5h1.7v1.7h-1.7zM492.1 219.0h1.7v1.7h-1.7zM492.0 219.1h1.7v1.7h-1.7zM492.0 215.9h1.7v1.7h-1.7zM492.0 214.3h1.7v1.7h-1.7zM493.0 235.3h1.7v1.7h-1.7zM493.0 225.9h1.7v1.7h-1.7zM493.1 223.6h1.7v1.7h-1.7zM493.1 218.7h1.7v1.7h-1.7zM493.2 212.6h1.7v1.7h-1.7zM493.1 208.9h1.7v1.7h-1.7zM493.1 208.9h1.7v1.7h-1.7zM494.1 234.9h1.7v1.7h-1.7zM494.0 235.2h1.7v1.7h-1.7zM493.9 234.6h1.7v1.7h-1.7zM494.0 233.1h1.7v1.7h-1.7zM494.2 233.4h1.7v1.7h-1.7zM494.0 231.9h1.7v1.7h-1.7zM494.0 232.2h1.7v1.7h-1.7zM494.1 229.2h1.7v1.7h-1.7zM494.1 228.5h1.7v1.7h-1.7zM493.9 224.1h1.7v1.7h-1.7zM494.2 222.1h1.7v1.7h-1.7zM494.1 222.0h1.7v1.7h-1.7zM494.2 220.4h1.7v1.7h-1.7zM494.1 217.9h1.7v1.7h-1.7zM494.1 215.1h1.7v1.7h-1.7zM494.1 209.7h1.7v1.7h-1.7zM494.1 208.2h1.7v1.7h-1.7zM495.1 234.6h1.7v1.7h-1.7zM495.1 234.3h1.7v1.7h-1.7zM494.9 232.4h1.7v1.7h-1.7zM494.9 230.2h1.7v1.7h-1.7zM495.0 226.6h1.7v1.7h-1.7zM495.1 225.0h1.7v1.7h-1.7zM495.0 223.6h1.7v1.7h-1.7zM495.1 223.5h1.7v1.7h-1.7zM495.1 221.9h1.7v1.7h-1.7zM494.9 221.2h1.7v1.7h-1.7zM495.0 218.3h1.7v1.7h-1.7zM495.0 216.1h1.7v1.7h-1.7zM495.2 215.2h1.7v1.7h-1.7zM495.1 214.6h1.7v1.7h-1.7zM495.0 212.2h1.7v1.7h-1.7zM495.0 211.5h1.7v1.7h-1.7zM495.2 205.1h1.7v1.7h-1.7zM495.2 205.6h1.7v1.7h-1.7zM496.1 235.5h1.7v1.7h-1.7zM496.0 235.6h1.7v1.7h-1.7zM496.1 235.4h1.7v1.7h-1.7zM496.2 235.5h1.7v1.7h-1.7zM496.1 235.6h1.7v1.7h-1.7zM496.1 233.7h1.7v1.7h-1.7zM496.1 234.4h1.7v1.7h-1.7zM496.0 234.1h1.7v1.7h-1.7zM496.2 233.5h1.7v1.7h-1.7zM496.0 233.2h1.7v1.7h-1.7zM496.0 232.2h1.7v1.7h-1.7zM496.0 229.9h1.7v1.7h-1.7zM496.0 228.8h1.7v1.7h-1.7zM496.2 229.1h1.7v1.7h-1.7zM496.1 224.2h1.7v1.7h-1.7zM495.9 224.1h1.7v1.7h-1.7zM496.1 223.3h1.7v1.7h-1.7zM495.9 220.7h1.7v1.7h-1.7zM496.1 221.4h1.7v1.7h-1.7zM495.9 219.3h1.7v1.7h-1.7zM496.1 218.6h1.7v1.7h-1.7zM496.0 217.6h1.7v1.7h-1.7zM496.0 216.5h1.7v1.7h-1.7zM496.1 216.2h1.7v1.7h-1.7zM495.9 212.4h1.7v1.7h-1.7zM496.2 207.3h1.7v1.7h-1.7zM495.9 196.0h1.7v1.7h-1.7zM49.1 132.2h1.7v1.7h-1.7zM72.5 135.1h1.7v1.7h-1.7zM66.2 164.3h1.7v1.7h-1.7zM71.7 160.8h1.7v1.7h-1.7zM83.7 166.7h1.7v1.7h-1.7zM55.9 174.1h1.7v1.7h-1.7zM50.6 176.0h1.7v1.7h-1.7zM49.8 179.8h1.7v1.7h-1.7zM51.6 181.8h1.7v1.7h-1.7zM54.5 177.8h1.7v1.7h-1.7zM66.2 175.0h1.7v1.7h-1.7zM65.7 177.8h1.7v1.7h-1.7zM72.1 172.1h1.7v1.7h-1.7zM72.1 175.0h1.7v1.7h-1.7zM72.1 177.8h1.7v1.7h-1.7zM76.0 177.3h1.7v1.7h-1.7zM64.2 182.8h1.7v1.7h-1.7zM65.2 184.7h1.7v1.7h-1.7zM74.0 182.8h1.7v1.7h-1.7zM75.0 185.7h1.7v1.7h-1.7zM83.7 177.0h1.7v1.7h-1.7zM84.7 179.8h1.7v1.7h-1.7zM83.7 182.8h1.7v1.7h-1.7zM85.7 184.7h1.7v1.7h-1.7zM123.5 159.1h1.7v1.7h-1.7zM123.5 160.5h1.7v1.7h-1.7zM126.9 165.2h1.7v1.7h-1.7zM126.9 168.2h1.7v1.7h-1.7zM126.9 171.2h1.7v1.7h-1.7zM126.9 174.1h1.7v1.7h-1.7zM123.5 176.0h1.7v1.7h-1.7zM130.2 176.0h1.7v1.7h-1.7zM126.9 177.8h1.7v1.7h-1.7zM126.9 180.8h1.7v1.7h-1.7zM126.9 183.8h1.7v1.7h-1.7zM126.9 186.7h1.7v1.7h-1.7zM147.2 164.0h1.7v1.7h-1.7zM148.3 175.0h1.7v1.7h-1.7zM147.2 177.8h1.7v1.7h-1.7zM148.8 178.8h1.7v1.7h-1.7zM139.5 180.8h1.7v1.7h-1.7zM140.1 183.8h1.7v1.7h-1.7zM139.5 186.7h1.7v1.7h-1.7zM149.8 187.7h1.7v1.7h-1.7zM181.2 173.1h1.7v1.7h-1.7zM180.2 177.8h1.7v1.7h-1.7zM180.2 181.8h1.7v1.7h-1.7zM181.8 183.8h1.7v1.7h-1.7zM184.7 182.8h1.7v1.7h-1.7zM188.6 185.7h1.7v1.7h-1.7zM187.6 186.7h1.7v1.7h-1.7zM200.2 180.8h1.7v1.7h-1.7zM201.2 180.5h1.7v1.7h-1.7zM199.2 183.8h1.7v1.7h-1.7zM196.8 187.7h1.7v1.7h-1.7zM232.2 182.8h1.7v1.7h-1.7zM233.2 182.3h1.7v1.7h-1.7zM245.8 167.2h1.7v1.7h-1.7zM245.8 169.2h1.7v1.7h-1.7zM254.2 163.8h1.7v1.7h-1.7zM253.1 167.7h1.7v1.7h-1.7zM253.1 172.5h1.7v1.7h-1.7zM241.0 182.8h1.7v1.7h-1.7zM237.1 183.3h1.7v1.7h-1.7zM242.0 184.3h1.7v1.7h-1.7zM253.1 185.7h1.7v1.7h-1.7zM287.1 153.2h1.7v1.7h-1.7zM296.3 164.8h1.7v1.7h-1.7zM296.3 171.2h1.7v1.7h-1.7zM291.4 176.0h1.7v1.7h-1.7zM293.4 177.8h1.7v1.7h-1.7zM290.4 177.8h1.7v1.7h-1.7zM293.0 180.8h1.7v1.7h-1.7zM293.4 183.8h1.7v1.7h-1.7zM296.8 176.6h1.7v1.7h-1.7zM297.6 181.8h1.7v1.7h-1.7zM287.5 180.8h1.7v1.7h-1.7zM278.8 179.2h1.7v1.7h-1.7zM319.6 136.8h1.7v1.7h-1.7zM327.9 137.2h1.7v1.7h-1.7zM319.6 154.1h1.7v1.7h-1.7zM331.6 166.7h1.7v1.7h-1.7zM317.6 172.7h1.7v1.7h-1.7zM322.1 175.0h1.7v1.7h-1.7zM325.4 170.2h1.7v1.7h-1.7zM326.4 173.1h1.7v1.7h-1.7zM320.1 180.5h1.7v1.7h-1.7zM318.6 182.3h1.7v1.7h-1.7zM323.4 181.8h1.7v1.7h-1.7zM326.4 180.5h1.7v1.7h-1.7zM328.3 179.8h1.7v1.7h-1.7zM326.4 182.8h1.7v1.7h-1.7zM325.4 185.7h1.7v1.7h-1.7zM331.2 176.6h1.7v1.7h-1.7zM317.6 186.2h1.7v1.7h-1.7zM320.5 187.7h1.7v1.7h-1.7zM360.0 145.5h1.7v1.7h-1.7zM367.5 166.2h1.7v1.7h-1.7zM336.1 178.8h1.7v1.7h-1.7zM336.1 182.8h1.7v1.7h-1.7zM360.0 182.8h1.7v1.7h-1.7zM365.2 180.8h1.7v1.7h-1.7zM367.1 181.8h1.7v1.7h-1.7zM371.0 178.8h1.7v1.7h-1.7zM371.0 181.8h1.7v1.7h-1.7zM372.0 187.7h1.7v1.7h-1.7zM394.9 159.8h1.7v1.7h-1.7zM394.9 163.3h1.7v1.7h-1.7zM394.9 167.2h1.7v1.7h-1.7zM401.1 156.2h1.7v1.7h-1.7zM399.2 169.2h1.7v1.7h-1.7zM398.2 175.0h1.7v1.7h-1.7zM402.8 179.2h1.7v1.7h-1.7zM396.3 183.8h1.7v1.7h-1.7zM398.2 187.1h1.7v1.7h-1.7zM423.9 136.8h1.7v1.7h-1.7zM423.9 141.2h1.7v1.7h-1.7zM423.9 142.8h1.7v1.7h-1.7zM421.8 145.3h1.7v1.7h-1.7zM448.8 132.3h1.7v1.7h-1.7zM423.4 155.2h1.7v1.7h-1.7zM423.4 161.1h1.7v1.7h-1.7zM427.9 163.3h1.7v1.7h-1.7zM419.0 166.2h1.7v1.7h-1.7zM423.4 167.7h1.7v1.7h-1.7zM418.6 171.2h1.7v1.7h-1.7zM423.4 173.1h1.7v1.7h-1.7zM429.3 171.7h1.7v1.7h-1.7zM423.4 177.0h1.7v1.7h-1.7zM426.4 177.3h1.7v1.7h-1.7zM422.5 179.8h1.7v1.7h-1.7zM424.4 181.8h1.7v1.7h-1.7zM423.4 183.8h1.7v1.7h-1.7zM418.6 183.8h1.7v1.7h-1.7zM417.6 187.1h1.7v1.7h-1.7zM442.8 151.2h1.7v1.7h-1.7zM442.8 163.3h1.7v1.7h-1.7zM443.4 164.3h1.7v1.7h-1.7zM448.2 159.8h1.7v1.7h-1.7zM447.3 161.3h1.7v1.7h-1.7zM447.3 164.3h1.7v1.7h-1.7zM427.8 163.3h1.7v1.7h-1.7zM428.8 171.5h1.7v1.7h-1.7zM442.8 171.2h1.7v1.7h-1.7zM442.8 173.5h1.7v1.7h-1.7zM442.4 177.8h1.7v1.7h-1.7zM444.3 179.8h1.7v1.7h-1.7zM447.8 177.0h1.7v1.7h-1.7zM447.8 179.8h1.7v1.7h-1.7zM446.3 182.8h1.7v1.7h-1.7zM442.4 183.8h1.7v1.7h-1.7zM441.4 186.7h1.7v1.7h-1.7zM445.3 187.1h1.7v1.7h-1.7zM448.2 185.7h1.7v1.7h-1.7zM465.1 167.2h1.7v1.7h-1.7zM463.8 181.8h1.7v1.7h-1.7zM465.8 182.8h1.7v1.7h-1.7zM464.8 184.7h1.7v1.7h-1.7zM494.4 180.8h1.7v1.7h-1.7zM495.8 188.2h1.7v1.7h-1.7zM477.4 187.7h1.7v1.7h-1.7zM479.8 187.1h1.7v1.7h-1.7zM423.0 177.8h1.7v1.7h-1.7zM424.0 180.8h1.7v1.7h-1.7zM423.0 182.8h1.7v1.7h-1.7zM428.8 187.1h1.7v1.7h-1.7zM427.8 185.7h1.7v1.7h-1.7zM319.6 136.2h1.7v1.7h-1.7zM327.9 136.2h1.7v1.7h-1.7zM325.6 120.5h1.7v1.7h-1.7z"/>
<path fill="#165389" d="M85.8 236.0h36.0v5.0h-36.0zM85.8 222.0h1.0v14.0h-1.0zM86.8 215.0h1.0v21.0h-1.0zM87.8 220.0h1.0v16.0h-1.0zM88.8 234.0h1.0v2.0h-1.0zM90.8 224.0h1.0v12.0h-1.0zM92.8 228.0h1.0v8.0h-1.0zM93.8 229.0h1.0v7.0h-1.0zM94.8 225.0h1.0v11.0h-1.0zM95.8 220.0h1.0v16.0h-1.0zM96.8 216.0h1.0v20.0h-1.0zM98.8 222.0h1.0v14.0h-1.0zM99.8 219.0h1.0v17.0h-1.0zM100.8 214.0h1.0v22.0h-1.0zM101.8 227.0h1.0v9.0h-1.0zM102.8 227.0h1.0v9.0h-1.0zM103.8 226.0h1.0v10.0h-1.0zM104.8 221.0h1.0v15.0h-1.0zM105.8 216.0h1.0v20.0h-1.0zM106.8 214.0h1.0v22.0h-1.0zM107.8 216.0h1.0v20.0h-1.0zM108.8 214.0h1.0v22.0h-1.0zM109.8 218.0h1.0v18.0h-1.0zM110.8 214.0h1.0v22.0h-1.0zM111.8 228.0h1.0v8.0h-1.0zM112.8 217.0h1.0v19.0h-1.0zM113.8 232.0h1.0v4.0h-1.0zM114.8 210.0h1.0v26.0h-1.0zM115.8 221.0h1.0v15.0h-1.0zM117.8 224.0h1.0v12.0h-1.0zM118.8 224.0h1.0v12.0h-1.0zM119.8 225.0h1.0v11.0h-1.0zM120.8 222.0h1.0v14.0h-1.0zM150.9 236.0h27.9v5.0h-27.9zM150.9 220.0h1.0v16.0h-1.0zM151.9 211.0h1.0v25.0h-1.0zM152.9 224.0h1.0v12.0h-1.0zM153.9 215.0h1.0v21.0h-1.0zM154.9 221.0h1.0v15.0h-1.0zM156.9 216.0h1.0v20.0h-1.0zM157.9 211.0h1.0v25.0h-1.0zM158.9 220.0h1.0v16.0h-1.0zM159.9 223.0h1.0v13.0h-1.0zM160.9 227.0h1.0v9.0h-1.0zM161.9 223.0h1.0v13.0h-1.0zM162.9 227.0h1.0v9.0h-1.0zM163.9 226.0h1.0v10.0h-1.0zM164.9 221.0h1.0v15.0h-1.0zM165.9 218.0h1.0v18.0h-1.0zM166.9 224.0h1.0v12.0h-1.0zM168.9 230.0h1.0v6.0h-1.0zM169.9 232.0h1.0v4.0h-1.0zM170.9 217.0h1.0v19.0h-1.0zM171.9 232.0h1.0v4.0h-1.0zM173.9 233.0h1.0v3.0h-1.0zM174.9 226.0h1.0v10.0h-1.0zM175.9 229.0h1.0v7.0h-1.0zM176.9 231.0h1.0v5.0h-1.0zM205.5 236.0h25.4v5.0h-25.4zM205.5 207.0h1.0v29.0h-1.0zM206.5 205.0h1.0v31.0h-1.0zM207.5 196.0h1.0v40.0h-1.0zM208.5 205.0h1.0v31.0h-1.0zM209.5 213.0h1.0v23.0h-1.0zM210.5 205.0h1.0v31.0h-1.0zM211.5 200.0h1.0v36.0h-1.0zM212.5 209.0h1.0v27.0h-1.0zM214.5 227.0h1.0v9.0h-1.0zM215.5 228.0h1.0v8.0h-1.0zM216.5 229.0h1.0v7.0h-1.0zM217.5 229.0h1.0v7.0h-1.0zM218.5 222.0h1.0v14.0h-1.0zM219.5 232.0h1.0v4.0h-1.0zM220.5 234.0h1.0v2.0h-1.0zM221.5 227.0h1.0v9.0h-1.0zM222.5 227.0h1.0v9.0h-1.0zM223.5 218.0h1.0v18.0h-1.0zM224.5 223.0h1.0v13.0h-1.0zM225.5 228.0h1.0v8.0h-1.0zM226.5 234.0h1.0v2.0h-1.0zM227.5 226.0h1.0v10.0h-1.0zM229.5 225.0h1.0v11.0h-1.0zM254.3 236.0h21.3v5.0h-21.3zM254.3 205.0h1.0v31.0h-1.0zM255.3 213.0h1.0v23.0h-1.0zM257.3 219.0h1.0v17.0h-1.0zM258.3 212.0h1.0v24.0h-1.0zM259.3 220.0h1.0v16.0h-1.0zM260.3 226.0h1.0v10.0h-1.0zM261.3 226.0h1.0v10.0h-1.0zM262.3 226.0h1.0v10.0h-1.0zM263.3 229.0h1.0v7.0h-1.0zM265.3 220.0h1.0v16.0h-1.0zM266.3 222.0h1.0v14.0h-1.0zM267.3 221.0h1.0v15.0h-1.0zM268.3 222.0h1.0v14.0h-1.0zM269.3 227.0h1.0v9.0h-1.0zM270.3 221.0h1.0v15.0h-1.0zM271.3 225.0h1.0v11.0h-1.0zM272.3 223.0h1.0v13.0h-1.0zM273.3 233.0h1.0v3.0h-1.0zM296.7 229.0h20.0v12.0h-20.0zM296.7 213.0h1.0v16.0h-1.0zM297.7 215.0h1.0v14.0h-1.0zM298.7 215.0h1.0v14.0h-1.0zM299.7 214.0h1.0v15.0h-1.0zM300.7 213.0h1.0v16.0h-1.0zM301.7 218.0h1.0v11.0h-1.0zM302.7 213.0h1.0v16.0h-1.0zM303.7 209.0h1.0v20.0h-1.0zM304.7 222.0h1.0v7.0h-1.0zM305.7 211.0h1.0v18.0h-1.0zM306.7 214.0h1.0v15.0h-1.0zM307.7 211.0h1.0v18.0h-1.0zM308.7 213.0h1.0v16.0h-1.0zM309.7 208.0h1.0v21.0h-1.0zM310.7 207.0h1.0v22.0h-1.0zM311.7 215.0h1.0v14.0h-1.0zM312.7 200.0h1.0v29.0h-1.0zM313.7 212.0h1.0v17.0h-1.0zM314.7 218.0h1.0v11.0h-1.0zM315.7 203.0h1.0v26.0h-1.0zM336.3 236.0h22.2v5.0h-22.2zM336.3 217.0h1.0v19.0h-1.0zM337.3 217.0h1.0v19.0h-1.0zM338.3 219.0h1.0v17.0h-1.0zM339.3 217.0h1.0v19.0h-1.0zM340.3 222.0h1.0v14.0h-1.0zM341.3 227.0h1.0v9.0h-1.0zM342.3 226.0h1.0v10.0h-1.0zM344.3 233.0h1.0v3.0h-1.0zM346.3 231.0h1.0v5.0h-1.0zM347.3 230.0h1.0v6.0h-1.0zM348.3 217.0h1.0v19.0h-1.0zM349.3 207.0h1.0v29.0h-1.0zM350.3 218.0h1.0v18.0h-1.0zM351.3 222.0h1.0v14.0h-1.0zM352.3 220.0h1.0v16.0h-1.0zM353.3 225.0h1.0v11.0h-1.0zM354.3 215.0h1.0v21.0h-1.0zM355.3 222.0h1.0v14.0h-1.0zM356.3 214.0h1.0v22.0h-1.0zM357.3 208.0h1.0v28.0h-1.0zM375.5 232.0h15.7v9.0h-15.7zM375.5 225.0h1.0v7.0h-1.0zM376.5 220.0h1.0v12.0h-1.0zM377.5 223.0h1.0v9.0h-1.0zM378.5 220.0h1.0v12.0h-1.0zM380.5 221.0h1.0v11.0h-1.0zM381.5 217.0h1.0v15.0h-1.0zM382.5 224.0h1.0v8.0h-1.0zM383.5 204.0h1.0v28.0h-1.0zM384.5 211.0h1.0v21.0h-1.0zM385.5 218.0h1.0v14.0h-1.0zM386.5 222.0h1.0v10.0h-1.0zM388.5 215.0h1.0v17.0h-1.0zM389.5 218.0h1.0v14.0h-1.0zM390.5 222.0h0.7v10.0h-0.7zM404.0 236.0h13.3v5.0h-13.3zM404.0 212.0h1.0v24.0h-1.0zM405.0 212.0h1.0v24.0h-1.0zM406.0 219.0h1.0v17.0h-1.0zM407.0 215.0h1.0v21.0h-1.0zM408.0 211.0h1.0v25.0h-1.0zM409.0 213.0h1.0v23.0h-1.0zM410.0 228.0h1.0v8.0h-1.0zM411.0 227.0h1.0v9.0h-1.0zM412.0 220.0h1.0v16.0h-1.0zM413.0 221.0h1.0v15.0h-1.0zM414.0 209.0h1.0v27.0h-1.0zM415.0 217.0h1.0v19.0h-1.0zM416.0 216.0h1.0v20.0h-1.0zM429.5 236.0h11.5v5.0h-11.5zM429.5 216.0h1.0v20.0h-1.0zM430.5 210.0h1.0v26.0h-1.0zM431.5 227.0h1.0v9.0h-1.0zM432.5 216.0h1.0v20.0h-1.0zM433.5 212.0h1.0v24.0h-1.0zM434.5 226.0h1.0v10.0h-1.0zM435.5 228.0h1.0v8.0h-1.0zM436.5 224.0h1.0v12.0h-1.0zM437.5 222.0h1.0v14.0h-1.0zM438.5 226.0h1.0v10.0h-1.0zM449.4 223.0h10.8v18.0h-10.8zM449.4 206.0h1.0v17.0h-1.0zM450.4 214.0h1.0v9.0h-1.0zM451.4 210.0h1.0v13.0h-1.0zM452.4 210.0h1.0v13.0h-1.0zM453.4 209.0h1.0v14.0h-1.0zM454.4 210.0h1.0v13.0h-1.0zM455.4 211.0h1.0v12.0h-1.0zM456.4 221.0h1.0v2.0h-1.0zM457.4 214.0h1.0v9.0h-1.0zM458.4 213.0h1.0v10.0h-1.0zM468.2 221.0h6.2v20.0h-6.2zM468.2 206.0h1.0v15.0h-1.0zM469.2 211.0h1.0v10.0h-1.0zM470.2 209.0h1.0v12.0h-1.0zM471.2 206.0h1.0v15.0h-1.0zM472.2 210.0h1.0v11.0h-1.0zM473.2 211.0h1.0v10.0h-1.0z"/>
<path fill="#165389" d="M85.4 221.0h1.7v1.7h-1.7zM85.5 221.5h1.7v1.7h-1.7zM85.4 220.1h1.7v1.7h-1.7zM85.6 219.2h1.7v1.7h-1.7zM85.6 218.8h1.7v1.7h-1.7zM85.6 218.5h1.7v1.7h-1.7zM85.5 218.0h1.7v1.7h-1.7zM85.4 218.1h1.7v1.7h-1.7zM85.4 214.8h1.7v1.7h-1.7zM85.5 215.0h1.7v1.7h-1.7zM85.4 214.7h1.7v1.7h-1.7zM85.4 214.4h1.7v1.7h-1.7zM85.6 214.0h1.7v1.7h-1.7zM85.6 212.4h1.7v1.7h-1.7zM85.5 212.2h1.7v1.7h-1.7zM85.5 210.2h1.7v1.7h-1.7zM85.4 210.2h1.7v1.7h-1.7zM85.5 198.3h1.7v1.7h-1.7zM85.5 197.7h1.7v1.7h-1.7zM86.5 214.6h1.7v1.7h-1.7zM86.3 214.6h1.7v1.7h-1.7zM86.5 214.2h1.7v1.7h-1.7zM86.5 213.5h1.7v1.7h-1.7zM86.4 210.8h1.7v1.7h-1.7zM86.4 211.6h1.7v1.7h-1.7zM86.4 211.0h1.7v1.7h-1.7zM86.3 209.9h1.7v1.7h-1.7zM86.4 210.3h1.7v1.7h-1.7zM86.3 210.3h1.7v1.7h-1.7zM86.5 208.1h1.7v1.7h-1.7zM86.5 208.2h1.7v1.7h-1.7zM86.6 206.7h1.7v1.7h-1.7zM86.4 204.0h1.7v1.7h-1.7zM86.4 201.8h1.7v1.7h-1.7zM86.3 202.1h1.7v1.7h-1.7zM86.6 200.3h1.7v1.7h-1.7zM86.3 196.3h1.7v1.7h-1.7zM86.6 194.3h1.7v1.7h-1.7zM86.5 187.0h1.7v1.7h-1.7zM87.5 219.6h1.7v1.7h-1.7zM87.5 219.5h1.7v1.7h-1.7zM87.6 218.9h1.7v1.7h-1.7zM87.4 218.4h1.7v1.7h-1.7zM87.4 218.2h1.7v1.7h-1.7zM87.4 218.1h1.7v1.7h-1.7zM87.4 217.8h1.7v1.7h-1.7zM87.4 216.3h1.7v1.7h-1.7zM87.3 215.7h1.7v1.7h-1.7zM87.6 215.2h1.7v1.7h-1.7zM87.5 213.9h1.7v1.7h-1.7zM87.6 212.9h1.7v1.7h-1.7zM87.4 211.4h1.7v1.7h-1.7zM87.4 209.3h1.7v1.7h-1.7zM87.4 206.5h1.7v1.7h-1.7zM87.3 187.4h1.7v1.7h-1.7zM88.4 233.4h1.7v1.7h-1.7zM88.4 231.8h1.7v1.7h-1.7zM88.4 231.4h1.7v1.7h-1.7zM88.4 230.5h1.7v1.7h-1.7zM88.6 226.8h1.7v1.7h-1.7zM88.4 224.4h1.7v1.7h-1.7zM88.5 223.5h1.7v1.7h-1.7zM88.3 218.2h1.7v1.7h-1.7zM88.6 214.1h1.7v1.7h-1.7zM88.4 213.4h1.7v1.7h-1.7zM88.4 209.0h1.7v1.7h-1.7zM89.5 235.0h1.7v1.7h-1.7zM89.6 234.7h1.7v1.7h-1.7zM89.3 234.8h1.7v1.7h-1.7zM89.3 234.6h1.7v1.7h-1.7zM89.4 234.5h1.7v1.7h-1.7zM89.4 234.0h1.7v1.7h-1.7zM89.5 230.0h1.7v1.7h-1.7zM89.4 228.1h1.7v1.7h-1.7zM89.4 226.8h1.7v1.7h-1.7zM89.5 224.0h1.7v1.7h-1.7zM89.4 220.8h1.7v1.7h-1.7zM89.4 217.2h1.7v1.7h-1.7zM89.5 217.2h1.7v1.7h-1.7zM89.6 209.2h1.7v1.7h-1.7zM89.5 206.7h1.7v1.7h-1.7zM90.6 221.8h1.7v1.7h-1.7zM90.5 221.9h1.7v1.7h-1.7zM90.5 220.9h1.7v1.7h-1.7zM90.5 220.8h1.7v1.7h-1.7zM90.4 221.3h1.7v1.7h-1.7zM90.3 221.2h1.7v1.7h-1.7zM90.4 220.1h1.7v1.7h-1.7zM90.4 220.3h1.7v1.7h-1.7zM90.5 218.9h1.7v1.7h-1.7zM90.5 219.0h1.7v1.7h-1.7zM90.3 219.3h1.7v1.7h-1.7zM90.3 217.1h1.7v1.7h-1.7zM90.6 216.6h1.7v1.7h-1.7zM90.6 214.6h1.7v1.7h-1.7zM90.5 212.6h1.7v1.7h-1.7zM90.5 209.2h1.7v1.7h-1.7zM90.4 207.5h1.7v1.7h-1.7zM90.3 201.4h1.7v1.7h-1.7zM90.5 200.2h1.7v1.7h-1.7zM90.5 194.0h1.7v1.7h-1.7zM90.4 193.2h1.7v1.7h-1.7zM90.4 190.7h1.7v1.7h-1.7zM91.5 232.3h1.7v1.7h-1.7zM91.4 231.9h1.7v1.7h-1.7zM91.4 228.4h1.7v1.7h-1.7zM91.5 227.1h1.7v1.7h-1.7zM91.5 224.1h1.7v1.7h-1.7zM91.6 222.1h1.7v1.7h-1.7zM91.4 219.1h1.7v1.7h-1.7zM91.5 216.1h1.7v1.7h-1.7zM91.3 206.3h1.7v1.7h-1.7zM92.4 227.3h1.7v1.7h-1.7zM92.3 227.5h1.7v1.7h-1.7zM92.5 227.3h1.7v1.7h-1.7zM92.5 226.2h1.7v1.7h-1.7zM92.4 225.8h1.7v1.7h-1.7zM92.5 226.3h1.7v1.7h-1.7zM92.5 223.1h1.7v1.7h-1.7zM92.4 221.0h1.7v1.7h-1.7zM92.3 220.4h1.7v1.7h-1.7zM92.3 215.3h1.7v1.7h-1.7zM92.5 215.0h1.7v1.7h-1.7zM92.4 212.9h1.7v1.7h-1.7zM92.4 212.1h1.7v1.7h-1.7zM92.3 201.1h1.7v1.7h-1.7zM92.5 187.8h1.7v1.7h-1.7zM93.3 226.7h1.7v1.7h-1.7zM93.3 227.0h1.7v1.7h-1.7zM93.5 225.2h1.7v1.7h-1.7zM93.5 224.8h1.7v1.7h-1.7zM93.5 223.8h1.7v1.7h-1.7zM93.4 223.2h1.7v1.7h-1.7zM93.5 222.2h1.7v1.7h-1.7zM93.4 221.6h1.7v1.7h-1.7zM93.6 221.5h1.7v1.7h-1.7zM93.4 221.6h1.7v1.7h-1.7zM93.3 219.8h1.7v1.7h-1.7zM93.4 219.1h1.7v1.7h-1.7zM93.4 214.9h1.7v1.7h-1.7zM93.5 214.2h1.7v1.7h-1.7zM93.5 202.7h1.7v1.7h-1.7zM93.5 203.3h1.7v1.7h-1.7zM93.6 195.6h1.7v1.7h-1.7zM94.4 223.8h1.7v1.7h-1.7zM94.5 224.3h1.7v1.7h-1.7zM94.3 224.4h1.7v1.7h-1.7zM94.4 224.2h1.7v1.7h-1.7zM94.4 223.4h1.7v1.7h-1.7zM94.4 223.5h1.7v1.7h-1.7zM94.4 222.1h1.7v1.7h-1.7zM94.5 222.1h1.7v1.7h-1.7zM94.6 220.9h1.7v1.7h-1.7zM94.6 220.5h1.7v1.7h-1.7zM94.5 218.2h1.7v1.7h-1.7zM94.4 218.3h1.7v1.7h-1.7zM94.3 218.3h1.7v1.7h-1.7zM94.4 212.9h1.7v1.7h-1.7zM94.3 209.8h1.7v1.7h-1.7zM94.4 210.2h1.7v1.7h-1.7zM94.5 207.4h1.7v1.7h-1.7zM94.5 207.1h1.7v1.7h-1.7zM94.4 206.3h1.7v1.7h-1.7zM94.5 204.5h1.7v1.7h-1.7zM95.5 218.7h1.7v1.7h-1.7zM95.4 219.0h1.7v1.7h-1.7zM95.3 216.8h1.7v1.7h-1.7zM95.5 217.1h1.7v1.7h-1.7zM95.5 216.1h1.7v1.7h-1.7zM95.5 211.7h1.7v1.7h-1.7zM95.4 210.9h1.7v1.7h-1.7zM95.4 211.6h1.7v1.7h-1.7zM95.6 210.3h1.7v1.7h-1.7zM95.4 209.4h1.7v1.7h-1.7zM95.5 209.1h1.7v1.7h-1.7zM95.6 208.7h1.7v1.7h-1.7zM95.4 206.8h1.7v1.7h-1.7zM95.4 204.5h1.7v1.7h-1.7zM96.4 215.1h1.7v1.7h-1.7zM96.6 215.0h1.7v1.7h-1.7zM96.4 215.2h1.7v1.7h-1.7zM96.5 215.5h1.7v1.7h-1.7zM96.4 214.2h1.7v1.7h-1.7zM96.5 213.8h1.7v1.7h-1.7zM96.5 213.0h1.7v1.7h-1.7zM96.5 212.0h1.7v1.7h-1.7zM96.4 209.7h1.7v1.7h-1.7zM96.5 209.0h1.7v1.7h-1.7zM96.3 208.6h1.7v1.7h-1.7zM96.4 207.3h1.7v1.7h-1.7zM96.6 206.0h1.7v1.7h-1.7zM96.6 205.6h1.7v1.7h-1.7zM96.5 201.7h1.7v1.7h-1.7zM96.6 201.9h1.7v1.7h-1.7zM96.6 196.6h1.7v1.7h-1.7zM96.4 192.7h1.7v1.7h-1.7zM97.5 234.6h1.7v1.7h-1.7zM97.5 233.4h1.7v1.7h-1.7zM97.5 232.0h1.7v1.7h-1.7zM97.3 228.9h1.7v1.7h-1.7zM97.4 226.1h1.7v1.7h-1.7zM97.6 225.9h1.7v1.7h-1.7zM97.6 224.9h1.7v1.7h-1.7zM97.6 224.4h1.7v1.7h-1.7zM97.4 224.1h1.7v1.7h-1.7zM97.6 221.9h1.7v1.7h-1.7zM97.5 220.9h1.7v1.7h-1.7zM97.6 217.0h1.7v1.7h-1.7zM97.4 217.0h1.7v1.7h-1.7zM97.4 215.5h1.7v1.7h-1.7zM98.5 220.7h1.7v1.7h-1.7zM98.6 221.6h1.7v1.7h-1.7zM98.5 220.5h1.7v1.7h-1.7zM98.6 220.5h1.7v1.7h-1.7zM98.4 219.9h1.7v1.7h-1.7zM98.4 219.5h1.7v1.7h-1.7zM98.4 218.8h1.7v1.7h-1.7zM98.4 219.6h1.7v1.7h-1.7zM98.5 217.7h1.7v1.7h-1.7zM98.4 218.3h1.7v1.7h-1.7zM98.6 217.0h1.7v1.7h-1.7zM98.3 214.1h1.7v1.7h-1.7zM98.4 213.9h1.7v1.7h-1.7zM98.3 214.3h1.7v1.7h-1.7zM98.4 211.9h1.7v1.7h-1.7zM98.3 212.2h1.7v1.7h-1.7zM98.6 211.2h1.7v1.7h-1.7zM98.6 210.2h1.7v1.7h-1.7zM98.5 196.9h1.7v1.7h-1.7zM98.4 191.9h1.7v1.7h-1.7zM99.4 217.9h1.7v1.7h-1.7zM99.6 218.4h1.7v1.7h-1.7zM99.4 217.8h1.7v1.7h-1.7zM99.6 217.7h1.7v1.7h-1.7zM99.5 218.4h1.7v1.7h-1.7zM99.4 218.6h1.7v1.7h-1.7zM99.5 218.6h1.7v1.7h-1.7zM99.6 216.8h1.7v1.7h-1.7zM99.4 217.3h1.7v1.7h-1.7zM99.5 215.8h1.7v1.7h-1.7zM99.4 216.6h1.7v1.7h-1.7zM99.5 216.6h1.7v1.7h-1.7zM99.3 216.2h1.7v1.7h-1.7zM99.4 216.4h1.7v1.7h-1.7zM99.4 214.7h1.7v1.7h-1.7zM99.4 215.5h1.7v1.7h-1.7zM99.3 213.7h1.7v1.7h-1.7zM99.3 209.8h1.7v1.7h-1.7zM99.4 209.4h1.7v1.7h-1.7zM99.5 208.0h1.7v1.7h-1.7zM99.4 206.0h1.7v1.7h-1.7zM99.5 201.7h1.7v1.7h-1.7zM99.4 184.1h1.7v1.7h-1.7zM100.3 212.1h1.7v1.7h-1.7zM100.3 211.1h1.7v1.7h-1.7zM100.4 210.6h1.7v1.7h-1.7zM100.4 209.1h1.7v1.7h-1.7zM100.5 208.4h1.7v1.7h-1.7zM100.5 207.8h1.7v1.7h-1.7zM100.4 208.5h1.7v1.7h-1.7zM100.4 207.2h1.7v1.7h-1.7zM100.5 202.7h1.7v1.7h-1.7zM100.4 189.3h1.7v1.7h-1.7zM101.3 226.5h1.7v1.7h-1.7zM101.3 226.2h1.7v1.7h-1.7zM101.5 226.5h1.7v1.7h-1.7zM101.6 225.3h1.7v1.7h-1.7zM101.4 224.9h1.7v1.7h-1.7zM101.4 225.2h1.7v1.7h-1.7zM101.6 225.1h1.7v1.7h-1.7zM101.4 224.0h1.7v1.7h-1.7zM101.4 223.1h1.7v1.7h-1.7zM101.4 222.4h1.7v1.7h-1.7zM101.5 221.0h1.7v1.7h-1.7zM101.3 221.4h1.7v1.7h-1.7zM101.4 219.5h1.7v1.7h-1.7zM101.4 219.3h1.7v1.7h-1.7zM101.5 217.3h1.7v1.7h-1.7zM101.6 213.9h1.7v1.7h-1.7zM101.5 198.8h1.7v1.7h-1.7zM101.4 189.2h1.7v1.7h-1.7zM102.6 226.1h1.7v1.7h-1.7zM102.5 225.3h1.7v1.7h-1.7zM102.5 225.1h1.7v1.7h-1.7zM102.5 224.0h1.7v1.7h-1.7zM102.4 223.8h1.7v1.7h-1.7zM102.4 223.7h1.7v1.7h-1.7zM102.3 221.3h1.7v1.7h-1.7zM102.3 219.8h1.7v1.7h-1.7zM102.3 218.8h1.7v1.7h-1.7zM102.5 215.7h1.7v1.7h-1.7zM102.3 214.5h1.7v1.7h-1.7zM102.3 212.9h1.7v1.7h-1.7zM102.5 211.4h1.7v1.7h-1.7zM102.4 210.1h1.7v1.7h-1.7zM102.5 199.8h1.7v1.7h-1.7zM102.5 199.5h1.7v1.7h-1.7zM103.5 224.9h1.7v1.7h-1.7zM103.6 225.5h1.7v1.7h-1.7zM103.5 225.6h1.7v1.7h-1.7zM103.3 224.7h1.7v1.7h-1.7zM103.4 224.8h1.7v1.7h-1.7zM103.5 222.7h1.7v1.7h-1.7zM103.5 223.4h1.7v1.7h-1.7zM103.5 223.1h1.7v1.7h-1.7zM103.5 221.9h1.7v1.7h-1.7zM103.5 219.0h1.7v1.7h-1.7zM103.4 218.3h1.7v1.7h-1.7zM103.5 217.5h1.7v1.7h-1.7zM103.5 215.9h1.7v1.7h-1.7zM103.3 216.1h1.7v1.7h-1.7zM103.4 215.6h1.7v1.7h-1.7zM103.3 213.7h1.7v1.7h-1.7zM103.4 212.1h1.7v1.7h-1.7zM103.3 210.3h1.7v1.7h-1.7zM103.3 210.1h1.7v1.7h-1.7zM103.6 202.8h1.7v1.7h-1.7zM103.4 195.2h1.7v1.7h-1.7zM104.3 219.0h1.7v1.7h-1.7zM104.4 218.8h1.7v1.7h-1.7zM104.3 218.6h1.7v1.7h-1.7zM104.5 217.4h1.7v1.7h-1.7zM104.5 217.5h1.7v1.7h-1.7zM104.6 217.4h1.7v1.7h-1.7zM104.5 217.1h1.7v1.7h-1.7zM104.4 217.6h1.7v1.7h-1.7zM104.3 216.4h1.7v1.7h-1.7zM104.5 216.1h1.7v1.7h-1.7zM104.5 214.9h1.7v1.7h-1.7zM104.4 215.0h1.7v1.7h-1.7zM104.4 213.2h1.7v1.7h-1.7zM104.6 213.0h1.7v1.7h-1.7zM104.4 213.1h1.7v1.7h-1.7zM104.3 212.3h1.7v1.7h-1.7zM104.4 211.2h1.7v1.7h-1.7zM104.4 210.7h1.7v1.7h-1.7zM104.3 206.7h1.7v1.7h-1.7zM104.5 207.2h1.7v1.7h-1.7zM104.5 204.3h1.7v1.7h-1.7zM104.3 202.1h1.7v1.7h-1.7zM104.5 195.6h1.7v1.7h-1.7zM104.5 192.8h1.7v1.7h-1.7zM104.5 184.1h1.7v1.7h-1.7zM105.6 215.0h1.7v1.7h-1.7zM105.5 214.4h1.7v1.7h-1.7zM105.4 214.1h1.7v1.7h-1.7zM105.3 213.8h1.7v1.7h-1.7zM105.3 214.2h1.7v1.7h-1.7zM105.4 213.6h1.7v1.7h-1.7zM105.5 209.7h1.7v1.7h-1.7zM105.4 208.1h1.7v1.7h-1.7zM105.5 206.6h1.7v1.7h-1.7zM105.6 204.5h1.7v1.7h-1.7zM105.4 201.6h1.7v1.7h-1.7zM105.4 193.0h1.7v1.7h-1.7zM105.4 192.9h1.7v1.7h-1.7zM105.5 187.2h1.7v1.7h-1.7zM106.4 213.0h1.7v1.7h-1.7zM106.3 213.0h1.7v1.7h-1.7zM106.5 212.1h1.7v1.7h-1.7zM106.6 212.3h1.7v1.7h-1.7zM106.4 211.9h1.7v1.7h-1.7zM106.6 210.4h1.7v1.7h-1.7zM106.5 210.0h1.7v1.7h-1.7zM106.4 209.1h1.7v1.7h-1.7zM106.4 208.8h1.7v1.7h-1.7zM106.5 203.5h1.7v1.7h-1.7zM106.4 200.7h1.7v1.7h-1.7zM106.5 194.0h1.7v1.7h-1.7zM106.6 189.9h1.7v1.7h-1.7zM107.4 215.3h1.7v1.7h-1.7zM107.3 215.5h1.7v1.7h-1.7zM107.6 215.4h1.7v1.7h-1.7zM107.6 215.1h1.7v1.7h-1.7zM107.4 214.2h1.7v1.7h-1.7zM107.6 213.0h1.7v1.7h-1.7zM107.4 212.0h1.7v1.7h-1.7zM107.5 212.0h1.7v1.7h-1.7zM107.4 212.0h1.7v1.7h-1.7zM107.5 211.8h1.7v1.7h-1.7zM107.4 211.4h1.7v1.7h-1.7zM107.5 211.1h1.7v1.7h-1.7zM107.4 209.0h1.7v1.7h-1.7zM107.4 208.8h1.7v1.7h-1.7zM107.4 209.3h1.7v1.7h-1.7zM107.5 209.3h1.7v1.7h-1.7zM107.5 208.8h1.7v1.7h-1.7zM107.4 206.8h1.7v1.7h-1.7zM107.4 207.1h1.7v1.7h-1.7zM107.4 204.7h1.7v1.7h-1.7zM107.5 203.2h1.7v1.7h-1.7zM107.5 194.9h1.7v1.7h-1.7zM107.4 191.0h1.7v1.7h-1.7zM107.4 189.7h1.7v1.7h-1.7zM108.4 212.0h1.7v1.7h-1.7zM108.4 211.4h1.7v1.7h-1.7zM108.4 209.7h1.7v1.7h-1.7zM108.5 209.5h1.7v1.7h-1.7zM108.6 208.1h1.7v1.7h-1.7zM108.4 208.1h1.7v1.7h-1.7zM108.3 208.0h1.7v1.7h-1.7zM108.6 203.3h1.7v1.7h-1.7zM108.4 201.3h1.7v1.7h-1.7zM108.4 201.6h1.7v1.7h-1.7zM108.3 200.3h1.7v1.7h-1.7zM108.6 196.8h1.7v1.7h-1.7zM108.4 196.9h1.7v1.7h-1.7zM108.5 196.2h1.7v1.7h-1.7zM109.5 216.8h1.7v1.7h-1.7zM109.5 217.5h1.7v1.7h-1.7zM109.4 216.4h1.7v1.7h-1.7zM109.6 215.7h1.7v1.7h-1.7zM109.5 216.1h1.7v1.7h-1.7zM109.6 213.1h1.7v1.7h-1.7zM109.3 213.4h1.7v1.7h-1.7zM109.5 213.3h1.7v1.7h-1.7zM109.4 212.3h1.7v1.7h-1.7zM109.5 209.7h1.7v1.7h-1.7zM109.4 209.9h1.7v1.7h-1.7zM109.5 209.7h1.7v1.7h-1.7zM109.4 208.1h1.7v1.7h-1.7zM109.5 201.7h1.7v1.7h-1.7zM109.5 199.1h1.7v1.7h-1.7zM109.5 195.3h1.7v1.7h-1.7zM110.6 213.6h1.7v1.7h-1.7zM110.5 213.0h1.7v1.7h-1.7zM110.4 211.7h1.7v1.7h-1.7zM110.6 210.7h1.7v1.7h-1.7zM110.4 211.0h1.7v1.7h-1.7zM110.4 209.2h1.7v1.7h-1.7zM110.4 209.3h1.7v1.7h-1.7zM110.6 208.0h1.7v1.7h-1.7zM110.5 208.4h1.7v1.7h-1.7zM110.3 205.9h1.7v1.7h-1.7zM110.3 206.6h1.7v1.7h-1.7zM110.6 203.5h1.7v1.7h-1.7zM110.5 198.7h1.7v1.7h-1.7zM110.6 197.9h1.7v1.7h-1.7zM110.3 196.6h1.7v1.7h-1.7zM111.5 227.4h1.7v1.7h-1.7zM111.4 227.4h1.7v1.7h-1.7zM111.4 226.9h1.7v1.7h-1.7zM111.5 225.8h1.7v1.7h-1.7zM111.5 225.2h1.7v1.7h-1.7zM111.6 225.2h1.7v1.7h-1.7zM111.3 224.9h1.7v1.7h-1.7zM111.4 223.9h1.7v1.7h-1.7zM111.6 224.6h1.7v1.7h-1.7zM111.3 223.2h1.7v1.7h-1.7zM111.4 223.1h1.7v1.7h-1.7zM111.3 222.8h1.7v1.7h-1.7zM111.5 222.4h1.7v1.7h-1.7zM111.3 220.1h1.7v1.7h-1.7zM111.5 219.5h1.7v1.7h-1.7zM111.6 219.6h1.7v1.7h-1.7zM111.6 215.2h1.7v1.7h-1.7zM111.4 202.7h1.7v1.7h-1.7zM111.5 189.9h1.7v1.7h-1.7zM112.3 214.8h1.7v1.7h-1.7zM112.4 214.1h1.7v1.7h-1.7zM112.4 212.9h1.7v1.7h-1.7zM112.5 212.8h1.7v1.7h-1.7zM112.6 213.0h1.7v1.7h-1.7zM112.6 213.5h1.7v1.7h-1.7zM112.3 212.0h1.7v1.7h-1.7zM112.6 211.6h1.7v1.7h-1.7zM112.3 209.0h1.7v1.7h-1.7zM112.4 208.8h1.7v1.7h-1.7zM112.5 207.9h1.7v1.7h-1.7zM112.4 205.5h1.7v1.7h-1.7zM112.4 203.7h1.7v1.7h-1.7zM112.5 203.2h1.7v1.7h-1.7zM112.4 201.9h1.7v1.7h-1.7zM112.5 198.9h1.7v1.7h-1.7zM112.6 194.0h1.7v1.7h-1.7zM113.4 231.2h1.7v1.7h-1.7zM113.3 229.5h1.7v1.7h-1.7zM113.5 228.5h1.7v1.7h-1.7zM113.3 226.9h1.7v1.7h-1.7zM113.5 226.9h1.7v1.7h-1.7zM113.4 226.1h1.7v1.7h-1.7zM113.5 224.8h1.7v1.7h-1.7zM113.5 225.4h1.7v1.7h-1.7zM113.4 223.8h1.7v1.7h-1.7zM113.6 222.9h1.7v1.7h-1.7zM113.4 220.0h1.7v1.7h-1.7zM113.5 216.4h1.7v1.7h-1.7zM113.6 212.5h1.7v1.7h-1.7zM113.6 208.7h1.7v1.7h-1.7zM114.5 209.0h1.7v1.7h-1.7zM114.6 206.7h1.7v1.7h-1.7zM114.6 207.6h1.7v1.7h-1.7zM114.6 207.2h1.7v1.7h-1.7zM114.4 205.7h1.7v1.7h-1.7zM114.3 206.2h1.7v1.7h-1.7zM114.5 204.8h1.7v1.7h-1.7zM114.4 203.6h1.7v1.7h-1.7zM114.6 202.0h1.7v1.7h-1.7zM114.3 200.9h1.7v1.7h-1.7zM114.6 199.7h1.7v1.7h-1.7zM114.5 195.7h1.7v1.7h-1.7zM114.5 192.5h1.7v1.7h-1.7zM115.4 219.7h1.7v1.7h-1.7zM115.5 220.5h1.7v1.7h-1.7zM115.5 218.8h1.7v1.7h-1.7zM115.4 216.0h1.7v1.7h-1.7zM115.3 216.1h1.7v1.7h-1.7zM115.5 216.3h1.7v1.7h-1.7zM115.3 215.5h1.7v1.7h-1.7zM115.5 210.7h1.7v1.7h-1.7zM115.5 210.8h1.7v1.7h-1.7zM115.4 206.8h1.7v1.7h-1.7zM115.4 204.9h1.7v1.7h-1.7zM115.5 205.5h1.7v1.7h-1.7zM115.5 204.7h1.7v1.7h-1.7zM116.3 235.0h1.7v1.7h-1.7zM116.5 234.9h1.7v1.7h-1.7zM116.6 234.3h1.7v1.7h-1.7zM116.3 230.0h1.7v1.7h-1.7zM116.3 229.2h1.7v1.7h-1.7zM116.4 227.7h1.7v1.7h-1.7zM116.4 225.5h1.7v1.7h-1.7zM116.4 220.5h1.7v1.7h-1.7zM116.3 218.1h1.7v1.7h-1.7zM117.3 223.1h1.7v1.7h-1.7zM117.4 222.1h1.7v1.7h-1.7zM117.4 222.3h1.7v1.7h-1.7zM117.5 220.8h1.7v1.7h-1.7zM117.3 220.2h1.7v1.7h-1.7zM117.3 219.1h1.7v1.7h-1.7zM117.5 214.1h1.7v1.7h-1.7zM117.4 213.6h1.7v1.7h-1.7zM117.5 213.5h1.7v1.7h-1.7zM117.5 205.6h1.7v1.7h-1.7zM117.4 205.4h1.7v1.7h-1.7zM117.6 190.3h1.7v1.7h-1.7zM117.4 188.4h1.7v1.7h-1.7zM118.4 223.1h1.7v1.7h-1.7zM118.5 222.4h1.7v1.7h-1.7zM118.5 222.6h1.7v1.7h-1.7zM118.5 220.7h1.7v1.7h-1.7zM118.4 221.3h1.7v1.7h-1.7zM118.5 221.5h1.7v1.7h-1.7zM118.4 220.4h1.7v1.7h-1.7zM118.4 217.7h1.7v1.7h-1.7zM118.4 216.0h1.7v1.7h-1.7zM118.6 215.8h1.7v1.7h-1.7zM118.4 215.5h1.7v1.7h-1.7zM118.6 213.4h1.7v1.7h-1.7zM118.6 212.4h1.7v1.7h-1.7zM118.4 208.1h1.7v1.7h-1.7zM118.3 207.7h1.7v1.7h-1.7zM118.6 206.9h1.7v1.7h-1.7zM118.4 206.0h1.7v1.7h-1.7zM118.5 206.6h1.7v1.7h-1.7zM118.4 190.0h1.7v1.7h-1.7zM119.4 224.2h1.7v1.7h-1.7zM119.4 224.1h1.7v1.7h-1.7zM119.5 223.6h1.7v1.7h-1.7zM119.4 222.6h1.7v1.7h-1.7zM119.6 221.7h1.7v1.7h-1.7zM119.6 220.9h1.7v1.7h-1.7zM119.3 220.2h1.7v1.7h-1.7zM119.4 220.6h1.7v1.7h-1.7zM119.5 217.6h1.7v1.7h-1.7zM119.4 216.9h1.7v1.7h-1.7zM119.5 216.2h1.7v1.7h-1.7zM119.3 216.0h1.7v1.7h-1.7zM119.5 215.3h1.7v1.7h-1.7zM119.5 214.4h1.7v1.7h-1.7zM119.4 211.8h1.7v1.7h-1.7zM119.5 211.7h1.7v1.7h-1.7zM119.5 210.4h1.7v1.7h-1.7zM119.5 207.0h1.7v1.7h-1.7zM119.5 206.3h1.7v1.7h-1.7zM120.6 221.3h1.7v1.7h-1.7zM120.4 219.8h1.7v1.7h-1.7zM120.6 215.7h1.7v1.7h-1.7zM120.4 212.0h1.7v1.7h-1.7zM120.5 211.2h1.7v1.7h-1.7zM120.5 208.7h1.7v1.7h-1.7zM150.7 218.7h1.7v1.7h-1.7zM150.5 219.0h1.7v1.7h-1.7zM150.4 218.4h1.7v1.7h-1.7zM150.4 218.1h1.7v1.7h-1.7zM150.6 217.7h1.7v1.7h-1.7zM150.6 218.6h1.7v1.7h-1.7zM150.6 218.6h1.7v1.7h-1.7zM150.6 218.0h1.7v1.7h-1.7zM150.7 217.6h1.7v1.7h-1.7zM150.5 216.7h1.7v1.7h-1.7zM150.7 216.0h1.7v1.7h-1.7zM150.6 216.4h1.7v1.7h-1.7zM150.6 216.3h1.7v1.7h-1.7zM150.5 214.8h1.7v1.7h-1.7zM150.4 215.4h1.7v1.7h-1.7zM150.5 214.3h1.7v1.7h-1.7zM150.5 211.9h1.7v1.7h-1.7zM150.7 210.6h1.7v1.7h-1.7zM150.7 210.2h1.7v1.7h-1.7zM150.6 210.3h1.7v1.7h-1.7zM150.5 205.8h1.7v1.7h-1.7zM150.5 201.9h1.7v1.7h-1.7zM150.7 202.6h1.7v1.7h-1.7zM151.5 206.5h1.7v1.7h-1.7zM151.5 206.0h1.7v1.7h-1.7zM151.5 206.0h1.7v1.7h-1.7zM151.5 205.7h1.7v1.7h-1.7zM151.6 206.3h1.7v1.7h-1.7zM151.5 205.6h1.7v1.7h-1.7zM151.5 202.0h1.7v1.7h-1.7zM151.5 201.5h1.7v1.7h-1.7zM151.4 201.6h1.7v1.7h-1.7zM151.5 199.9h1.7v1.7h-1.7zM151.5 200.4h1.7v1.7h-1.7zM151.4 197.7h1.7v1.7h-1.7zM151.7 196.8h1.7v1.7h-1.7zM151.6 195.5h1.7v1.7h-1.7zM151.6 192.6h1.7v1.7h-1.7zM151.7 189.3h1.7v1.7h-1.7zM152.5 223.5h1.7v1.7h-1.7zM152.7 221.4h1.7v1.7h-1.7zM152.4 219.0h1.7v1.7h-1.7zM152.6 217.0h1.7v1.7h-1.7zM152.5 217.4h1.7v1.7h-1.7zM152.6 210.7h1.7v1.7h-1.7zM152.6 211.6h1.7v1.7h-1.7zM152.4 208.9h1.7v1.7h-1.7zM153.6 214.6h1.7v1.7h-1.7zM153.6 213.1h1.7v1.7h-1.7zM153.6 213.4h1.7v1.7h-1.7zM153.4 212.1h1.7v1.7h-1.7zM153.7 211.9h1.7v1.7h-1.7zM153.6 212.5h1.7v1.7h-1.7zM153.5 211.6h1.7v1.7h-1.7zM153.7 210.7h1.7v1.7h-1.7zM153.5 211.2h1.7v1.7h-1.7zM153.6 204.4h1.7v1.7h-1.7zM153.6 202.7h1.7v1.7h-1.7zM153.5 201.2h1.7v1.7h-1.7zM153.7 201.4h1.7v1.7h-1.7zM153.5 200.8h1.7v1.7h-1.7zM153.6 197.9h1.7v1.7h-1.7zM153.5 187.6h1.7v1.7h-1.7zM154.6 220.0h1.7v1.7h-1.7zM154.6 219.4h1.7v1.7h-1.7zM154.5 217.9h1.7v1.7h-1.7zM154.5 217.0h1.7v1.7h-1.7zM154.6 216.7h1.7v1.7h-1.7zM154.6 217.1h1.7v1.7h-1.7zM154.6 217.4h1.7v1.7h-1.7zM154.5 214.7h1.7v1.7h-1.7zM154.6 213.8h1.7v1.7h-1.7zM154.4 213.2h1.7v1.7h-1.7zM154.4 210.1h1.7v1.7h-1.7zM154.7 207.7h1.7v1.7h-1.7zM154.4 198.0h1.7v1.7h-1.7zM155.5 235.3h1.7v1.7h-1.7zM155.4 235.4h1.7v1.7h-1.7zM155.6 234.6h1.7v1.7h-1.7zM155.7 233.7h1.7v1.7h-1.7zM155.5 232.3h1.7v1.7h-1.7zM155.4 229.0h1.7v1.7h-1.7zM155.7 228.8h1.7v1.7h-1.7zM155.7 228.1h1.7v1.7h-1.7zM155.5 226.9h1.7v1.7h-1.7zM155.6 227.2h1.7v1.7h-1.7zM155.5 222.8h1.7v1.7h-1.7zM155.4 219.9h1.7v1.7h-1.7zM155.6 216.7h1.7v1.7h-1.7zM155.6 216.0h1.7v1.7h-1.7zM156.4 214.7h1.7v1.7h-1.7zM156.5 214.6h1.7v1.7h-1.7zM156.5 213.8h1.7v1.7h-1.7zM156.6 213.3h1.7v1.7h-1.7zM156.5 212.8h1.7v1.7h-1.7zM156.6 213.3h1.7v1.7h-1.7zM156.5 212.6h1.7v1.7h-1.7zM156.7 211.2h1.7v1.7h-1.7zM156.5 209.0h1.7v1.7h-1.7zM156.5 209.2h1.7v1.7h-1.7zM156.7 209.2h1.7v1.7h-1.7zM156.4 207.8h1.7v1.7h-1.7zM156.5 206.6h1.7v1.7h-1.7zM156.4 205.5h1.7v1.7h-1.7zM156.5 203.4h1.7v1.7h-1.7zM156.6 202.2h1.7v1.7h-1.7zM156.6 198.7h1.7v1.7h-1.7zM156.5 198.1h1.7v1.7h-1.7zM156.6 193.1h1.7v1.7h-1.7zM156.6 187.3h1.7v1.7h-1.7zM157.6 209.5h1.7v1.7h-1.7zM157.4 209.4h1.7v1.7h-1.7zM157.5 208.4h1.7v1.7h-1.7zM157.5 208.2h1.7v1.7h-1.7zM157.6 206.7h1.7v1.7h-1.7zM157.5 205.3h1.7v1.7h-1.7zM157.6 204.6h1.7v1.7h-1.7zM157.4 202.1h1.7v1.7h-1.7zM157.4 201.0h1.7v1.7h-1.7zM157.6 200.7h1.7v1.7h-1.7zM157.6 197.9h1.7v1.7h-1.7zM157.6 190.8h1.7v1.7h-1.7zM157.4 189.8h1.7v1.7h-1.7zM157.6 188.8h1.7v1.7h-1.7zM158.6 219.3h1.7v1.7h-1.7zM158.5 219.1h1.7v1.7h-1.7zM158.4 218.4h1.7v1.7h-1.7zM158.6 218.6h1.7v1.7h-1.7zM158.5 218.3h1.7v1.7h-1.7zM158.6 218.0h1.7v1.7h-1.7zM158.6 218.5h1.7v1.7h-1.7zM158.6 218.3h1.7v1.7h-1.7zM158.7 215.7h1.7v1.7h-1.7zM158.5 216.5h1.7v1.7h-1.7zM158.4 215.3h1.7v1.7h-1.7zM158.5 213.1h1.7v1.7h-1.7zM158.7 212.2h1.7v1.7h-1.7zM158.4 210.7h1.7v1.7h-1.7zM158.4 207.8h1.7v1.7h-1.7zM158.6 196.9h1.7v1.7h-1.7zM158.4 184.7h1.7v1.7h-1.7zM159.5 222.2h1.7v1.7h-1.7zM159.6 221.2h1.7v1.7h-1.7zM159.6 219.4h1.7v1.7h-1.7zM159.5 216.9h1.7v1.7h-1.7zM159.5 211.3h1.7v1.7h-1.7zM159.5 205.5h1.7v1.7h-1.7zM159.6 203.3h1.7v1.7h-1.7zM160.6 226.0h1.7v1.7h-1.7zM160.6 225.0h1.7v1.7h-1.7zM160.5 222.2h1.7v1.7h-1.7zM160.6 222.1h1.7v1.7h-1.7zM160.6 221.4h1.7v1.7h-1.7zM160.4 221.2h1.7v1.7h-1.7zM160.7 218.4h1.7v1.7h-1.7zM160.5 218.0h1.7v1.7h-1.7zM160.6 216.3h1.7v1.7h-1.7zM160.6 213.5h1.7v1.7h-1.7zM160.5 209.3h1.7v1.7h-1.7zM160.7 208.4h1.7v1.7h-1.7zM160.6 206.7h1.7v1.7h-1.7zM160.5 203.2h1.7v1.7h-1.7zM160.4 202.2h1.7v1.7h-1.7zM160.7 187.8h1.7v1.7h-1.7zM161.6 222.3h1.7v1.7h-1.7zM161.7 220.7h1.7v1.7h-1.7zM161.7 221.1h1.7v1.7h-1.7zM161.4 221.5h1.7v1.7h-1.7zM161.5 220.0h1.7v1.7h-1.7zM161.7 218.8h1.7v1.7h-1.7zM161.5 215.8h1.7v1.7h-1.7zM161.6 212.0h1.7v1.7h-1.7zM161.5 207.7h1.7v1.7h-1.7zM161.5 206.7h1.7v1.7h-1.7zM161.6 202.6h1.7v1.7h-1.7zM161.6 198.4h1.7v1.7h-1.7zM161.6 196.1h1.7v1.7h-1.7zM162.5 224.9h1.7v1.7h-1.7zM162.5 225.3h1.7v1.7h-1.7zM162.4 224.8h1.7v1.7h-1.7zM162.5 223.8h1.7v1.7h-1.7zM162.5 222.3h1.7v1.7h-1.7zM162.5 220.0h1.7v1.7h-1.7zM162.6 216.0h1.7v1.7h-1.7zM162.5 209.5h1.7v1.7h-1.7zM163.5 224.3h1.7v1.7h-1.7zM163.5 223.7h1.7v1.7h-1.7zM163.5 224.3h1.7v1.7h-1.7zM163.6 222.4h1.7v1.7h-1.7zM163.7 222.1h1.7v1.7h-1.7zM163.4 220.9h1.7v1.7h-1.7zM163.4 220.8h1.7v1.7h-1.7zM163.5 221.6h1.7v1.7h-1.7zM163.7 221.3h1.7v1.7h-1.7zM163.7 220.9h1.7v1.7h-1.7zM163.6 218.8h1.7v1.7h-1.7zM163.7 218.9h1.7v1.7h-1.7zM163.5 217.6h1.7v1.7h-1.7zM163.4 214.0h1.7v1.7h-1.7zM163.5 213.4h1.7v1.7h-1.7zM163.6 212.8h1.7v1.7h-1.7zM163.4 213.4h1.7v1.7h-1.7zM163.4 211.0h1.7v1.7h-1.7zM163.5 210.9h1.7v1.7h-1.7zM163.4 205.5h1.7v1.7h-1.7zM163.7 203.4h1.7v1.7h-1.7zM164.6 220.1h1.7v1.7h-1.7zM164.5 218.9h1.7v1.7h-1.7zM164.7 219.6h1.7v1.7h-1.7zM164.5 219.6h1.7v1.7h-1.7zM164.5 218.3h1.7v1.7h-1.7zM164.5 217.9h1.7v1.7h-1.7zM164.5 215.1h1.7v1.7h-1.7zM164.5 214.6h1.7v1.7h-1.7zM164.6 213.8h1.7v1.7h-1.7zM164.5 213.0h1.7v1.7h-1.7zM164.6 213.0h1.7v1.7h-1.7zM164.4 212.5h1.7v1.7h-1.7zM164.5 211.4h1.7v1.7h-1.7zM164.6 210.2h1.7v1.7h-1.7zM164.6 208.2h1.7v1.7h-1.7zM164.7 207.8h1.7v1.7h-1.7zM164.6 199.3h1.7v1.7h-1.7zM164.6 195.8h1.7v1.7h-1.7zM164.7 191.7h1.7v1.7h-1.7zM165.4 216.9h1.7v1.7h-1.7zM165.6 217.5h1.7v1.7h-1.7zM165.6 217.6h1.7v1.7h-1.7zM165.5 217.5h1.7v1.7h-1.7zM165.5 217.2h1.7v1.7h-1.7zM165.5 214.8h1.7v1.7h-1.7zM165.7 214.8h1.7v1.7h-1.7zM165.6 213.9h1.7v1.7h-1.7zM165.4 213.2h1.7v1.7h-1.7zM165.7 210.9h1.7v1.7h-1.7zM165.6 209.6h1.7v1.7h-1.7zM165.4 207.5h1.7v1.7h-1.7zM165.7 206.7h1.7v1.7h-1.7zM165.7 206.4h1.7v1.7h-1.7zM165.6 203.8h1.7v1.7h-1.7zM165.6 203.1h1.7v1.7h-1.7zM165.4 198.6h1.7v1.7h-1.7zM165.7 193.7h1.7v1.7h-1.7zM166.4 222.5h1.7v1.7h-1.7zM166.6 221.5h1.7v1.7h-1.7zM166.4 221.6h1.7v1.7h-1.7zM166.4 221.4h1.7v1.7h-1.7zM166.7 220.1h1.7v1.7h-1.7zM166.5 220.0h1.7v1.7h-1.7zM166.4 219.7h1.7v1.7h-1.7zM166.6 218.4h1.7v1.7h-1.7zM166.6 218.0h1.7v1.7h-1.7zM166.4 214.5h1.7v1.7h-1.7zM166.5 213.9h1.7v1.7h-1.7zM166.5 211.9h1.7v1.7h-1.7zM166.5 211.1h1.7v1.7h-1.7zM166.4 210.9h1.7v1.7h-1.7zM166.7 210.2h1.7v1.7h-1.7zM166.5 209.7h1.7v1.7h-1.7zM166.6 209.3h1.7v1.7h-1.7zM166.7 208.3h1.7v1.7h-1.7zM166.6 208.5h1.7v1.7h-1.7zM166.6 207.3h1.7v1.7h-1.7zM166.7 193.7h1.7v1.7h-1.7zM167.6 234.8h1.7v1.7h-1.7zM167.7 234.8h1.7v1.7h-1.7zM167.5 234.3h1.7v1.7h-1.7zM167.5 234.6h1.7v1.7h-1.7zM167.6 231.7h1.7v1.7h-1.7zM167.5 231.7h1.7v1.7h-1.7zM167.5 230.8h1.7v1.7h-1.7zM167.6 230.4h1.7v1.7h-1.7zM167.5 227.2h1.7v1.7h-1.7zM167.6 226.0h1.7v1.7h-1.7zM167.5 226.4h1.7v1.7h-1.7zM167.5 226.5h1.7v1.7h-1.7zM167.6 224.1h1.7v1.7h-1.7zM167.7 222.8h1.7v1.7h-1.7zM167.5 219.2h1.7v1.7h-1.7zM167.5 215.9h1.7v1.7h-1.7zM167.6 209.1h1.7v1.7h-1.7zM167.5 196.5h1.7v1.7h-1.7zM168.6 229.0h1.7v1.7h-1.7zM168.6 229.1h1.7v1.7h-1.7zM168.7 229.5h1.7v1.7h-1.7zM168.6 228.9h1.7v1.7h-1.7zM168.7 226.1h1.7v1.7h-1.7zM168.6 224.4h1.7v1.7h-1.7zM168.7 223.7h1.7v1.7h-1.7zM168.6 224.4h1.7v1.7h-1.7zM168.7 217.8h1.7v1.7h-1.7zM168.5 215.9h1.7v1.7h-1.7zM168.6 215.7h1.7v1.7h-1.7zM168.5 216.5h1.7v1.7h-1.7zM168.5 206.5h1.7v1.7h-1.7zM168.4 200.8h1.7v1.7h-1.7zM168.6 200.2h1.7v1.7h-1.7zM168.5 197.4h1.7v1.7h-1.7zM168.5 192.4h1.7v1.7h-1.7zM168.6 186.4h1.7v1.7h-1.7zM169.4 231.4h1.7v1.7h-1.7zM169.5 228.4h1.7v1.7h-1.7zM169.4 226.7h1.7v1.7h-1.7zM169.4 227.0h1.7v1.7h-1.7zM169.6 226.0h1.7v1.7h-1.7zM169.4 225.5h1.7v1.7h-1.7zM169.5 225.6h1.7v1.7h-1.7zM169.5 223.9h1.7v1.7h-1.7zM169.6 224.0h1.7v1.7h-1.7zM169.6 222.3h1.7v1.7h-1.7zM169.6 221.0h1.7v1.7h-1.7zM169.5 210.7h1.7v1.7h-1.7zM169.5 209.1h1.7v1.7h-1.7zM169.6 209.4h1.7v1.7h-1.7zM169.4 195.5h1.7v1.7h-1.7zM170.4 215.7h1.7v1.7h-1.7zM170.5 216.1h1.7v1.7h-1.7zM170.5 216.6h1.7v1.7h-1.7zM170.6 215.8h1.7v1.7h-1.7zM170.6 214.0h1.7v1.7h-1.7zM170.6 213.7h1.7v1.7h-1.7zM170.7 211.7h1.7v1.7h-1.7zM170.5 209.8h1.7v1.7h-1.7zM170.7 208.5h1.7v1.7h-1.7zM170.5 207.4h1.7v1.7h-1.7zM170.6 206.6h1.7v1.7h-1.7zM170.5 205.3h1.7v1.7h-1.7zM170.5 205.6h1.7v1.7h-1.7zM170.4 203.8h1.7v1.7h-1.7zM170.5 202.8h1.7v1.7h-1.7zM170.5 202.7h1.7v1.7h-1.7zM170.6 203.1h1.7v1.7h-1.7zM170.6 201.9h1.7v1.7h-1.7zM170.5 201.5h1.7v1.7h-1.7zM170.6 199.8h1.7v1.7h-1.7zM170.5 197.9h1.7v1.7h-1.7zM170.5 198.6h1.7v1.7h-1.7zM170.5 194.9h1.7v1.7h-1.7zM170.6 194.7h1.7v1.7h-1.7zM170.6 190.9h1.7v1.7h-1.7zM170.6 184.4h1.7v1.7h-1.7zM171.4 231.1h1.7v1.7h-1.7zM171.5 230.1h1.7v1.7h-1.7zM171.6 230.1h1.7v1.7h-1.7zM171.6 229.0h1.7v1.7h-1.7zM171.4 228.0h1.7v1.7h-1.7zM171.7 228.6h1.7v1.7h-1.7zM171.5 228.5h1.7v1.7h-1.7zM171.5 227.6h1.7v1.7h-1.7zM171.6 226.7h1.7v1.7h-1.7zM171.5 226.3h1.7v1.7h-1.7zM171.5 224.0h1.7v1.7h-1.7zM171.4 223.6h1.7v1.7h-1.7zM171.6 219.5h1.7v1.7h-1.7zM171.5 214.2h1.7v1.7h-1.7zM171.5 213.2h1.7v1.7h-1.7zM171.5 213.6h1.7v1.7h-1.7zM171.5 210.8h1.7v1.7h-1.7zM171.6 208.1h1.7v1.7h-1.7zM171.7 186.8h1.7v1.7h-1.7zM172.6 234.4h1.7v1.7h-1.7zM172.5 232.0h1.7v1.7h-1.7zM172.5 230.4h1.7v1.7h-1.7zM172.4 229.8h1.7v1.7h-1.7zM172.5 227.8h1.7v1.7h-1.7zM172.6 225.3h1.7v1.7h-1.7zM172.5 223.8h1.7v1.7h-1.7zM172.7 223.0h1.7v1.7h-1.7zM172.5 210.6h1.7v1.7h-1.7zM173.6 230.7h1.7v1.7h-1.7zM173.7 231.5h1.7v1.7h-1.7zM173.7 229.8h1.7v1.7h-1.7zM173.4 228.5h1.7v1.7h-1.7zM173.4 227.8h1.7v1.7h-1.7zM173.6 225.9h1.7v1.7h-1.7zM173.6 226.1h1.7v1.7h-1.7zM173.6 224.0h1.7v1.7h-1.7zM173.5 223.8h1.7v1.7h-1.7zM173.6 222.7h1.7v1.7h-1.7zM173.5 223.4h1.7v1.7h-1.7zM173.7 222.0h1.7v1.7h-1.7zM173.5 221.7h1.7v1.7h-1.7zM173.5 218.6h1.7v1.7h-1.7zM173.5 204.7h1.7v1.7h-1.7zM173.7 195.3h1.7v1.7h-1.7zM174.6 225.0h1.7v1.7h-1.7zM174.7 224.7h1.7v1.7h-1.7zM174.6 225.5h1.7v1.7h-1.7zM174.6 224.6h1.7v1.7h-1.7zM174.6 224.2h1.7v1.7h-1.7zM174.7 224.4h1.7v1.7h-1.7zM174.7 222.1h1.7v1.7h-1.7zM174.5 222.6h1.7v1.7h-1.7zM174.7 221.3h1.7v1.7h-1.7zM174.5 221.2h1.7v1.7h-1.7zM174.6 217.8h1.7v1.7h-1.7zM174.7 217.6h1.7v1.7h-1.7zM174.4 216.8h1.7v1.7h-1.7zM174.6 214.9h1.7v1.7h-1.7zM174.7 214.1h1.7v1.7h-1.7zM174.5 213.5h1.7v1.7h-1.7zM174.5 205.4h1.7v1.7h-1.7zM174.5 204.5h1.7v1.7h-1.7zM174.4 202.5h1.7v1.7h-1.7zM174.5 186.2h1.7v1.7h-1.7zM175.6 228.5h1.7v1.7h-1.7zM175.6 228.5h1.7v1.7h-1.7zM175.7 227.7h1.7v1.7h-1.7zM175.6 226.8h1.7v1.7h-1.7zM175.5 227.4h1.7v1.7h-1.7zM175.5 226.4h1.7v1.7h-1.7zM175.4 224.8h1.7v1.7h-1.7zM175.7 223.4h1.7v1.7h-1.7zM175.7 223.5h1.7v1.7h-1.7zM175.5 223.6h1.7v1.7h-1.7zM175.7 223.1h1.7v1.7h-1.7zM175.6 223.5h1.7v1.7h-1.7zM175.4 222.3h1.7v1.7h-1.7zM175.6 221.2h1.7v1.7h-1.7zM175.7 219.7h1.7v1.7h-1.7zM175.6 206.1h1.7v1.7h-1.7zM176.6 230.5h1.7v1.7h-1.7zM176.6 230.4h1.7v1.7h-1.7zM176.6 230.6h1.7v1.7h-1.7zM176.4 229.1h1.7v1.7h-1.7zM176.5 228.9h1.7v1.7h-1.7zM176.5 228.7h1.7v1.7h-1.7zM176.6 228.4h1.7v1.7h-1.7zM176.6 227.7h1.7v1.7h-1.7zM176.6 227.6h1.7v1.7h-1.7zM176.4 227.1h1.7v1.7h-1.7zM176.5 225.8h1.7v1.7h-1.7zM176.5 223.0h1.7v1.7h-1.7zM176.5 222.9h1.7v1.7h-1.7zM176.6 222.3h1.7v1.7h-1.7zM176.7 221.9h1.7v1.7h-1.7zM176.5 222.0h1.7v1.7h-1.7zM176.5 220.2h1.7v1.7h-1.7zM176.6 197.1h1.7v1.7h-1.7zM176.6 189.2h1.7v1.7h-1.7zM177.7 235.3h1.7v1.7h-1.7zM177.5 231.9h1.7v1.7h-1.7zM177.5 231.0h1.7v1.7h-1.7zM177.6 230.0h1.7v1.7h-1.7zM177.5 229.2h1.7v1.7h-1.7zM177.6 225.9h1.7v1.7h-1.7zM177.4 226.6h1.7v1.7h-1.7zM177.6 224.8h1.7v1.7h-1.7zM177.6 219.1h1.7v1.7h-1.7zM177.7 204.9h1.7v1.7h-1.7zM205.2 206.5h1.7v1.7h-1.7zM205.0 205.9h1.7v1.7h-1.7zM205.0 206.2h1.7v1.7h-1.7zM205.1 204.0h1.7v1.7h-1.7zM205.1 202.9h1.7v1.7h-1.7zM205.1 202.6h1.7v1.7h-1.7zM205.2 202.5h1.7v1.7h-1.7zM205.1 201.3h1.7v1.7h-1.7zM205.0 197.3h1.7v1.7h-1.7zM205.0 196.1h1.7v1.7h-1.7zM205.1 194.7h1.7v1.7h-1.7zM205.2 191.0h1.7v1.7h-1.7zM205.2 187.5h1.7v1.7h-1.7zM205.2 184.9h1.7v1.7h-1.7zM206.1 203.9h1.7v1.7h-1.7zM206.2 203.8h1.7v1.7h-1.7zM206.0 203.3h1.7v1.7h-1.7zM206.3 202.7h1.7v1.7h-1.7zM206.3 203.3h1.7v1.7h-1.7zM206.0 202.7h1.7v1.7h-1.7zM206.0 203.1h1.7v1.7h-1.7zM206.1 202.6h1.7v1.7h-1.7zM206.1 202.2h1.7v1.7h-1.7zM206.3 199.8h1.7v1.7h-1.7zM206.2 198.3h1.7v1.7h-1.7zM206.3 196.1h1.7v1.7h-1.7zM206.0 196.2h1.7v1.7h-1.7zM206.2 192.1h1.7v1.7h-1.7zM206.1 185.5h1.7v1.7h-1.7zM207.3 195.2h1.7v1.7h-1.7zM207.0 195.5h1.7v1.7h-1.7zM207.3 192.9h1.7v1.7h-1.7zM207.2 193.6h1.7v1.7h-1.7zM207.2 192.2h1.7v1.7h-1.7zM207.2 190.7h1.7v1.7h-1.7zM207.1 191.6h1.7v1.7h-1.7zM207.2 187.4h1.7v1.7h-1.7zM207.0 186.0h1.7v1.7h-1.7zM207.0 186.3h1.7v1.7h-1.7zM207.2 185.0h1.7v1.7h-1.7zM207.0 184.1h1.7v1.7h-1.7zM207.2 184.6h1.7v1.7h-1.7zM208.0 203.5h1.7v1.7h-1.7zM208.2 202.1h1.7v1.7h-1.7zM208.1 202.2h1.7v1.7h-1.7zM208.1 200.6h1.7v1.7h-1.7zM208.2 200.4h1.7v1.7h-1.7zM208.1 198.0h1.7v1.7h-1.7zM208.0 197.0h1.7v1.7h-1.7zM208.3 197.2h1.7v1.7h-1.7zM208.2 195.8h1.7v1.7h-1.7zM208.2 195.2h1.7v1.7h-1.7zM208.2 193.1h1.7v1.7h-1.7zM208.1 192.5h1.7v1.7h-1.7zM208.1 191.7h1.7v1.7h-1.7zM208.2 191.1h1.7v1.7h-1.7zM208.2 189.5h1.7v1.7h-1.7zM208.0 187.7h1.7v1.7h-1.7zM208.1 186.6h1.7v1.7h-1.7zM209.1 212.5h1.7v1.7h-1.7zM209.1 212.1h1.7v1.7h-1.7zM209.1 211.0h1.7v1.7h-1.7zM209.2 211.0h1.7v1.7h-1.7zM209.0 211.2h1.7v1.7h-1.7zM209.2 209.8h1.7v1.7h-1.7zM209.2 210.4h1.7v1.7h-1.7zM209.1 209.2h1.7v1.7h-1.7zM209.1 208.5h1.7v1.7h-1.7zM209.0 207.5h1.7v1.7h-1.7zM209.0 206.6h1.7v1.7h-1.7zM209.2 206.1h1.7v1.7h-1.7zM209.2 205.9h1.7v1.7h-1.7zM209.2 205.2h1.7v1.7h-1.7zM209.1 205.6h1.7v1.7h-1.7zM209.3 204.2h1.7v1.7h-1.7zM209.0 201.9h1.7v1.7h-1.7zM209.2 200.2h1.7v1.7h-1.7zM209.1 200.2h1.7v1.7h-1.7zM209.0 195.9h1.7v1.7h-1.7zM210.3 204.5h1.7v1.7h-1.7zM210.3 203.5h1.7v1.7h-1.7zM210.1 201.4h1.7v1.7h-1.7zM210.2 200.9h1.7v1.7h-1.7zM210.1 201.3h1.7v1.7h-1.7zM210.2 200.8h1.7v1.7h-1.7zM210.2 196.7h1.7v1.7h-1.7zM210.0 189.1h1.7v1.7h-1.7zM211.1 199.3h1.7v1.7h-1.7zM211.0 196.7h1.7v1.7h-1.7zM211.2 196.4h1.7v1.7h-1.7zM211.2 196.1h1.7v1.7h-1.7zM211.2 195.0h1.7v1.7h-1.7zM211.1 194.5h1.7v1.7h-1.7zM211.1 194.6h1.7v1.7h-1.7zM211.2 193.9h1.7v1.7h-1.7zM211.3 193.8h1.7v1.7h-1.7zM211.2 194.1h1.7v1.7h-1.7zM211.1 192.1h1.7v1.7h-1.7zM211.2 192.6h1.7v1.7h-1.7zM211.0 188.2h1.7v1.7h-1.7zM211.2 188.2h1.7v1.7h-1.7zM211.1 188.6h1.7v1.7h-1.7zM211.3 186.5h1.7v1.7h-1.7zM212.1 208.4h1.7v1.7h-1.7zM212.1 206.2h1.7v1.7h-1.7zM212.3 205.6h1.7v1.7h-1.7zM212.2 199.8h1.7v1.7h-1.7zM212.3 199.4h1.7v1.7h-1.7zM212.1 196.7h1.7v1.7h-1.7zM212.1 191.8h1.7v1.7h-1.7zM212.1 188.3h1.7v1.7h-1.7zM212.3 187.2h1.7v1.7h-1.7zM213.2 233.9h1.7v1.7h-1.7zM213.0 227.8h1.7v1.7h-1.7zM213.2 221.5h1.7v1.7h-1.7zM213.2 220.8h1.7v1.7h-1.7zM213.1 216.1h1.7v1.7h-1.7zM214.2 226.6h1.7v1.7h-1.7zM214.0 226.6h1.7v1.7h-1.7zM214.1 225.2h1.7v1.7h-1.7zM214.1 225.6h1.7v1.7h-1.7zM214.1 225.3h1.7v1.7h-1.7zM214.1 223.7h1.7v1.7h-1.7zM214.1 223.3h1.7v1.7h-1.7zM214.2 223.4h1.7v1.7h-1.7zM214.1 222.1h1.7v1.7h-1.7zM214.3 222.3h1.7v1.7h-1.7zM214.1 221.3h1.7v1.7h-1.7zM214.1 218.2h1.7v1.7h-1.7zM214.2 216.0h1.7v1.7h-1.7zM214.2 212.6h1.7v1.7h-1.7zM214.1 209.9h1.7v1.7h-1.7zM214.3 209.0h1.7v1.7h-1.7zM214.1 206.0h1.7v1.7h-1.7zM215.1 227.2h1.7v1.7h-1.7zM215.3 227.6h1.7v1.7h-1.7zM215.2 225.6h1.7v1.7h-1.7zM215.2 225.5h1.7v1.7h-1.7zM215.2 222.1h1.7v1.7h-1.7zM215.1 214.2h1.7v1.7h-1.7zM215.0 214.6h1.7v1.7h-1.7zM215.1 202.6h1.7v1.7h-1.7zM216.2 227.2h1.7v1.7h-1.7zM216.3 226.8h1.7v1.7h-1.7zM216.1 226.1h1.7v1.7h-1.7zM216.2 226.3h1.7v1.7h-1.7zM216.2 225.1h1.7v1.7h-1.7zM216.1 225.4h1.7v1.7h-1.7zM216.3 224.8h1.7v1.7h-1.7zM216.2 225.4h1.7v1.7h-1.7zM216.2 224.6h1.7v1.7h-1.7zM216.1 224.0h1.7v1.7h-1.7zM216.1 223.7h1.7v1.7h-1.7zM216.2 223.1h1.7v1.7h-1.7zM216.1 222.0h1.7v1.7h-1.7zM216.2 221.5h1.7v1.7h-1.7zM216.3 221.3h1.7v1.7h-1.7zM216.2 218.7h1.7v1.7h-1.7zM216.1 216.5h1.7v1.7h-1.7zM216.2 215.9h1.7v1.7h-1.7zM216.3 213.0h1.7v1.7h-1.7zM216.1 213.3h1.7v1.7h-1.7zM216.2 211.7h1.7v1.7h-1.7zM216.0 210.7h1.7v1.7h-1.7zM216.1 208.0h1.7v1.7h-1.7zM216.1 208.4h1.7v1.7h-1.7zM216.3 194.1h1.7v1.7h-1.7zM217.3 228.1h1.7v1.7h-1.7zM217.2 228.2h1.7v1.7h-1.7zM217.0 227.9h1.7v1.7h-1.7zM217.1 227.9h1.7v1.7h-1.7zM217.1 227.1h1.7v1.7h-1.7zM217.2 226.9h1.7v1.7h-1.7zM217.0 226.0h1.7v1.7h-1.7zM217.3 224.2h1.7v1.7h-1.7zM217.0 224.2h1.7v1.7h-1.7zM217.1 222.9h1.7v1.7h-1.7zM217.1 222.1h1.7v1.7h-1.7zM217.1 220.7h1.7v1.7h-1.7zM217.1 221.1h1.7v1.7h-1.7zM217.2 221.4h1.7v1.7h-1.7zM217.1 220.3h1.7v1.7h-1.7zM217.1 220.4h1.7v1.7h-1.7zM217.1 218.8h1.7v1.7h-1.7zM217.0 218.7h1.7v1.7h-1.7zM217.3 216.8h1.7v1.7h-1.7zM217.3 217.5h1.7v1.7h-1.7zM217.1 214.3h1.7v1.7h-1.7zM217.1 212.2h1.7v1.7h-1.7zM217.1 206.1h1.7v1.7h-1.7zM217.2 201.4h1.7v1.7h-1.7zM217.0 199.6h1.7v1.7h-1.7zM218.3 220.4h1.7v1.7h-1.7zM218.3 218.7h1.7v1.7h-1.7zM218.1 217.8h1.7v1.7h-1.7zM218.0 218.1h1.7v1.7h-1.7zM218.1 217.2h1.7v1.7h-1.7zM218.2 215.9h1.7v1.7h-1.7zM218.1 214.9h1.7v1.7h-1.7zM218.1 214.8h1.7v1.7h-1.7zM218.1 212.6h1.7v1.7h-1.7zM218.0 209.7h1.7v1.7h-1.7zM218.2 208.2h1.7v1.7h-1.7zM218.2 204.9h1.7v1.7h-1.7zM218.3 204.3h1.7v1.7h-1.7zM218.1 204.0h1.7v1.7h-1.7zM218.0 204.6h1.7v1.7h-1.7zM218.1 202.5h1.7v1.7h-1.7zM218.2 195.2h1.7v1.7h-1.7zM218.0 184.6h1.7v1.7h-1.7zM219.2 231.5h1.7v1.7h-1.7zM219.1 230.3h1.7v1.7h-1.7zM219.2 230.6h1.7v1.7h-1.7zM219.2 229.1h1.7v1.7h-1.7zM219.3 228.7h1.7v1.7h-1.7zM219.3 228.4h1.7v1.7h-1.7zM219.2 227.6h1.7v1.7h-1.7zM219.2 225.9h1.7v1.7h-1.7zM219.1 222.7h1.7v1.7h-1.7zM219.1 223.6h1.7v1.7h-1.7zM219.3 221.7h1.7v1.7h-1.7zM219.2 220.1h1.7v1.7h-1.7zM219.1 217.4h1.7v1.7h-1.7zM219.2 213.2h1.7v1.7h-1.7zM219.1 206.8h1.7v1.7h-1.7zM220.3 232.8h1.7v1.7h-1.7zM220.3 232.9h1.7v1.7h-1.7zM220.3 233.5h1.7v1.7h-1.7zM220.3 232.1h1.7v1.7h-1.7zM220.1 232.0h1.7v1.7h-1.7zM220.0 232.0h1.7v1.7h-1.7zM220.3 230.0h1.7v1.7h-1.7zM220.0 229.8h1.7v1.7h-1.7zM220.1 228.7h1.7v1.7h-1.7zM220.1 229.0h1.7v1.7h-1.7zM220.0 227.2h1.7v1.7h-1.7zM220.0 221.7h1.7v1.7h-1.7zM220.0 221.5h1.7v1.7h-1.7zM221.2 225.4h1.7v1.7h-1.7zM221.2 225.1h1.7v1.7h-1.7zM221.3 224.4h1.7v1.7h-1.7zM221.1 223.5h1.7v1.7h-1.7zM221.1 221.9h1.7v1.7h-1.7zM221.2 222.2h1.7v1.7h-1.7zM221.3 218.7h1.7v1.7h-1.7zM221.2 218.4h1.7v1.7h-1.7zM221.0 218.6h1.7v1.7h-1.7zM221.2 217.9h1.7v1.7h-1.7zM221.2 217.0h1.7v1.7h-1.7zM221.2 212.3h1.7v1.7h-1.7zM221.1 209.1h1.7v1.7h-1.7zM221.0 205.7h1.7v1.7h-1.7zM221.1 193.8h1.7v1.7h-1.7zM221.2 187.8h1.7v1.7h-1.7zM222.1 225.0h1.7v1.7h-1.7zM222.0 224.8h1.7v1.7h-1.7zM222.1 223.9h1.7v1.7h-1.7zM222.1 224.0h1.7v1.7h-1.7zM222.3 223.8h1.7v1.7h-1.7zM222.3 223.6h1.7v1.7h-1.7zM222.3 223.5h1.7v1.7h-1.7zM222.0 221.0h1.7v1.7h-1.7zM222.1 221.0h1.7v1.7h-1.7zM222.1 220.2h1.7v1.7h-1.7zM222.1 219.5h1.7v1.7h-1.7zM222.1 218.7h1.7v1.7h-1.7zM223.3 217.1h1.7v1.7h-1.7zM223.0 217.0h1.7v1.7h-1.7zM223.0 216.2h1.7v1.7h-1.7zM223.2 216.5h1.7v1.7h-1.7zM223.2 214.8h1.7v1.7h-1.7zM223.1 214.9h1.7v1.7h-1.7zM223.3 213.8h1.7v1.7h-1.7zM223.2 214.5h1.7v1.7h-1.7zM223.2 211.7h1.7v1.7h-1.7zM223.1 212.1h1.7v1.7h-1.7zM223.2 211.9h1.7v1.7h-1.7zM223.1 211.5h1.7v1.7h-1.7zM223.0 210.7h1.7v1.7h-1.7zM223.2 209.1h1.7v1.7h-1.7zM223.3 204.5h1.7v1.7h-1.7zM223.3 204.5h1.7v1.7h-1.7zM223.2 201.8h1.7v1.7h-1.7zM223.0 200.7h1.7v1.7h-1.7zM223.2 200.3h1.7v1.7h-1.7zM223.3 197.4h1.7v1.7h-1.7zM223.2 193.9h1.7v1.7h-1.7zM223.0 187.1h1.7v1.7h-1.7zM223.2 186.7h1.7v1.7h-1.7zM224.2 221.7h1.7v1.7h-1.7zM224.3 220.7h1.7v1.7h-1.7zM224.1 220.0h1.7v1.7h-1.7zM224.2 219.2h1.7v1.7h-1.7zM224.0 218.3h1.7v1.7h-1.7zM224.2 217.8h1.7v1.7h-1.7zM224.1 215.8h1.7v1.7h-1.7zM224.1 216.1h1.7v1.7h-1.7zM224.1 213.8h1.7v1.7h-1.7zM224.1 213.6h1.7v1.7h-1.7zM224.1 212.5h1.7v1.7h-1.7zM224.0 212.5h1.7v1.7h-1.7zM224.0 211.5h1.7v1.7h-1.7zM224.0 209.9h1.7v1.7h-1.7zM224.0 208.0h1.7v1.7h-1.7zM224.2 200.8h1.7v1.7h-1.7zM225.1 227.4h1.7v1.7h-1.7zM225.2 226.7h1.7v1.7h-1.7zM225.2 226.8h1.7v1.7h-1.7zM225.2 226.6h1.7v1.7h-1.7zM225.3 225.2h1.7v1.7h-1.7zM225.0 223.0h1.7v1.7h-1.7zM225.2 221.0h1.7v1.7h-1.7zM225.1 220.1h1.7v1.7h-1.7zM225.0 218.8h1.7v1.7h-1.7zM225.1 217.8h1.7v1.7h-1.7zM225.0 200.2h1.7v1.7h-1.7zM226.1 232.8h1.7v1.7h-1.7zM226.1 232.3h1.7v1.7h-1.7zM226.2 230.8h1.7v1.7h-1.7zM226.3 230.1h1.7v1.7h-1.7zM226.1 229.1h1.7v1.7h-1.7zM226.3 228.4h1.7v1.7h-1.7zM226.1 224.3h1.7v1.7h-1.7zM226.0 222.6h1.7v1.7h-1.7zM226.0 222.5h1.7v1.7h-1.7zM226.3 221.4h1.7v1.7h-1.7zM226.1 219.6h1.7v1.7h-1.7zM226.2 209.5h1.7v1.7h-1.7zM226.1 201.9h1.7v1.7h-1.7zM227.1 225.1h1.7v1.7h-1.7zM227.2 224.8h1.7v1.7h-1.7zM227.1 224.8h1.7v1.7h-1.7zM227.1 223.9h1.7v1.7h-1.7zM227.2 224.3h1.7v1.7h-1.7zM227.1 222.1h1.7v1.7h-1.7zM227.2 220.3h1.7v1.7h-1.7zM227.1 219.5h1.7v1.7h-1.7zM227.2 216.4h1.7v1.7h-1.7zM227.3 213.7h1.7v1.7h-1.7zM227.2 212.9h1.7v1.7h-1.7zM227.1 211.5h1.7v1.7h-1.7zM227.0 207.4h1.7v1.7h-1.7zM227.3 205.8h1.7v1.7h-1.7zM227.1 202.3h1.7v1.7h-1.7zM228.3 235.5h1.7v1.7h-1.7zM228.1 233.7h1.7v1.7h-1.7zM228.3 230.7h1.7v1.7h-1.7zM228.1 228.7h1.7v1.7h-1.7zM228.1 229.2h1.7v1.7h-1.7zM228.1 226.1h1.7v1.7h-1.7zM229.1 223.8h1.7v1.7h-1.7zM229.0 223.9h1.7v1.7h-1.7zM229.1 222.7h1.7v1.7h-1.7zM229.1 223.1h1.7v1.7h-1.7zM229.1 222.6h1.7v1.7h-1.7zM229.1 222.5h1.7v1.7h-1.7zM229.2 221.5h1.7v1.7h-1.7zM229.0 220.3h1.7v1.7h-1.7zM229.1 219.9h1.7v1.7h-1.7zM229.3 220.0h1.7v1.7h-1.7zM229.2 220.6h1.7v1.7h-1.7zM229.2 219.4h1.7v1.7h-1.7zM229.0 219.6h1.7v1.7h-1.7zM229.1 216.7h1.7v1.7h-1.7zM229.2 214.8h1.7v1.7h-1.7zM229.2 215.3h1.7v1.7h-1.7zM229.2 214.2h1.7v1.7h-1.7zM229.0 213.6h1.7v1.7h-1.7zM229.1 213.0h1.7v1.7h-1.7zM229.1 211.6h1.7v1.7h-1.7zM229.1 210.8h1.7v1.7h-1.7zM229.2 208.8h1.7v1.7h-1.7zM229.2 207.1h1.7v1.7h-1.7zM229.2 202.9h1.7v1.7h-1.7zM254.0 204.1h1.7v1.7h-1.7zM254.0 200.7h1.7v1.7h-1.7zM253.9 201.4h1.7v1.7h-1.7zM253.9 200.4h1.7v1.7h-1.7zM253.9 198.1h1.7v1.7h-1.7zM254.1 198.3h1.7v1.7h-1.7zM254.1 198.6h1.7v1.7h-1.7zM253.9 197.3h1.7v1.7h-1.7zM253.9 195.9h1.7v1.7h-1.7zM253.9 194.4h1.7v1.7h-1.7zM254.0 193.7h1.7v1.7h-1.7zM254.0 190.2h1.7v1.7h-1.7zM254.0 189.0h1.7v1.7h-1.7zM254.8 211.6h1.7v1.7h-1.7zM254.9 210.3h1.7v1.7h-1.7zM254.9 210.6h1.7v1.7h-1.7zM255.0 209.9h1.7v1.7h-1.7zM255.0 210.2h1.7v1.7h-1.7zM254.9 208.8h1.7v1.7h-1.7zM254.8 209.2h1.7v1.7h-1.7zM255.0 208.6h1.7v1.7h-1.7zM255.0 207.0h1.7v1.7h-1.7zM254.9 207.4h1.7v1.7h-1.7zM254.9 205.5h1.7v1.7h-1.7zM254.9 204.5h1.7v1.7h-1.7zM254.8 201.8h1.7v1.7h-1.7zM255.0 201.7h1.7v1.7h-1.7zM255.0 199.8h1.7v1.7h-1.7zM255.0 194.7h1.7v1.7h-1.7zM254.9 191.3h1.7v1.7h-1.7zM256.1 235.4h1.7v1.7h-1.7zM256.0 235.4h1.7v1.7h-1.7zM256.0 235.1h1.7v1.7h-1.7zM256.0 234.8h1.7v1.7h-1.7zM255.9 235.2h1.7v1.7h-1.7zM256.0 232.8h1.7v1.7h-1.7zM255.9 231.4h1.7v1.7h-1.7zM256.0 231.1h1.7v1.7h-1.7zM255.9 229.0h1.7v1.7h-1.7zM256.1 228.8h1.7v1.7h-1.7zM256.0 229.5h1.7v1.7h-1.7zM255.9 226.7h1.7v1.7h-1.7zM256.0 225.4h1.7v1.7h-1.7zM255.9 215.1h1.7v1.7h-1.7zM256.8 218.0h1.7v1.7h-1.7zM256.9 216.7h1.7v1.7h-1.7zM257.0 217.2h1.7v1.7h-1.7zM256.9 215.8h1.7v1.7h-1.7zM257.1 214.3h1.7v1.7h-1.7zM256.8 213.8h1.7v1.7h-1.7zM257.1 214.6h1.7v1.7h-1.7zM256.9 208.9h1.7v1.7h-1.7zM257.0 198.1h1.7v1.7h-1.7zM257.0 197.5h1.7v1.7h-1.7zM258.0 211.0h1.7v1.7h-1.7zM258.1 211.2h1.7v1.7h-1.7zM258.0 211.3h1.7v1.7h-1.7zM257.9 211.0h1.7v1.7h-1.7zM258.0 210.1h1.7v1.7h-1.7zM257.9 210.1h1.7v1.7h-1.7zM257.9 209.3h1.7v1.7h-1.7zM258.0 209.2h1.7v1.7h-1.7zM258.0 209.5h1.7v1.7h-1.7zM257.9 208.7h1.7v1.7h-1.7zM258.0 207.9h1.7v1.7h-1.7zM257.9 208.1h1.7v1.7h-1.7zM257.9 207.0h1.7v1.7h-1.7zM258.1 206.5h1.7v1.7h-1.7zM257.9 204.4h1.7v1.7h-1.7zM257.8 203.0h1.7v1.7h-1.7zM258.0 202.9h1.7v1.7h-1.7zM258.0 203.3h1.7v1.7h-1.7zM257.9 199.4h1.7v1.7h-1.7zM259.0 218.4h1.7v1.7h-1.7zM258.8 218.0h1.7v1.7h-1.7zM259.0 217.1h1.7v1.7h-1.7zM258.9 216.0h1.7v1.7h-1.7zM258.9 216.4h1.7v1.7h-1.7zM258.9 216.2h1.7v1.7h-1.7zM258.9 214.3h1.7v1.7h-1.7zM258.9 213.5h1.7v1.7h-1.7zM258.9 211.3h1.7v1.7h-1.7zM259.0 210.4h1.7v1.7h-1.7zM258.9 210.1h1.7v1.7h-1.7zM258.8 210.0h1.7v1.7h-1.7zM258.9 209.2h1.7v1.7h-1.7zM259.0 208.2h1.7v1.7h-1.7zM259.0 208.2h1.7v1.7h-1.7zM259.0 205.9h1.7v1.7h-1.7zM259.1 205.4h1.7v1.7h-1.7zM259.9 224.8h1.7v1.7h-1.7zM259.9 224.3h1.7v1.7h-1.7zM260.0 223.3h1.7v1.7h-1.7zM260.0 223.0h1.7v1.7h-1.7zM260.0 223.0h1.7v1.7h-1.7zM260.0 218.2h1.7v1.7h-1.7zM259.9 217.9h1.7v1.7h-1.7zM260.0 214.0h1.7v1.7h-1.7zM260.0 213.7h1.7v1.7h-1.7zM260.0 213.9h1.7v1.7h-1.7zM259.9 212.3h1.7v1.7h-1.7zM259.9 210.4h1.7v1.7h-1.7zM260.0 207.7h1.7v1.7h-1.7zM259.9 200.5h1.7v1.7h-1.7zM260.1 193.7h1.7v1.7h-1.7zM260.1 191.0h1.7v1.7h-1.7zM260.0 184.5h1.7v1.7h-1.7zM260.9 225.5h1.7v1.7h-1.7zM261.0 223.9h1.7v1.7h-1.7zM261.0 220.1h1.7v1.7h-1.7zM261.1 218.8h1.7v1.7h-1.7zM261.0 218.3h1.7v1.7h-1.7zM260.9 216.1h1.7v1.7h-1.7zM260.9 215.3h1.7v1.7h-1.7zM260.9 207.6h1.7v1.7h-1.7zM261.9 225.0h1.7v1.7h-1.7zM261.8 225.5h1.7v1.7h-1.7zM262.0 225.3h1.7v1.7h-1.7zM261.9 223.8h1.7v1.7h-1.7zM262.0 223.3h1.7v1.7h-1.7zM261.9 221.6h1.7v1.7h-1.7zM262.0 220.4h1.7v1.7h-1.7zM261.8 219.9h1.7v1.7h-1.7zM261.9 219.1h1.7v1.7h-1.7zM261.9 219.5h1.7v1.7h-1.7zM262.0 218.4h1.7v1.7h-1.7zM262.1 215.9h1.7v1.7h-1.7zM262.0 214.7h1.7v1.7h-1.7zM261.9 213.6h1.7v1.7h-1.7zM261.9 210.0h1.7v1.7h-1.7zM261.9 208.5h1.7v1.7h-1.7zM262.0 207.5h1.7v1.7h-1.7zM262.0 204.9h1.7v1.7h-1.7zM261.8 199.8h1.7v1.7h-1.7zM261.8 197.2h1.7v1.7h-1.7zM261.9 195.6h1.7v1.7h-1.7zM263.0 227.3h1.7v1.7h-1.7zM263.1 225.6h1.7v1.7h-1.7zM262.8 224.0h1.7v1.7h-1.7zM262.9 221.6h1.7v1.7h-1.7zM263.0 221.3h1.7v1.7h-1.7zM262.8 221.1h1.7v1.7h-1.7zM262.9 219.3h1.7v1.7h-1.7zM263.1 219.1h1.7v1.7h-1.7zM262.8 212.7h1.7v1.7h-1.7zM262.9 210.7h1.7v1.7h-1.7zM263.9 235.1h1.7v1.7h-1.7zM263.9 232.4h1.7v1.7h-1.7zM263.9 230.2h1.7v1.7h-1.7zM263.9 226.7h1.7v1.7h-1.7zM264.9 218.8h1.7v1.7h-1.7zM265.0 219.3h1.7v1.7h-1.7zM265.0 218.4h1.7v1.7h-1.7zM265.0 217.3h1.7v1.7h-1.7zM264.9 216.5h1.7v1.7h-1.7zM264.8 215.5h1.7v1.7h-1.7zM264.9 215.0h1.7v1.7h-1.7zM264.8 211.7h1.7v1.7h-1.7zM265.0 211.1h1.7v1.7h-1.7zM265.0 209.1h1.7v1.7h-1.7zM265.0 207.0h1.7v1.7h-1.7zM265.0 206.9h1.7v1.7h-1.7zM265.0 194.3h1.7v1.7h-1.7zM265.8 221.3h1.7v1.7h-1.7zM266.1 220.3h1.7v1.7h-1.7zM266.0 219.4h1.7v1.7h-1.7zM266.1 215.9h1.7v1.7h-1.7zM265.9 214.8h1.7v1.7h-1.7zM266.0 215.6h1.7v1.7h-1.7zM265.8 214.1h1.7v1.7h-1.7zM266.1 210.8h1.7v1.7h-1.7zM265.9 211.1h1.7v1.7h-1.7zM266.1 206.9h1.7v1.7h-1.7zM265.9 202.7h1.7v1.7h-1.7zM266.0 195.3h1.7v1.7h-1.7zM265.8 190.9h1.7v1.7h-1.7zM265.9 186.2h1.7v1.7h-1.7zM266.1 185.7h1.7v1.7h-1.7zM267.0 220.3h1.7v1.7h-1.7zM267.0 219.2h1.7v1.7h-1.7zM267.1 217.3h1.7v1.7h-1.7zM267.0 216.8h1.7v1.7h-1.7zM266.8 215.8h1.7v1.7h-1.7zM266.9 216.2h1.7v1.7h-1.7zM266.9 215.1h1.7v1.7h-1.7zM266.8 214.0h1.7v1.7h-1.7zM267.1 214.2h1.7v1.7h-1.7zM266.9 214.2h1.7v1.7h-1.7zM267.1 213.7h1.7v1.7h-1.7zM267.1 214.0h1.7v1.7h-1.7zM267.0 211.3h1.7v1.7h-1.7zM266.9 207.4h1.7v1.7h-1.7zM267.0 204.0h1.7v1.7h-1.7zM266.8 199.0h1.7v1.7h-1.7zM267.9 221.4h1.7v1.7h-1.7zM267.9 220.1h1.7v1.7h-1.7zM267.9 220.4h1.7v1.7h-1.7zM268.0 219.5h1.7v1.7h-1.7zM267.9 217.7h1.7v1.7h-1.7zM268.1 217.0h1.7v1.7h-1.7zM268.1 217.5h1.7v1.7h-1.7zM268.1 216.1h1.7v1.7h-1.7zM267.9 213.1h1.7v1.7h-1.7zM268.0 211.7h1.7v1.7h-1.7zM268.1 210.7h1.7v1.7h-1.7zM268.0 198.9h1.7v1.7h-1.7zM269.1 226.2h1.7v1.7h-1.7zM269.0 225.4h1.7v1.7h-1.7zM269.0 225.2h1.7v1.7h-1.7zM268.9 223.9h1.7v1.7h-1.7zM268.8 223.9h1.7v1.7h-1.7zM269.0 223.0h1.7v1.7h-1.7zM268.9 221.7h1.7v1.7h-1.7zM269.1 217.0h1.7v1.7h-1.7zM268.9 209.2h1.7v1.7h-1.7zM269.1 209.6h1.7v1.7h-1.7zM269.1 208.9h1.7v1.7h-1.7zM268.9 205.7h1.7v1.7h-1.7zM269.1 204.8h1.7v1.7h-1.7zM268.9 203.2h1.7v1.7h-1.7zM270.1 219.7h1.7v1.7h-1.7zM270.0 219.1h1.7v1.7h-1.7zM269.9 219.3h1.7v1.7h-1.7zM269.9 217.9h1.7v1.7h-1.7zM270.0 218.6h1.7v1.7h-1.7zM269.8 216.4h1.7v1.7h-1.7zM270.0 214.9h1.7v1.7h-1.7zM269.9 215.4h1.7v1.7h-1.7zM269.8 214.5h1.7v1.7h-1.7zM269.9 213.6h1.7v1.7h-1.7zM269.9 213.4h1.7v1.7h-1.7zM270.0 212.5h1.7v1.7h-1.7zM269.8 211.1h1.7v1.7h-1.7zM269.8 207.9h1.7v1.7h-1.7zM269.9 205.2h1.7v1.7h-1.7zM270.0 204.5h1.7v1.7h-1.7zM269.9 201.5h1.7v1.7h-1.7zM269.9 200.7h1.7v1.7h-1.7zM269.8 198.0h1.7v1.7h-1.7zM270.0 196.9h1.7v1.7h-1.7zM270.0 193.1h1.7v1.7h-1.7zM270.1 184.5h1.7v1.7h-1.7zM271.0 224.4h1.7v1.7h-1.7zM270.8 223.7h1.7v1.7h-1.7zM271.1 223.5h1.7v1.7h-1.7zM271.0 222.6h1.7v1.7h-1.7zM270.9 220.8h1.7v1.7h-1.7zM270.8 220.5h1.7v1.7h-1.7zM270.8 220.6h1.7v1.7h-1.7zM271.0 220.0h1.7v1.7h-1.7zM271.0 217.8h1.7v1.7h-1.7zM271.1 217.6h1.7v1.7h-1.7zM270.8 215.5h1.7v1.7h-1.7zM270.9 213.6h1.7v1.7h-1.7zM271.1 211.2h1.7v1.7h-1.7zM270.8 209.8h1.7v1.7h-1.7zM270.9 202.3h1.7v1.7h-1.7zM271.0 199.4h1.7v1.7h-1.7zM271.1 192.5h1.7v1.7h-1.7zM270.9 186.8h1.7v1.7h-1.7zM270.8 187.4h1.7v1.7h-1.7zM272.1 222.4h1.7v1.7h-1.7zM272.1 220.8h1.7v1.7h-1.7zM271.9 220.9h1.7v1.7h-1.7zM271.9 221.6h1.7v1.7h-1.7zM272.0 221.0h1.7v1.7h-1.7zM271.9 219.9h1.7v1.7h-1.7zM271.8 219.6h1.7v1.7h-1.7zM272.0 218.1h1.7v1.7h-1.7zM272.1 217.1h1.7v1.7h-1.7zM272.0 216.6h1.7v1.7h-1.7zM271.8 215.5h1.7v1.7h-1.7zM271.9 214.9h1.7v1.7h-1.7zM272.1 213.8h1.7v1.7h-1.7zM271.8 209.7h1.7v1.7h-1.7zM272.1 200.4h1.7v1.7h-1.7zM273.0 232.1h1.7v1.7h-1.7zM273.1 230.9h1.7v1.7h-1.7zM272.8 231.4h1.7v1.7h-1.7zM272.8 231.6h1.7v1.7h-1.7zM273.0 229.7h1.7v1.7h-1.7zM273.0 227.9h1.7v1.7h-1.7zM272.9 225.9h1.7v1.7h-1.7zM273.0 226.0h1.7v1.7h-1.7zM272.9 225.0h1.7v1.7h-1.7zM272.9 225.0h1.7v1.7h-1.7zM273.1 225.4h1.7v1.7h-1.7zM273.0 221.6h1.7v1.7h-1.7zM273.1 220.5h1.7v1.7h-1.7zM273.1 217.0h1.7v1.7h-1.7zM272.9 203.1h1.7v1.7h-1.7zM272.9 202.0h1.7v1.7h-1.7zM274.1 234.3h1.7v1.7h-1.7zM273.9 233.2h1.7v1.7h-1.7zM274.0 233.1h1.7v1.7h-1.7zM273.9 231.9h1.7v1.7h-1.7zM274.1 232.2h1.7v1.7h-1.7zM274.0 230.7h1.7v1.7h-1.7zM273.9 229.8h1.7v1.7h-1.7zM273.9 230.0h1.7v1.7h-1.7zM273.9 230.6h1.7v1.7h-1.7zM273.8 228.2h1.7v1.7h-1.7zM274.0 225.5h1.7v1.7h-1.7zM274.0 224.3h1.7v1.7h-1.7zM274.1 222.0h1.7v1.7h-1.7zM274.0 220.7h1.7v1.7h-1.7zM274.0 216.7h1.7v1.7h-1.7zM273.8 210.2h1.7v1.7h-1.7zM296.4 208.7h1.7v1.7h-1.7zM296.3 207.1h1.7v1.7h-1.7zM296.3 207.4h1.7v1.7h-1.7zM296.3 207.4h1.7v1.7h-1.7zM296.5 205.9h1.7v1.7h-1.7zM296.4 205.1h1.7v1.7h-1.7zM296.4 204.2h1.7v1.7h-1.7zM296.3 204.6h1.7v1.7h-1.7zM296.5 203.5h1.7v1.7h-1.7zM296.4 200.9h1.7v1.7h-1.7zM296.5 201.6h1.7v1.7h-1.7zM296.2 198.0h1.7v1.7h-1.7zM296.2 191.2h1.7v1.7h-1.7zM297.4 214.3h1.7v1.7h-1.7zM297.4 212.4h1.7v1.7h-1.7zM297.2 208.7h1.7v1.7h-1.7zM297.3 206.7h1.7v1.7h-1.7zM297.3 205.5h1.7v1.7h-1.7zM297.4 202.9h1.7v1.7h-1.7zM297.4 201.3h1.7v1.7h-1.7zM297.2 201.6h1.7v1.7h-1.7zM297.3 194.5h1.7v1.7h-1.7zM298.3 213.9h1.7v1.7h-1.7zM298.3 214.2h1.7v1.7h-1.7zM298.4 212.3h1.7v1.7h-1.7zM298.2 212.5h1.7v1.7h-1.7zM298.4 210.8h1.7v1.7h-1.7zM298.3 211.6h1.7v1.7h-1.7zM298.3 211.2h1.7v1.7h-1.7zM298.2 211.5h1.7v1.7h-1.7zM298.4 210.8h1.7v1.7h-1.7zM298.2 210.5h1.7v1.7h-1.7zM298.3 208.7h1.7v1.7h-1.7zM298.5 208.5h1.7v1.7h-1.7zM298.3 207.1h1.7v1.7h-1.7zM298.4 206.4h1.7v1.7h-1.7zM298.4 205.1h1.7v1.7h-1.7zM298.5 201.8h1.7v1.7h-1.7zM298.4 202.4h1.7v1.7h-1.7zM298.5 199.9h1.7v1.7h-1.7zM298.3 199.1h1.7v1.7h-1.7zM298.2 193.4h1.7v1.7h-1.7zM298.3 191.7h1.7v1.7h-1.7zM298.2 184.1h1.7v1.7h-1.7zM299.3 212.4h1.7v1.7h-1.7zM299.3 212.5h1.7v1.7h-1.7zM299.2 211.6h1.7v1.7h-1.7zM299.4 211.4h1.7v1.7h-1.7zM299.5 209.0h1.7v1.7h-1.7zM299.5 206.7h1.7v1.7h-1.7zM299.4 207.2h1.7v1.7h-1.7zM299.4 204.3h1.7v1.7h-1.7zM299.4 203.7h1.7v1.7h-1.7zM299.5 202.7h1.7v1.7h-1.7zM299.4 201.3h1.7v1.7h-1.7zM299.2 195.0h1.7v1.7h-1.7zM299.4 195.2h1.7v1.7h-1.7zM300.4 211.0h1.7v1.7h-1.7zM300.5 211.1h1.7v1.7h-1.7zM300.2 209.8h1.7v1.7h-1.7zM300.3 210.4h1.7v1.7h-1.7zM300.2 208.5h1.7v1.7h-1.7zM300.3 207.5h1.7v1.7h-1.7zM300.2 205.1h1.7v1.7h-1.7zM300.2 200.6h1.7v1.7h-1.7zM300.3 184.8h1.7v1.7h-1.7zM301.4 216.1h1.7v1.7h-1.7zM301.4 216.2h1.7v1.7h-1.7zM301.2 213.2h1.7v1.7h-1.7zM301.4 211.9h1.7v1.7h-1.7zM301.3 211.9h1.7v1.7h-1.7zM301.4 211.1h1.7v1.7h-1.7zM301.4 210.6h1.7v1.7h-1.7zM301.4 209.8h1.7v1.7h-1.7zM301.3 210.6h1.7v1.7h-1.7zM301.3 208.8h1.7v1.7h-1.7zM301.2 208.7h1.7v1.7h-1.7zM301.2 207.5h1.7v1.7h-1.7zM301.3 201.4h1.7v1.7h-1.7zM301.4 201.1h1.7v1.7h-1.7zM301.2 201.2h1.7v1.7h-1.7zM301.4 194.9h1.7v1.7h-1.7zM301.3 195.2h1.7v1.7h-1.7zM301.2 190.3h1.7v1.7h-1.7zM301.3 186.4h1.7v1.7h-1.7zM302.3 212.4h1.7v1.7h-1.7zM302.3 211.0h1.7v1.7h-1.7zM302.5 209.9h1.7v1.7h-1.7zM302.3 209.2h1.7v1.7h-1.7zM302.2 208.7h1.7v1.7h-1.7zM302.2 209.5h1.7v1.7h-1.7zM302.4 208.7h1.7v1.7h-1.7zM302.4 208.2h1.7v1.7h-1.7zM302.3 208.0h1.7v1.7h-1.7zM302.3 208.1h1.7v1.7h-1.7zM302.3 207.1h1.7v1.7h-1.7zM302.3 207.2h1.7v1.7h-1.7zM302.4 207.2h1.7v1.7h-1.7zM302.3 207.6h1.7v1.7h-1.7zM302.4 205.5h1.7v1.7h-1.7zM302.5 204.2h1.7v1.7h-1.7zM302.5 203.9h1.7v1.7h-1.7zM302.3 203.2h1.7v1.7h-1.7zM302.5 202.2h1.7v1.7h-1.7zM302.3 201.0h1.7v1.7h-1.7zM302.3 200.1h1.7v1.7h-1.7zM302.4 200.2h1.7v1.7h-1.7zM302.4 199.0h1.7v1.7h-1.7zM302.5 198.2h1.7v1.7h-1.7zM302.4 197.1h1.7v1.7h-1.7zM302.4 183.9h1.7v1.7h-1.7zM303.2 208.2h1.7v1.7h-1.7zM303.3 208.1h1.7v1.7h-1.7zM303.4 207.1h1.7v1.7h-1.7zM303.4 207.3h1.7v1.7h-1.7zM303.4 206.4h1.7v1.7h-1.7zM303.4 206.2h1.7v1.7h-1.7zM303.3 206.5h1.7v1.7h-1.7zM303.5 205.3h1.7v1.7h-1.7zM303.4 204.2h1.7v1.7h-1.7zM303.4 203.7h1.7v1.7h-1.7zM303.4 203.0h1.7v1.7h-1.7zM303.5 203.3h1.7v1.7h-1.7zM303.4 202.2h1.7v1.7h-1.7zM303.4 201.5h1.7v1.7h-1.7zM303.4 199.0h1.7v1.7h-1.7zM303.3 197.1h1.7v1.7h-1.7zM303.4 192.2h1.7v1.7h-1.7zM303.3 189.9h1.7v1.7h-1.7zM303.3 188.3h1.7v1.7h-1.7zM303.2 187.9h1.7v1.7h-1.7zM303.2 187.8h1.7v1.7h-1.7zM304.2 221.4h1.7v1.7h-1.7zM304.3 220.7h1.7v1.7h-1.7zM304.2 220.8h1.7v1.7h-1.7zM304.4 219.9h1.7v1.7h-1.7zM304.4 219.9h1.7v1.7h-1.7zM304.4 220.2h1.7v1.7h-1.7zM304.3 218.7h1.7v1.7h-1.7zM304.3 216.8h1.7v1.7h-1.7zM304.3 215.9h1.7v1.7h-1.7zM304.2 215.7h1.7v1.7h-1.7zM304.4 215.2h1.7v1.7h-1.7zM304.3 214.3h1.7v1.7h-1.7zM304.4 214.2h1.7v1.7h-1.7zM304.2 212.7h1.7v1.7h-1.7zM304.5 211.4h1.7v1.7h-1.7zM304.4 208.2h1.7v1.7h-1.7zM304.2 207.4h1.7v1.7h-1.7zM304.3 207.3h1.7v1.7h-1.7zM304.3 205.2h1.7v1.7h-1.7zM304.5 202.6h1.7v1.7h-1.7zM305.3 210.1h1.7v1.7h-1.7zM305.3 209.2h1.7v1.7h-1.7zM305.3 207.9h1.7v1.7h-1.7zM305.3 207.2h1.7v1.7h-1.7zM305.3 207.0h1.7v1.7h-1.7zM305.4 206.1h1.7v1.7h-1.7zM305.2 205.6h1.7v1.7h-1.7zM305.2 204.3h1.7v1.7h-1.7zM305.4 204.0h1.7v1.7h-1.7zM305.3 204.3h1.7v1.7h-1.7zM305.4 199.7h1.7v1.7h-1.7zM305.3 189.9h1.7v1.7h-1.7zM305.2 187.1h1.7v1.7h-1.7zM305.3 186.2h1.7v1.7h-1.7zM305.4 186.4h1.7v1.7h-1.7zM306.4 212.4h1.7v1.7h-1.7zM306.5 210.7h1.7v1.7h-1.7zM306.4 209.6h1.7v1.7h-1.7zM306.3 207.1h1.7v1.7h-1.7zM306.5 205.7h1.7v1.7h-1.7zM306.3 203.2h1.7v1.7h-1.7zM306.5 202.5h1.7v1.7h-1.7zM306.3 200.3h1.7v1.7h-1.7zM306.3 197.1h1.7v1.7h-1.7zM306.3 189.3h1.7v1.7h-1.7zM307.4 209.7h1.7v1.7h-1.7zM307.3 208.2h1.7v1.7h-1.7zM307.3 206.0h1.7v1.7h-1.7zM307.3 205.9h1.7v1.7h-1.7zM307.3 204.9h1.7v1.7h-1.7zM307.5 203.3h1.7v1.7h-1.7zM307.3 203.2h1.7v1.7h-1.7zM307.2 202.9h1.7v1.7h-1.7zM307.3 202.2h1.7v1.7h-1.7zM307.3 201.7h1.7v1.7h-1.7zM307.2 202.1h1.7v1.7h-1.7zM307.3 199.4h1.7v1.7h-1.7zM307.4 198.7h1.7v1.7h-1.7zM307.5 197.7h1.7v1.7h-1.7zM307.2 197.1h1.7v1.7h-1.7zM307.4 194.3h1.7v1.7h-1.7zM307.3 193.1h1.7v1.7h-1.7zM307.4 190.5h1.7v1.7h-1.7zM308.3 212.5h1.7v1.7h-1.7zM308.5 212.4h1.7v1.7h-1.7zM308.5 211.9h1.7v1.7h-1.7zM308.4 211.0h1.7v1.7h-1.7zM308.3 211.0h1.7v1.7h-1.7zM308.4 206.2h1.7v1.7h-1.7zM308.4 205.0h1.7v1.7h-1.7zM308.3 204.1h1.7v1.7h-1.7zM308.3 202.2h1.7v1.7h-1.7zM308.4 196.3h1.7v1.7h-1.7zM308.3 191.9h1.7v1.7h-1.7zM308.3 187.7h1.7v1.7h-1.7zM308.3 184.1h1.7v1.7h-1.7zM309.4 207.3h1.7v1.7h-1.7zM309.5 207.4h1.7v1.7h-1.7zM309.4 206.6h1.7v1.7h-1.7zM309.5 205.7h1.7v1.7h-1.7zM309.3 204.7h1.7v1.7h-1.7zM309.4 205.3h1.7v1.7h-1.7zM309.2 203.7h1.7v1.7h-1.7zM309.5 201.7h1.7v1.7h-1.7zM309.3 201.8h1.7v1.7h-1.7zM309.5 199.2h1.7v1.7h-1.7zM309.3 192.8h1.7v1.7h-1.7zM309.5 192.0h1.7v1.7h-1.7zM309.2 192.4h1.7v1.7h-1.7zM309.5 191.2h1.7v1.7h-1.7zM309.2 190.1h1.7v1.7h-1.7zM310.4 206.5h1.7v1.7h-1.7zM310.5 206.5h1.7v1.7h-1.7zM310.2 206.6h1.7v1.7h-1.7zM310.3 205.1h1.7v1.7h-1.7zM310.3 205.2h1.7v1.7h-1.7zM310.3 203.7h1.7v1.7h-1.7zM310.3 203.3h1.7v1.7h-1.7zM310.2 201.9h1.7v1.7h-1.7zM310.4 202.5h1.7v1.7h-1.7zM310.4 202.3h1.7v1.7h-1.7zM310.4 201.5h1.7v1.7h-1.7zM310.3 200.3h1.7v1.7h-1.7zM310.4 200.2h1.7v1.7h-1.7zM310.4 198.8h1.7v1.7h-1.7zM310.4 199.5h1.7v1.7h-1.7zM310.2 197.8h1.7v1.7h-1.7zM310.5 197.7h1.7v1.7h-1.7zM310.3 192.9h1.7v1.7h-1.7zM310.4 191.5h1.7v1.7h-1.7zM310.3 190.0h1.7v1.7h-1.7zM310.4 188.4h1.7v1.7h-1.7zM311.5 214.4h1.7v1.7h-1.7zM311.4 214.2h1.7v1.7h-1.7zM311.4 212.9h1.7v1.7h-1.7zM311.4 212.8h1.7v1.7h-1.7zM311.4 212.6h1.7v1.7h-1.7zM311.2 211.8h1.7v1.7h-1.7zM311.2 211.4h1.7v1.7h-1.7zM311.3 211.0h1.7v1.7h-1.7zM311.3 210.5h1.7v1.7h-1.7zM311.4 209.9h1.7v1.7h-1.7zM311.5 209.9h1.7v1.7h-1.7zM311.2 208.9h1.7v1.7h-1.7zM311.4 209.2h1.7v1.7h-1.7zM311.3 207.7h1.7v1.7h-1.7zM311.3 205.9h1.7v1.7h-1.7zM311.4 202.8h1.7v1.7h-1.7zM311.2 202.9h1.7v1.7h-1.7zM311.3 201.8h1.7v1.7h-1.7zM311.3 201.6h1.7v1.7h-1.7zM311.3 195.8h1.7v1.7h-1.7zM312.3 199.6h1.7v1.7h-1.7zM312.5 199.2h1.7v1.7h-1.7zM312.4 198.5h1.7v1.7h-1.7zM312.3 197.3h1.7v1.7h-1.7zM312.4 196.9h1.7v1.7h-1.7zM312.4 194.7h1.7v1.7h-1.7zM312.4 194.7h1.7v1.7h-1.7zM312.4 194.3h1.7v1.7h-1.7zM312.2 193.5h1.7v1.7h-1.7zM312.2 189.6h1.7v1.7h-1.7zM313.4 210.0h1.7v1.7h-1.7zM313.5 208.8h1.7v1.7h-1.7zM313.5 208.9h1.7v1.7h-1.7zM313.4 208.8h1.7v1.7h-1.7zM313.3 207.1h1.7v1.7h-1.7zM313.2 205.1h1.7v1.7h-1.7zM313.4 205.5h1.7v1.7h-1.7zM313.2 204.6h1.7v1.7h-1.7zM313.2 203.3h1.7v1.7h-1.7zM313.3 202.2h1.7v1.7h-1.7zM313.3 202.3h1.7v1.7h-1.7zM313.3 202.6h1.7v1.7h-1.7zM313.3 199.6h1.7v1.7h-1.7zM313.3 197.6h1.7v1.7h-1.7zM313.4 193.7h1.7v1.7h-1.7zM313.4 192.8h1.7v1.7h-1.7zM313.3 190.5h1.7v1.7h-1.7zM314.4 217.6h1.7v1.7h-1.7zM314.4 215.8h1.7v1.7h-1.7zM314.4 216.5h1.7v1.7h-1.7zM314.3 215.8h1.7v1.7h-1.7zM314.4 215.0h1.7v1.7h-1.7zM314.5 215.1h1.7v1.7h-1.7zM314.2 214.2h1.7v1.7h-1.7zM314.4 213.1h1.7v1.7h-1.7zM314.4 210.7h1.7v1.7h-1.7zM314.5 210.7h1.7v1.7h-1.7zM314.5 210.3h1.7v1.7h-1.7zM314.4 204.4h1.7v1.7h-1.7zM314.3 202.6h1.7v1.7h-1.7zM314.3 195.7h1.7v1.7h-1.7zM314.4 188.8h1.7v1.7h-1.7zM315.4 200.9h1.7v1.7h-1.7zM315.2 200.8h1.7v1.7h-1.7zM315.3 201.1h1.7v1.7h-1.7zM315.4 200.0h1.7v1.7h-1.7zM315.3 200.6h1.7v1.7h-1.7zM315.3 200.3h1.7v1.7h-1.7zM315.3 199.6h1.7v1.7h-1.7zM315.5 198.6h1.7v1.7h-1.7zM315.3 197.4h1.7v1.7h-1.7zM315.4 196.7h1.7v1.7h-1.7zM315.5 196.4h1.7v1.7h-1.7zM315.4 195.0h1.7v1.7h-1.7zM315.5 192.8h1.7v1.7h-1.7zM315.2 193.6h1.7v1.7h-1.7zM315.3 192.6h1.7v1.7h-1.7zM315.3 191.4h1.7v1.7h-1.7zM315.3 190.6h1.7v1.7h-1.7zM335.8 215.8h1.7v1.7h-1.7zM335.9 215.7h1.7v1.7h-1.7zM336.0 214.7h1.7v1.7h-1.7zM336.0 213.1h1.7v1.7h-1.7zM336.0 211.8h1.7v1.7h-1.7zM336.0 211.6h1.7v1.7h-1.7zM336.1 211.3h1.7v1.7h-1.7zM336.1 205.9h1.7v1.7h-1.7zM336.0 205.5h1.7v1.7h-1.7zM335.9 201.0h1.7v1.7h-1.7zM336.1 197.7h1.7v1.7h-1.7zM336.0 197.5h1.7v1.7h-1.7zM335.9 183.7h1.7v1.7h-1.7zM336.8 214.9h1.7v1.7h-1.7zM336.9 214.9h1.7v1.7h-1.7zM336.9 213.8h1.7v1.7h-1.7zM336.8 212.2h1.7v1.7h-1.7zM336.9 212.1h1.7v1.7h-1.7zM336.8 211.3h1.7v1.7h-1.7zM337.0 210.3h1.7v1.7h-1.7zM337.1 207.7h1.7v1.7h-1.7zM336.9 207.7h1.7v1.7h-1.7zM336.8 206.7h1.7v1.7h-1.7zM337.1 206.4h1.7v1.7h-1.7zM337.1 204.2h1.7v1.7h-1.7zM337.9 218.2h1.7v1.7h-1.7zM337.9 218.6h1.7v1.7h-1.7zM337.9 216.7h1.7v1.7h-1.7zM338.1 216.2h1.7v1.7h-1.7zM338.0 214.9h1.7v1.7h-1.7zM337.8 214.3h1.7v1.7h-1.7zM338.0 211.4h1.7v1.7h-1.7zM337.8 210.0h1.7v1.7h-1.7zM337.9 209.9h1.7v1.7h-1.7zM337.8 209.3h1.7v1.7h-1.7zM337.8 207.8h1.7v1.7h-1.7zM338.0 204.8h1.7v1.7h-1.7zM338.1 199.0h1.7v1.7h-1.7zM337.9 198.4h1.7v1.7h-1.7zM338.8 215.3h1.7v1.7h-1.7zM339.0 214.4h1.7v1.7h-1.7zM338.8 214.0h1.7v1.7h-1.7zM339.0 214.3h1.7v1.7h-1.7zM338.9 214.2h1.7v1.7h-1.7zM339.1 213.2h1.7v1.7h-1.7zM339.1 213.6h1.7v1.7h-1.7zM338.9 211.4h1.7v1.7h-1.7zM338.9 208.5h1.7v1.7h-1.7zM339.1 208.2h1.7v1.7h-1.7zM339.1 205.1h1.7v1.7h-1.7zM339.0 203.7h1.7v1.7h-1.7zM338.9 200.0h1.7v1.7h-1.7zM339.9 221.6h1.7v1.7h-1.7zM339.9 220.2h1.7v1.7h-1.7zM340.0 218.9h1.7v1.7h-1.7zM339.9 219.1h1.7v1.7h-1.7zM339.9 217.9h1.7v1.7h-1.7zM339.9 215.0h1.7v1.7h-1.7zM339.8 201.3h1.7v1.7h-1.7zM339.8 192.8h1.7v1.7h-1.7zM340.8 225.7h1.7v1.7h-1.7zM340.8 223.7h1.7v1.7h-1.7zM341.0 223.8h1.7v1.7h-1.7zM341.1 222.9h1.7v1.7h-1.7zM340.9 223.4h1.7v1.7h-1.7zM340.9 223.1h1.7v1.7h-1.7zM340.9 223.6h1.7v1.7h-1.7zM341.1 221.3h1.7v1.7h-1.7zM340.9 220.4h1.7v1.7h-1.7zM340.9 214.8h1.7v1.7h-1.7zM340.9 215.2h1.7v1.7h-1.7zM340.9 211.9h1.7v1.7h-1.7zM340.9 207.9h1.7v1.7h-1.7zM341.1 208.1h1.7v1.7h-1.7zM340.9 200.8h1.7v1.7h-1.7zM341.0 200.1h1.7v1.7h-1.7zM340.9 195.5h1.7v1.7h-1.7zM341.0 188.0h1.7v1.7h-1.7zM341.8 223.7h1.7v1.7h-1.7zM342.0 222.0h1.7v1.7h-1.7zM341.9 222.2h1.7v1.7h-1.7zM341.9 221.1h1.7v1.7h-1.7zM342.0 220.9h1.7v1.7h-1.7zM341.9 221.0h1.7v1.7h-1.7zM341.9 220.0h1.7v1.7h-1.7zM341.9 220.4h1.7v1.7h-1.7zM341.8 219.3h1.7v1.7h-1.7zM341.9 217.0h1.7v1.7h-1.7zM341.9 215.9h1.7v1.7h-1.7zM341.9 211.8h1.7v1.7h-1.7zM341.8 210.1h1.7v1.7h-1.7zM341.8 204.8h1.7v1.7h-1.7zM341.9 204.4h1.7v1.7h-1.7zM342.0 190.9h1.7v1.7h-1.7zM343.0 235.2h1.7v1.7h-1.7zM343.0 234.8h1.7v1.7h-1.7zM343.0 232.2h1.7v1.7h-1.7zM342.9 231.6h1.7v1.7h-1.7zM342.8 225.7h1.7v1.7h-1.7zM343.1 225.6h1.7v1.7h-1.7zM342.9 224.5h1.7v1.7h-1.7zM342.8 223.6h1.7v1.7h-1.7zM342.9 223.0h1.7v1.7h-1.7zM342.8 222.8h1.7v1.7h-1.7zM342.9 222.3h1.7v1.7h-1.7zM343.0 219.2h1.7v1.7h-1.7zM343.0 219.5h1.7v1.7h-1.7zM342.8 215.3h1.7v1.7h-1.7zM343.1 206.9h1.7v1.7h-1.7zM343.0 194.1h1.7v1.7h-1.7zM343.8 232.2h1.7v1.7h-1.7zM343.9 231.9h1.7v1.7h-1.7zM343.9 231.6h1.7v1.7h-1.7zM344.0 230.7h1.7v1.7h-1.7zM344.0 228.8h1.7v1.7h-1.7zM344.0 226.8h1.7v1.7h-1.7zM344.0 225.6h1.7v1.7h-1.7zM344.1 225.4h1.7v1.7h-1.7zM344.0 223.9h1.7v1.7h-1.7zM344.1 223.4h1.7v1.7h-1.7zM343.8 222.3h1.7v1.7h-1.7zM344.0 220.4h1.7v1.7h-1.7zM344.0 218.5h1.7v1.7h-1.7zM344.0 215.8h1.7v1.7h-1.7zM344.0 215.3h1.7v1.7h-1.7zM343.9 213.5h1.7v1.7h-1.7zM344.1 196.4h1.7v1.7h-1.7zM345.0 235.6h1.7v1.7h-1.7zM345.0 234.0h1.7v1.7h-1.7zM344.8 233.7h1.7v1.7h-1.7zM344.9 234.3h1.7v1.7h-1.7zM344.9 232.1h1.7v1.7h-1.7zM344.8 231.0h1.7v1.7h-1.7zM344.8 231.3h1.7v1.7h-1.7zM345.0 231.5h1.7v1.7h-1.7zM345.0 230.0h1.7v1.7h-1.7zM345.0 229.9h1.7v1.7h-1.7zM345.0 229.5h1.7v1.7h-1.7zM344.9 229.1h1.7v1.7h-1.7zM345.1 228.0h1.7v1.7h-1.7zM345.0 228.3h1.7v1.7h-1.7zM345.0 207.7h1.7v1.7h-1.7zM345.9 230.0h1.7v1.7h-1.7zM346.0 229.7h1.7v1.7h-1.7zM345.9 230.5h1.7v1.7h-1.7zM345.9 230.1h1.7v1.7h-1.7zM345.9 229.7h1.7v1.7h-1.7zM346.0 229.1h1.7v1.7h-1.7zM346.0 228.5h1.7v1.7h-1.7zM346.0 228.0h1.7v1.7h-1.7zM345.9 227.2h1.7v1.7h-1.7zM345.9 225.7h1.7v1.7h-1.7zM345.9 226.2h1.7v1.7h-1.7zM345.9 224.5h1.7v1.7h-1.7zM346.0 223.6h1.7v1.7h-1.7zM346.1 222.9h1.7v1.7h-1.7zM346.0 222.6h1.7v1.7h-1.7zM346.1 220.1h1.7v1.7h-1.7zM346.0 217.8h1.7v1.7h-1.7zM346.8 229.4h1.7v1.7h-1.7zM346.9 229.1h1.7v1.7h-1.7zM347.0 229.3h1.7v1.7h-1.7zM346.9 227.9h1.7v1.7h-1.7zM346.8 225.9h1.7v1.7h-1.7zM346.9 224.5h1.7v1.7h-1.7zM346.8 224.5h1.7v1.7h-1.7zM347.0 223.2h1.7v1.7h-1.7zM347.1 222.3h1.7v1.7h-1.7zM346.8 220.2h1.7v1.7h-1.7zM347.0 220.2h1.7v1.7h-1.7zM346.8 219.2h1.7v1.7h-1.7zM347.0 218.8h1.7v1.7h-1.7zM347.0 218.2h1.7v1.7h-1.7zM347.1 212.0h1.7v1.7h-1.7zM347.0 206.5h1.7v1.7h-1.7zM347.9 215.7h1.7v1.7h-1.7zM348.0 215.0h1.7v1.7h-1.7zM348.1 213.8h1.7v1.7h-1.7zM347.9 213.1h1.7v1.7h-1.7zM347.9 213.0h1.7v1.7h-1.7zM347.8 212.6h1.7v1.7h-1.7zM347.9 212.2h1.7v1.7h-1.7zM348.1 212.5h1.7v1.7h-1.7zM348.1 211.3h1.7v1.7h-1.7zM347.9 208.5h1.7v1.7h-1.7zM347.9 207.5h1.7v1.7h-1.7zM347.8 205.2h1.7v1.7h-1.7zM348.0 203.8h1.7v1.7h-1.7zM347.8 200.7h1.7v1.7h-1.7zM348.1 200.2h1.7v1.7h-1.7zM347.9 197.4h1.7v1.7h-1.7zM348.1 192.6h1.7v1.7h-1.7zM349.0 206.5h1.7v1.7h-1.7zM349.0 205.9h1.7v1.7h-1.7zM348.8 201.9h1.7v1.7h-1.7zM349.1 201.9h1.7v1.7h-1.7zM348.9 200.0h1.7v1.7h-1.7zM348.9 199.6h1.7v1.7h-1.7zM349.1 197.2h1.7v1.7h-1.7zM349.0 195.0h1.7v1.7h-1.7zM349.0 194.0h1.7v1.7h-1.7zM349.1 193.3h1.7v1.7h-1.7zM348.9 190.8h1.7v1.7h-1.7zM349.8 217.5h1.7v1.7h-1.7zM349.9 215.7h1.7v1.7h-1.7zM349.9 216.1h1.7v1.7h-1.7zM350.1 215.3h1.7v1.7h-1.7zM349.9 214.4h1.7v1.7h-1.7zM350.0 212.0h1.7v1.7h-1.7zM349.8 212.4h1.7v1.7h-1.7zM349.9 212.5h1.7v1.7h-1.7zM349.9 206.3h1.7v1.7h-1.7zM350.0 204.9h1.7v1.7h-1.7zM349.9 203.7h1.7v1.7h-1.7zM350.0 201.2h1.7v1.7h-1.7zM350.0 197.3h1.7v1.7h-1.7zM350.0 191.3h1.7v1.7h-1.7zM350.8 221.6h1.7v1.7h-1.7zM351.1 221.2h1.7v1.7h-1.7zM351.0 220.0h1.7v1.7h-1.7zM350.8 219.6h1.7v1.7h-1.7zM350.9 217.9h1.7v1.7h-1.7zM350.9 218.5h1.7v1.7h-1.7zM350.8 217.2h1.7v1.7h-1.7zM350.9 217.3h1.7v1.7h-1.7zM350.9 213.5h1.7v1.7h-1.7zM350.8 212.7h1.7v1.7h-1.7zM351.0 213.6h1.7v1.7h-1.7zM350.8 213.0h1.7v1.7h-1.7zM351.0 212.9h1.7v1.7h-1.7zM350.9 212.0h1.7v1.7h-1.7zM350.9 211.8h1.7v1.7h-1.7zM351.0 198.4h1.7v1.7h-1.7zM351.0 193.0h1.7v1.7h-1.7zM352.0 218.8h1.7v1.7h-1.7zM351.9 217.7h1.7v1.7h-1.7zM352.1 218.6h1.7v1.7h-1.7zM351.9 217.3h1.7v1.7h-1.7zM351.9 217.5h1.7v1.7h-1.7zM352.0 216.3h1.7v1.7h-1.7zM352.0 215.4h1.7v1.7h-1.7zM351.8 215.0h1.7v1.7h-1.7zM352.0 213.9h1.7v1.7h-1.7zM351.9 213.2h1.7v1.7h-1.7zM352.0 211.2h1.7v1.7h-1.7zM351.8 211.0h1.7v1.7h-1.7zM352.0 208.2h1.7v1.7h-1.7zM351.9 208.0h1.7v1.7h-1.7zM351.9 207.1h1.7v1.7h-1.7zM351.9 202.9h1.7v1.7h-1.7zM351.8 188.3h1.7v1.7h-1.7zM351.8 186.2h1.7v1.7h-1.7zM353.0 222.7h1.7v1.7h-1.7zM353.0 221.8h1.7v1.7h-1.7zM353.0 222.4h1.7v1.7h-1.7zM353.1 221.4h1.7v1.7h-1.7zM352.8 221.6h1.7v1.7h-1.7zM352.8 219.9h1.7v1.7h-1.7zM352.9 219.3h1.7v1.7h-1.7zM352.9 219.2h1.7v1.7h-1.7zM353.0 216.2h1.7v1.7h-1.7zM352.8 216.1h1.7v1.7h-1.7zM352.8 215.1h1.7v1.7h-1.7zM353.1 215.2h1.7v1.7h-1.7zM352.9 212.9h1.7v1.7h-1.7zM352.8 208.4h1.7v1.7h-1.7zM353.0 205.9h1.7v1.7h-1.7zM352.8 206.5h1.7v1.7h-1.7zM353.0 201.7h1.7v1.7h-1.7zM354.1 214.6h1.7v1.7h-1.7zM354.0 213.4h1.7v1.7h-1.7zM353.9 212.2h1.7v1.7h-1.7zM354.0 211.0h1.7v1.7h-1.7zM354.0 211.3h1.7v1.7h-1.7zM353.9 211.2h1.7v1.7h-1.7zM354.0 209.3h1.7v1.7h-1.7zM353.9 207.9h1.7v1.7h-1.7zM354.0 206.9h1.7v1.7h-1.7zM353.8 205.5h1.7v1.7h-1.7zM354.0 204.6h1.7v1.7h-1.7zM354.0 193.1h1.7v1.7h-1.7zM354.0 191.7h1.7v1.7h-1.7zM354.1 188.6h1.7v1.7h-1.7zM354.0 185.0h1.7v1.7h-1.7zM355.0 221.5h1.7v1.7h-1.7zM354.9 221.0h1.7v1.7h-1.7zM354.8 220.6h1.7v1.7h-1.7zM354.9 218.8h1.7v1.7h-1.7zM354.9 218.3h1.7v1.7h-1.7zM355.0 216.8h1.7v1.7h-1.7zM355.0 216.3h1.7v1.7h-1.7zM354.9 216.4h1.7v1.7h-1.7zM354.9 214.2h1.7v1.7h-1.7zM355.1 212.0h1.7v1.7h-1.7zM355.1 212.0h1.7v1.7h-1.7zM355.0 210.9h1.7v1.7h-1.7zM354.8 206.6h1.7v1.7h-1.7zM354.9 203.1h1.7v1.7h-1.7zM354.9 193.2h1.7v1.7h-1.7zM355.0 190.9h1.7v1.7h-1.7zM356.1 212.8h1.7v1.7h-1.7zM355.9 213.1h1.7v1.7h-1.7zM355.9 211.2h1.7v1.7h-1.7zM356.0 209.3h1.7v1.7h-1.7zM355.9 206.8h1.7v1.7h-1.7zM355.9 205.7h1.7v1.7h-1.7zM355.8 206.3h1.7v1.7h-1.7zM355.9 206.6h1.7v1.7h-1.7zM355.9 202.9h1.7v1.7h-1.7zM356.1 203.5h1.7v1.7h-1.7zM356.1 202.8h1.7v1.7h-1.7zM356.0 201.7h1.7v1.7h-1.7zM356.1 202.2h1.7v1.7h-1.7zM355.8 202.4h1.7v1.7h-1.7zM356.0 198.0h1.7v1.7h-1.7zM355.9 197.4h1.7v1.7h-1.7zM356.0 196.3h1.7v1.7h-1.7zM356.0 195.5h1.7v1.7h-1.7zM356.0 195.1h1.7v1.7h-1.7zM356.9 206.8h1.7v1.7h-1.7zM357.0 207.6h1.7v1.7h-1.7zM356.9 207.4h1.7v1.7h-1.7zM357.0 207.3h1.7v1.7h-1.7zM356.8 206.7h1.7v1.7h-1.7zM357.1 206.5h1.7v1.7h-1.7zM357.0 206.0h1.7v1.7h-1.7zM356.9 206.5h1.7v1.7h-1.7zM357.1 204.2h1.7v1.7h-1.7zM357.0 203.6h1.7v1.7h-1.7zM357.1 203.2h1.7v1.7h-1.7zM357.1 202.6h1.7v1.7h-1.7zM357.0 201.0h1.7v1.7h-1.7zM357.0 198.9h1.7v1.7h-1.7zM357.0 197.2h1.7v1.7h-1.7zM356.8 195.4h1.7v1.7h-1.7zM375.2 224.4h1.7v1.7h-1.7zM375.0 223.3h1.7v1.7h-1.7zM375.1 223.1h1.7v1.7h-1.7zM375.1 222.0h1.7v1.7h-1.7zM375.2 221.2h1.7v1.7h-1.7zM375.2 221.4h1.7v1.7h-1.7zM375.1 221.6h1.7v1.7h-1.7zM375.2 217.7h1.7v1.7h-1.7zM375.1 206.6h1.7v1.7h-1.7zM375.2 204.4h1.7v1.7h-1.7zM376.2 219.2h1.7v1.7h-1.7zM376.2 218.3h1.7v1.7h-1.7zM376.2 217.0h1.7v1.7h-1.7zM376.1 214.6h1.7v1.7h-1.7zM376.0 214.5h1.7v1.7h-1.7zM376.0 213.2h1.7v1.7h-1.7zM376.0 212.0h1.7v1.7h-1.7zM376.2 207.1h1.7v1.7h-1.7zM376.1 207.5h1.7v1.7h-1.7zM376.2 206.2h1.7v1.7h-1.7zM376.2 205.5h1.7v1.7h-1.7zM376.2 203.7h1.7v1.7h-1.7zM376.2 202.2h1.7v1.7h-1.7zM376.2 196.9h1.7v1.7h-1.7zM377.0 222.3h1.7v1.7h-1.7zM377.0 221.3h1.7v1.7h-1.7zM377.2 221.2h1.7v1.7h-1.7zM377.1 221.4h1.7v1.7h-1.7zM377.2 221.1h1.7v1.7h-1.7zM377.2 220.3h1.7v1.7h-1.7zM377.1 219.2h1.7v1.7h-1.7zM377.3 217.9h1.7v1.7h-1.7zM377.0 217.5h1.7v1.7h-1.7zM377.1 216.5h1.7v1.7h-1.7zM377.0 215.1h1.7v1.7h-1.7zM377.0 212.6h1.7v1.7h-1.7zM377.1 207.5h1.7v1.7h-1.7zM377.2 196.8h1.7v1.7h-1.7zM377.1 193.5h1.7v1.7h-1.7zM378.2 219.3h1.7v1.7h-1.7zM378.3 218.1h1.7v1.7h-1.7zM378.2 217.9h1.7v1.7h-1.7zM378.3 217.1h1.7v1.7h-1.7zM378.1 215.7h1.7v1.7h-1.7zM378.2 215.8h1.7v1.7h-1.7zM378.3 216.6h1.7v1.7h-1.7zM378.3 213.3h1.7v1.7h-1.7zM378.2 210.6h1.7v1.7h-1.7zM378.0 210.0h1.7v1.7h-1.7zM378.2 210.0h1.7v1.7h-1.7zM378.1 208.9h1.7v1.7h-1.7zM378.3 209.4h1.7v1.7h-1.7zM378.1 208.4h1.7v1.7h-1.7zM378.0 207.6h1.7v1.7h-1.7zM378.1 202.2h1.7v1.7h-1.7zM379.1 230.3h1.7v1.7h-1.7zM379.1 228.8h1.7v1.7h-1.7zM379.1 228.1h1.7v1.7h-1.7zM379.0 228.3h1.7v1.7h-1.7zM379.0 226.7h1.7v1.7h-1.7zM379.1 224.7h1.7v1.7h-1.7zM379.0 225.6h1.7v1.7h-1.7zM379.0 223.9h1.7v1.7h-1.7zM379.2 213.3h1.7v1.7h-1.7zM380.1 220.0h1.7v1.7h-1.7zM380.1 219.2h1.7v1.7h-1.7zM380.2 219.3h1.7v1.7h-1.7zM380.3 218.2h1.7v1.7h-1.7zM380.1 217.4h1.7v1.7h-1.7zM380.2 217.6h1.7v1.7h-1.7zM380.2 217.6h1.7v1.7h-1.7zM380.2 216.2h1.7v1.7h-1.7zM380.2 214.2h1.7v1.7h-1.7zM380.3 213.9h1.7v1.7h-1.7zM380.2 213.2h1.7v1.7h-1.7zM380.2 211.3h1.7v1.7h-1.7zM380.2 211.3h1.7v1.7h-1.7zM380.3 209.2h1.7v1.7h-1.7zM380.1 207.8h1.7v1.7h-1.7zM380.2 206.0h1.7v1.7h-1.7zM380.2 205.1h1.7v1.7h-1.7zM380.0 203.2h1.7v1.7h-1.7zM381.1 216.4h1.7v1.7h-1.7zM381.2 215.5h1.7v1.7h-1.7zM381.0 214.8h1.7v1.7h-1.7zM381.2 215.1h1.7v1.7h-1.7zM381.2 214.6h1.7v1.7h-1.7zM381.2 213.7h1.7v1.7h-1.7zM381.2 212.0h1.7v1.7h-1.7zM381.3 212.4h1.7v1.7h-1.7zM381.1 211.5h1.7v1.7h-1.7zM381.3 210.8h1.7v1.7h-1.7zM381.2 211.2h1.7v1.7h-1.7zM381.1 211.2h1.7v1.7h-1.7zM381.2 210.3h1.7v1.7h-1.7zM381.2 210.2h1.7v1.7h-1.7zM381.3 209.1h1.7v1.7h-1.7zM381.2 208.8h1.7v1.7h-1.7zM381.2 205.8h1.7v1.7h-1.7zM381.2 205.7h1.7v1.7h-1.7zM381.3 205.0h1.7v1.7h-1.7zM381.3 205.3h1.7v1.7h-1.7zM381.0 202.0h1.7v1.7h-1.7zM381.2 200.8h1.7v1.7h-1.7zM382.2 223.3h1.7v1.7h-1.7zM382.0 222.9h1.7v1.7h-1.7zM382.2 219.5h1.7v1.7h-1.7zM382.2 218.1h1.7v1.7h-1.7zM382.2 218.1h1.7v1.7h-1.7zM382.3 217.5h1.7v1.7h-1.7zM382.0 217.5h1.7v1.7h-1.7zM382.2 216.0h1.7v1.7h-1.7zM382.2 213.7h1.7v1.7h-1.7zM382.2 213.5h1.7v1.7h-1.7zM382.3 208.9h1.7v1.7h-1.7zM382.1 208.5h1.7v1.7h-1.7zM382.1 205.8h1.7v1.7h-1.7zM382.0 203.5h1.7v1.7h-1.7zM382.1 198.5h1.7v1.7h-1.7zM382.1 194.3h1.7v1.7h-1.7zM383.1 203.4h1.7v1.7h-1.7zM383.1 202.7h1.7v1.7h-1.7zM383.2 203.0h1.7v1.7h-1.7zM383.1 203.6h1.7v1.7h-1.7zM383.1 201.9h1.7v1.7h-1.7zM383.0 202.1h1.7v1.7h-1.7zM383.3 200.6h1.7v1.7h-1.7zM383.2 199.3h1.7v1.7h-1.7zM383.2 197.7h1.7v1.7h-1.7zM383.2 198.6h1.7v1.7h-1.7zM383.2 198.1h1.7v1.7h-1.7zM383.3 195.1h1.7v1.7h-1.7zM383.1 195.5h1.7v1.7h-1.7zM383.2 194.0h1.7v1.7h-1.7zM383.1 191.9h1.7v1.7h-1.7zM383.2 192.6h1.7v1.7h-1.7zM383.0 189.1h1.7v1.7h-1.7zM383.0 189.5h1.7v1.7h-1.7zM383.1 187.7h1.7v1.7h-1.7zM383.1 188.6h1.7v1.7h-1.7zM383.2 186.2h1.7v1.7h-1.7zM383.2 185.5h1.7v1.7h-1.7zM383.3 185.0h1.7v1.7h-1.7zM384.1 210.3h1.7v1.7h-1.7zM384.2 209.5h1.7v1.7h-1.7zM384.2 208.3h1.7v1.7h-1.7zM384.3 208.6h1.7v1.7h-1.7zM384.1 207.6h1.7v1.7h-1.7zM384.3 206.7h1.7v1.7h-1.7zM384.2 205.6h1.7v1.7h-1.7zM384.1 204.4h1.7v1.7h-1.7zM384.2 202.1h1.7v1.7h-1.7zM384.1 199.8h1.7v1.7h-1.7zM384.0 199.7h1.7v1.7h-1.7zM384.1 199.9h1.7v1.7h-1.7zM384.2 192.8h1.7v1.7h-1.7zM384.1 193.5h1.7v1.7h-1.7zM384.0 187.5h1.7v1.7h-1.7zM384.0 184.7h1.7v1.7h-1.7zM385.1 216.4h1.7v1.7h-1.7zM385.1 214.8h1.7v1.7h-1.7zM385.1 214.4h1.7v1.7h-1.7zM385.2 214.4h1.7v1.7h-1.7zM385.3 214.0h1.7v1.7h-1.7zM385.1 213.3h1.7v1.7h-1.7zM385.1 211.9h1.7v1.7h-1.7zM385.0 205.0h1.7v1.7h-1.7zM385.1 203.1h1.7v1.7h-1.7zM385.1 199.9h1.7v1.7h-1.7zM385.0 199.3h1.7v1.7h-1.7zM385.0 193.1h1.7v1.7h-1.7zM385.1 189.2h1.7v1.7h-1.7zM386.1 220.0h1.7v1.7h-1.7zM386.3 219.5h1.7v1.7h-1.7zM386.1 218.8h1.7v1.7h-1.7zM386.1 217.1h1.7v1.7h-1.7zM386.1 215.2h1.7v1.7h-1.7zM386.1 213.0h1.7v1.7h-1.7zM386.2 212.4h1.7v1.7h-1.7zM386.1 211.3h1.7v1.7h-1.7zM386.1 210.7h1.7v1.7h-1.7zM386.1 204.0h1.7v1.7h-1.7zM386.0 193.8h1.7v1.7h-1.7zM387.0 230.5h1.7v1.7h-1.7zM387.1 227.8h1.7v1.7h-1.7zM387.2 225.8h1.7v1.7h-1.7zM387.1 223.0h1.7v1.7h-1.7zM387.1 219.4h1.7v1.7h-1.7zM387.1 218.1h1.7v1.7h-1.7zM387.2 211.7h1.7v1.7h-1.7zM388.0 214.4h1.7v1.7h-1.7zM388.2 214.5h1.7v1.7h-1.7zM388.2 214.0h1.7v1.7h-1.7zM388.1 212.7h1.7v1.7h-1.7zM388.2 213.6h1.7v1.7h-1.7zM388.0 213.5h1.7v1.7h-1.7zM388.2 211.9h1.7v1.7h-1.7zM388.2 212.3h1.7v1.7h-1.7zM388.0 210.9h1.7v1.7h-1.7zM388.1 211.0h1.7v1.7h-1.7zM388.0 211.2h1.7v1.7h-1.7zM388.3 209.8h1.7v1.7h-1.7zM388.1 208.5h1.7v1.7h-1.7zM388.3 208.2h1.7v1.7h-1.7zM388.3 205.9h1.7v1.7h-1.7zM388.2 205.0h1.7v1.7h-1.7zM388.2 201.4h1.7v1.7h-1.7zM388.2 200.6h1.7v1.7h-1.7zM388.2 195.7h1.7v1.7h-1.7zM388.2 194.6h1.7v1.7h-1.7zM388.2 194.6h1.7v1.7h-1.7zM388.1 188.0h1.7v1.7h-1.7zM389.3 216.6h1.7v1.7h-1.7zM389.1 216.1h1.7v1.7h-1.7zM389.0 215.6h1.7v1.7h-1.7zM389.3 215.2h1.7v1.7h-1.7zM389.1 214.9h1.7v1.7h-1.7zM389.2 212.6h1.7v1.7h-1.7zM389.3 210.8h1.7v1.7h-1.7zM389.0 210.6h1.7v1.7h-1.7zM389.3 210.1h1.7v1.7h-1.7zM389.1 207.3h1.7v1.7h-1.7zM389.1 205.5h1.7v1.7h-1.7zM389.2 204.9h1.7v1.7h-1.7zM389.2 205.6h1.7v1.7h-1.7zM390.2 219.4h1.7v1.7h-1.7zM390.1 218.7h1.7v1.7h-1.7zM390.2 218.3h1.7v1.7h-1.7zM390.0 217.2h1.7v1.7h-1.7zM390.3 216.9h1.7v1.7h-1.7zM390.2 215.8h1.7v1.7h-1.7zM390.3 216.6h1.7v1.7h-1.7zM390.0 216.0h1.7v1.7h-1.7zM390.1 216.1h1.7v1.7h-1.7zM390.2 215.4h1.7v1.7h-1.7zM390.1 212.1h1.7v1.7h-1.7zM390.2 211.8h1.7v1.7h-1.7zM390.1 212.6h1.7v1.7h-1.7zM390.2 210.9h1.7v1.7h-1.7zM390.0 210.7h1.7v1.7h-1.7zM390.1 206.4h1.7v1.7h-1.7zM390.3 205.4h1.7v1.7h-1.7zM390.2 198.3h1.7v1.7h-1.7zM403.7 210.9h1.7v1.7h-1.7zM403.5 210.0h1.7v1.7h-1.7zM403.6 208.9h1.7v1.7h-1.7zM403.7 208.9h1.7v1.7h-1.7zM403.6 208.0h1.7v1.7h-1.7zM403.6 208.0h1.7v1.7h-1.7zM403.6 207.5h1.7v1.7h-1.7zM403.7 201.5h1.7v1.7h-1.7zM403.6 197.5h1.7v1.7h-1.7zM403.7 197.5h1.7v1.7h-1.7zM404.6 211.4h1.7v1.7h-1.7zM404.8 209.7h1.7v1.7h-1.7zM404.6 210.2h1.7v1.7h-1.7zM404.6 208.7h1.7v1.7h-1.7zM404.5 208.8h1.7v1.7h-1.7zM404.7 207.9h1.7v1.7h-1.7zM404.7 208.2h1.7v1.7h-1.7zM404.6 207.8h1.7v1.7h-1.7zM404.7 207.1h1.7v1.7h-1.7zM404.8 207.0h1.7v1.7h-1.7zM404.6 204.1h1.7v1.7h-1.7zM404.7 197.8h1.7v1.7h-1.7zM404.6 197.0h1.7v1.7h-1.7zM404.8 195.7h1.7v1.7h-1.7zM404.8 196.0h1.7v1.7h-1.7zM404.6 184.9h1.7v1.7h-1.7zM405.6 218.2h1.7v1.7h-1.7zM405.6 218.2h1.7v1.7h-1.7zM405.8 218.2h1.7v1.7h-1.7zM405.6 217.5h1.7v1.7h-1.7zM405.5 217.0h1.7v1.7h-1.7zM405.7 216.5h1.7v1.7h-1.7zM405.7 214.7h1.7v1.7h-1.7zM405.8 214.9h1.7v1.7h-1.7zM405.6 215.0h1.7v1.7h-1.7zM405.5 212.7h1.7v1.7h-1.7zM405.7 212.5h1.7v1.7h-1.7zM405.5 204.9h1.7v1.7h-1.7zM405.6 205.1h1.7v1.7h-1.7zM405.7 199.2h1.7v1.7h-1.7zM405.8 197.4h1.7v1.7h-1.7zM405.5 194.7h1.7v1.7h-1.7zM405.6 193.5h1.7v1.7h-1.7zM406.7 214.2h1.7v1.7h-1.7zM406.5 213.3h1.7v1.7h-1.7zM406.8 212.8h1.7v1.7h-1.7zM406.7 213.4h1.7v1.7h-1.7zM406.8 213.2h1.7v1.7h-1.7zM406.8 212.6h1.7v1.7h-1.7zM406.5 211.5h1.7v1.7h-1.7zM406.8 209.8h1.7v1.7h-1.7zM406.5 209.5h1.7v1.7h-1.7zM406.8 209.0h1.7v1.7h-1.7zM406.6 208.0h1.7v1.7h-1.7zM406.5 207.4h1.7v1.7h-1.7zM406.7 202.4h1.7v1.7h-1.7zM406.7 199.1h1.7v1.7h-1.7zM406.6 199.4h1.7v1.7h-1.7zM406.8 194.8h1.7v1.7h-1.7zM406.7 194.8h1.7v1.7h-1.7zM406.5 192.4h1.7v1.7h-1.7zM406.6 185.8h1.7v1.7h-1.7zM406.6 184.9h1.7v1.7h-1.7zM407.5 209.8h1.7v1.7h-1.7zM407.7 210.2h1.7v1.7h-1.7zM407.7 210.4h1.7v1.7h-1.7zM407.8 208.3h1.7v1.7h-1.7zM407.8 208.2h1.7v1.7h-1.7zM407.6 208.1h1.7v1.7h-1.7zM407.8 208.5h1.7v1.7h-1.7zM407.7 206.2h1.7v1.7h-1.7zM407.7 206.0h1.7v1.7h-1.7zM407.6 204.7h1.7v1.7h-1.7zM407.6 205.1h1.7v1.7h-1.7zM407.8 204.6h1.7v1.7h-1.7zM407.5 203.0h1.7v1.7h-1.7zM407.6 200.0h1.7v1.7h-1.7zM407.6 198.6h1.7v1.7h-1.7zM407.8 197.7h1.7v1.7h-1.7zM407.8 196.1h1.7v1.7h-1.7zM408.7 211.3h1.7v1.7h-1.7zM408.5 211.0h1.7v1.7h-1.7zM408.7 211.6h1.7v1.7h-1.7zM408.6 210.5h1.7v1.7h-1.7zM408.5 208.7h1.7v1.7h-1.7zM408.6 206.7h1.7v1.7h-1.7zM408.7 204.1h1.7v1.7h-1.7zM408.6 203.8h1.7v1.7h-1.7zM408.6 202.8h1.7v1.7h-1.7zM408.7 199.4h1.7v1.7h-1.7zM408.7 195.2h1.7v1.7h-1.7zM408.5 184.2h1.7v1.7h-1.7zM409.6 227.2h1.7v1.7h-1.7zM409.6 225.3h1.7v1.7h-1.7zM409.6 225.6h1.7v1.7h-1.7zM409.8 223.3h1.7v1.7h-1.7zM409.5 221.2h1.7v1.7h-1.7zM409.6 218.5h1.7v1.7h-1.7zM409.6 218.6h1.7v1.7h-1.7zM409.7 217.2h1.7v1.7h-1.7zM409.7 217.3h1.7v1.7h-1.7zM409.7 215.9h1.7v1.7h-1.7zM409.5 199.6h1.7v1.7h-1.7zM409.7 196.3h1.7v1.7h-1.7zM410.6 226.4h1.7v1.7h-1.7zM410.6 226.5h1.7v1.7h-1.7zM410.7 225.1h1.7v1.7h-1.7zM410.5 225.6h1.7v1.7h-1.7zM410.5 224.9h1.7v1.7h-1.7zM410.7 224.7h1.7v1.7h-1.7zM410.8 224.8h1.7v1.7h-1.7zM410.5 223.8h1.7v1.7h-1.7zM410.7 223.4h1.7v1.7h-1.7zM410.5 223.3h1.7v1.7h-1.7zM410.7 221.2h1.7v1.7h-1.7zM410.6 220.2h1.7v1.7h-1.7zM410.6 218.2h1.7v1.7h-1.7zM410.7 215.3h1.7v1.7h-1.7zM410.6 215.6h1.7v1.7h-1.7zM410.6 213.3h1.7v1.7h-1.7zM410.7 212.4h1.7v1.7h-1.7zM411.6 219.2h1.7v1.7h-1.7zM411.6 218.8h1.7v1.7h-1.7zM411.5 217.9h1.7v1.7h-1.7zM411.8 218.2h1.7v1.7h-1.7zM411.7 217.0h1.7v1.7h-1.7zM411.7 216.1h1.7v1.7h-1.7zM411.6 216.5h1.7v1.7h-1.7zM411.7 214.2h1.7v1.7h-1.7zM411.7 213.2h1.7v1.7h-1.7zM411.7 213.6h1.7v1.7h-1.7zM411.7 212.1h1.7v1.7h-1.7zM411.5 211.6h1.7v1.7h-1.7zM411.7 211.2h1.7v1.7h-1.7zM411.5 205.6h1.7v1.7h-1.7zM411.7 204.9h1.7v1.7h-1.7zM411.6 203.4h1.7v1.7h-1.7zM411.5 202.7h1.7v1.7h-1.7zM411.5 202.9h1.7v1.7h-1.7zM411.8 201.8h1.7v1.7h-1.7zM411.7 200.1h1.7v1.7h-1.7zM411.6 198.4h1.7v1.7h-1.7zM411.5 188.9h1.7v1.7h-1.7zM412.7 220.6h1.7v1.7h-1.7zM412.7 220.2h1.7v1.7h-1.7zM412.7 219.7h1.7v1.7h-1.7zM412.6 219.1h1.7v1.7h-1.7zM412.7 218.9h1.7v1.7h-1.7zM412.6 218.2h1.7v1.7h-1.7zM412.5 216.7h1.7v1.7h-1.7zM412.8 216.1h1.7v1.7h-1.7zM412.6 215.9h1.7v1.7h-1.7zM412.7 213.9h1.7v1.7h-1.7zM412.7 213.3h1.7v1.7h-1.7zM412.6 212.8h1.7v1.7h-1.7zM412.8 212.1h1.7v1.7h-1.7zM412.6 211.3h1.7v1.7h-1.7zM412.6 211.4h1.7v1.7h-1.7zM412.7 205.4h1.7v1.7h-1.7zM412.7 203.7h1.7v1.7h-1.7zM412.6 203.2h1.7v1.7h-1.7zM412.7 202.8h1.7v1.7h-1.7zM412.6 201.1h1.7v1.7h-1.7zM412.6 196.0h1.7v1.7h-1.7zM413.7 208.4h1.7v1.7h-1.7zM413.8 206.6h1.7v1.7h-1.7zM413.6 206.0h1.7v1.7h-1.7zM413.7 204.7h1.7v1.7h-1.7zM413.6 204.3h1.7v1.7h-1.7zM413.6 204.1h1.7v1.7h-1.7zM413.6 203.9h1.7v1.7h-1.7zM413.8 203.2h1.7v1.7h-1.7zM413.7 202.3h1.7v1.7h-1.7zM413.6 200.8h1.7v1.7h-1.7zM413.8 200.6h1.7v1.7h-1.7zM413.7 200.5h1.7v1.7h-1.7zM413.6 195.3h1.7v1.7h-1.7zM413.7 193.0h1.7v1.7h-1.7zM413.6 190.0h1.7v1.7h-1.7zM413.7 185.7h1.7v1.7h-1.7zM413.7 185.8h1.7v1.7h-1.7zM413.5 184.0h1.7v1.7h-1.7zM414.7 216.5h1.7v1.7h-1.7zM414.7 215.7h1.7v1.7h-1.7zM414.7 213.7h1.7v1.7h-1.7zM414.8 213.9h1.7v1.7h-1.7zM414.6 213.6h1.7v1.7h-1.7zM414.6 213.1h1.7v1.7h-1.7zM414.5 212.6h1.7v1.7h-1.7zM414.8 210.5h1.7v1.7h-1.7zM414.8 208.6h1.7v1.7h-1.7zM414.6 206.7h1.7v1.7h-1.7zM414.7 207.4h1.7v1.7h-1.7zM414.6 205.4h1.7v1.7h-1.7zM414.6 205.6h1.7v1.7h-1.7zM414.6 202.2h1.7v1.7h-1.7zM414.5 202.4h1.7v1.7h-1.7zM414.5 196.7h1.7v1.7h-1.7zM414.7 185.3h1.7v1.7h-1.7zM415.6 213.7h1.7v1.7h-1.7zM415.7 213.7h1.7v1.7h-1.7zM415.5 213.0h1.7v1.7h-1.7zM415.7 212.3h1.7v1.7h-1.7zM415.6 212.1h1.7v1.7h-1.7zM415.8 211.5h1.7v1.7h-1.7zM415.7 204.8h1.7v1.7h-1.7zM415.6 202.9h1.7v1.7h-1.7zM415.6 197.9h1.7v1.7h-1.7zM415.8 195.0h1.7v1.7h-1.7zM415.8 195.2h1.7v1.7h-1.7zM429.1 214.8h1.7v1.7h-1.7zM429.0 214.7h1.7v1.7h-1.7zM429.3 215.1h1.7v1.7h-1.7zM429.2 213.7h1.7v1.7h-1.7zM429.1 212.8h1.7v1.7h-1.7zM429.2 210.8h1.7v1.7h-1.7zM429.2 210.8h1.7v1.7h-1.7zM429.1 210.5h1.7v1.7h-1.7zM429.2 209.9h1.7v1.7h-1.7zM429.2 210.5h1.7v1.7h-1.7zM429.2 208.9h1.7v1.7h-1.7zM429.0 205.1h1.7v1.7h-1.7zM429.0 203.9h1.7v1.7h-1.7zM429.3 202.2h1.7v1.7h-1.7zM429.2 197.7h1.7v1.7h-1.7zM429.2 196.4h1.7v1.7h-1.7zM429.2 195.7h1.7v1.7h-1.7zM429.1 193.9h1.7v1.7h-1.7zM429.0 189.1h1.7v1.7h-1.7zM430.3 208.7h1.7v1.7h-1.7zM430.2 206.6h1.7v1.7h-1.7zM430.1 206.5h1.7v1.7h-1.7zM430.0 206.0h1.7v1.7h-1.7zM430.1 205.3h1.7v1.7h-1.7zM430.0 204.6h1.7v1.7h-1.7zM430.1 204.2h1.7v1.7h-1.7zM430.0 202.9h1.7v1.7h-1.7zM430.2 203.3h1.7v1.7h-1.7zM430.1 200.5h1.7v1.7h-1.7zM430.3 199.5h1.7v1.7h-1.7zM430.2 199.2h1.7v1.7h-1.7zM430.3 197.0h1.7v1.7h-1.7zM430.2 196.0h1.7v1.7h-1.7zM430.1 193.7h1.7v1.7h-1.7zM430.3 194.5h1.7v1.7h-1.7zM431.2 226.4h1.7v1.7h-1.7zM431.2 225.8h1.7v1.7h-1.7zM431.0 224.9h1.7v1.7h-1.7zM431.3 225.0h1.7v1.7h-1.7zM431.1 225.3h1.7v1.7h-1.7zM431.3 224.6h1.7v1.7h-1.7zM431.3 224.3h1.7v1.7h-1.7zM431.1 224.1h1.7v1.7h-1.7zM431.2 223.9h1.7v1.7h-1.7zM431.2 222.9h1.7v1.7h-1.7zM431.1 220.4h1.7v1.7h-1.7zM431.2 220.0h1.7v1.7h-1.7zM431.1 219.8h1.7v1.7h-1.7zM431.1 219.2h1.7v1.7h-1.7zM431.3 218.4h1.7v1.7h-1.7zM431.0 216.0h1.7v1.7h-1.7zM431.2 215.1h1.7v1.7h-1.7zM431.1 213.6h1.7v1.7h-1.7zM431.3 212.1h1.7v1.7h-1.7zM431.1 211.5h1.7v1.7h-1.7zM431.1 211.4h1.7v1.7h-1.7zM431.2 203.0h1.7v1.7h-1.7zM432.3 215.3h1.7v1.7h-1.7zM432.1 215.2h1.7v1.7h-1.7zM432.2 215.3h1.7v1.7h-1.7zM432.0 213.8h1.7v1.7h-1.7zM432.2 214.1h1.7v1.7h-1.7zM432.1 214.1h1.7v1.7h-1.7zM432.2 214.1h1.7v1.7h-1.7zM432.1 212.6h1.7v1.7h-1.7zM432.1 210.2h1.7v1.7h-1.7zM432.0 209.8h1.7v1.7h-1.7zM432.1 206.7h1.7v1.7h-1.7zM433.2 210.2h1.7v1.7h-1.7zM433.1 209.4h1.7v1.7h-1.7zM433.1 207.9h1.7v1.7h-1.7zM433.1 207.9h1.7v1.7h-1.7zM433.2 207.6h1.7v1.7h-1.7zM433.3 207.5h1.7v1.7h-1.7zM433.0 205.2h1.7v1.7h-1.7zM433.2 205.2h1.7v1.7h-1.7zM433.1 205.1h1.7v1.7h-1.7zM433.2 200.6h1.7v1.7h-1.7zM433.1 199.0h1.7v1.7h-1.7zM433.3 199.1h1.7v1.7h-1.7zM433.2 197.8h1.7v1.7h-1.7zM433.1 191.7h1.7v1.7h-1.7zM433.2 185.1h1.7v1.7h-1.7zM434.1 224.9h1.7v1.7h-1.7zM434.1 225.5h1.7v1.7h-1.7zM434.1 225.5h1.7v1.7h-1.7zM434.0 223.7h1.7v1.7h-1.7zM434.1 223.9h1.7v1.7h-1.7zM434.3 222.8h1.7v1.7h-1.7zM434.1 222.4h1.7v1.7h-1.7zM434.0 222.0h1.7v1.7h-1.7zM434.0 222.1h1.7v1.7h-1.7zM434.1 221.6h1.7v1.7h-1.7zM434.2 218.9h1.7v1.7h-1.7zM434.3 217.4h1.7v1.7h-1.7zM434.2 202.2h1.7v1.7h-1.7zM434.0 191.2h1.7v1.7h-1.7zM435.2 227.5h1.7v1.7h-1.7zM435.2 227.1h1.7v1.7h-1.7zM435.1 225.9h1.7v1.7h-1.7zM435.1 226.0h1.7v1.7h-1.7zM435.2 226.2h1.7v1.7h-1.7zM435.0 226.4h1.7v1.7h-1.7zM435.0 226.3h1.7v1.7h-1.7zM435.2 225.5h1.7v1.7h-1.7zM435.1 224.6h1.7v1.7h-1.7zM435.0 222.7h1.7v1.7h-1.7zM435.2 222.3h1.7v1.7h-1.7zM435.2 222.1h1.7v1.7h-1.7zM435.1 222.1h1.7v1.7h-1.7zM435.2 219.9h1.7v1.7h-1.7zM435.2 205.9h1.7v1.7h-1.7zM435.2 198.7h1.7v1.7h-1.7zM435.2 197.6h1.7v1.7h-1.7zM436.0 222.8h1.7v1.7h-1.7zM436.2 222.5h1.7v1.7h-1.7zM436.3 220.9h1.7v1.7h-1.7zM436.2 219.7h1.7v1.7h-1.7zM436.1 218.9h1.7v1.7h-1.7zM436.1 219.2h1.7v1.7h-1.7zM436.2 217.7h1.7v1.7h-1.7zM436.2 218.5h1.7v1.7h-1.7zM436.1 216.4h1.7v1.7h-1.7zM436.2 214.2h1.7v1.7h-1.7zM436.1 213.2h1.7v1.7h-1.7zM436.3 213.5h1.7v1.7h-1.7zM436.2 212.1h1.7v1.7h-1.7zM436.2 211.3h1.7v1.7h-1.7zM436.3 209.6h1.7v1.7h-1.7zM436.1 207.7h1.7v1.7h-1.7zM436.3 208.3h1.7v1.7h-1.7zM436.2 205.9h1.7v1.7h-1.7zM436.3 202.1h1.7v1.7h-1.7zM436.1 199.8h1.7v1.7h-1.7zM436.0 199.6h1.7v1.7h-1.7zM436.1 197.1h1.7v1.7h-1.7zM436.0 195.3h1.7v1.7h-1.7zM437.3 220.8h1.7v1.7h-1.7zM437.2 220.5h1.7v1.7h-1.7zM437.2 219.3h1.7v1.7h-1.7zM437.2 218.9h1.7v1.7h-1.7zM437.2 218.7h1.7v1.7h-1.7zM437.1 218.1h1.7v1.7h-1.7zM437.1 217.5h1.7v1.7h-1.7zM437.2 213.8h1.7v1.7h-1.7zM437.0 213.0h1.7v1.7h-1.7zM437.0 211.1h1.7v1.7h-1.7zM437.0 207.6h1.7v1.7h-1.7zM437.3 206.6h1.7v1.7h-1.7zM437.3 204.9h1.7v1.7h-1.7zM437.3 205.0h1.7v1.7h-1.7zM437.1 199.5h1.7v1.7h-1.7zM437.2 199.4h1.7v1.7h-1.7zM437.0 197.3h1.7v1.7h-1.7zM437.2 190.0h1.7v1.7h-1.7zM437.2 189.0h1.7v1.7h-1.7zM437.0 188.1h1.7v1.7h-1.7zM438.3 225.2h1.7v1.7h-1.7zM438.2 225.1h1.7v1.7h-1.7zM438.1 224.3h1.7v1.7h-1.7zM438.3 224.0h1.7v1.7h-1.7zM438.1 223.4h1.7v1.7h-1.7zM438.2 222.2h1.7v1.7h-1.7zM438.1 222.6h1.7v1.7h-1.7zM438.1 220.1h1.7v1.7h-1.7zM438.2 219.4h1.7v1.7h-1.7zM438.1 219.4h1.7v1.7h-1.7zM438.1 218.1h1.7v1.7h-1.7zM438.0 217.7h1.7v1.7h-1.7zM438.2 215.7h1.7v1.7h-1.7zM438.3 216.2h1.7v1.7h-1.7zM438.2 211.2h1.7v1.7h-1.7zM438.1 210.9h1.7v1.7h-1.7zM438.2 207.4h1.7v1.7h-1.7zM438.2 206.2h1.7v1.7h-1.7zM438.1 206.4h1.7v1.7h-1.7zM438.1 202.1h1.7v1.7h-1.7zM439.2 232.3h1.7v1.7h-1.7zM439.2 231.0h1.7v1.7h-1.7zM439.1 203.7h1.7v1.7h-1.7zM449.0 205.3h1.7v1.7h-1.7zM449.0 203.1h1.7v1.7h-1.7zM449.1 201.6h1.7v1.7h-1.7zM449.0 201.0h1.7v1.7h-1.7zM449.1 198.4h1.7v1.7h-1.7zM449.1 197.8h1.7v1.7h-1.7zM449.2 190.9h1.7v1.7h-1.7zM449.1 189.7h1.7v1.7h-1.7zM448.9 187.8h1.7v1.7h-1.7zM450.2 213.6h1.7v1.7h-1.7zM450.1 212.8h1.7v1.7h-1.7zM450.1 211.9h1.7v1.7h-1.7zM450.0 211.4h1.7v1.7h-1.7zM450.2 210.4h1.7v1.7h-1.7zM450.0 209.1h1.7v1.7h-1.7zM450.1 206.8h1.7v1.7h-1.7zM450.1 205.7h1.7v1.7h-1.7zM450.0 204.7h1.7v1.7h-1.7zM450.0 205.1h1.7v1.7h-1.7zM449.9 205.4h1.7v1.7h-1.7zM450.0 202.2h1.7v1.7h-1.7zM450.0 201.3h1.7v1.7h-1.7zM450.1 200.8h1.7v1.7h-1.7zM450.2 199.2h1.7v1.7h-1.7zM449.9 197.0h1.7v1.7h-1.7zM450.0 197.6h1.7v1.7h-1.7zM450.2 194.0h1.7v1.7h-1.7zM450.1 191.8h1.7v1.7h-1.7zM450.9 209.4h1.7v1.7h-1.7zM450.9 208.9h1.7v1.7h-1.7zM451.0 209.3h1.7v1.7h-1.7zM451.1 209.2h1.7v1.7h-1.7zM451.0 208.1h1.7v1.7h-1.7zM451.1 208.6h1.7v1.7h-1.7zM451.0 207.2h1.7v1.7h-1.7zM451.0 206.8h1.7v1.7h-1.7zM451.0 206.0h1.7v1.7h-1.7zM451.1 205.8h1.7v1.7h-1.7zM451.1 202.7h1.7v1.7h-1.7zM451.1 202.6h1.7v1.7h-1.7zM451.2 201.4h1.7v1.7h-1.7zM451.1 199.0h1.7v1.7h-1.7zM450.9 195.5h1.7v1.7h-1.7zM451.0 194.4h1.7v1.7h-1.7zM450.9 193.5h1.7v1.7h-1.7zM451.1 190.0h1.7v1.7h-1.7zM451.2 183.9h1.7v1.7h-1.7zM451.9 209.4h1.7v1.7h-1.7zM452.1 209.5h1.7v1.7h-1.7zM452.0 205.4h1.7v1.7h-1.7zM451.9 204.5h1.7v1.7h-1.7zM452.1 203.4h1.7v1.7h-1.7zM452.1 202.6h1.7v1.7h-1.7zM451.9 198.7h1.7v1.7h-1.7zM452.1 191.0h1.7v1.7h-1.7zM453.1 207.9h1.7v1.7h-1.7zM453.1 208.4h1.7v1.7h-1.7zM453.1 206.3h1.7v1.7h-1.7zM453.1 206.2h1.7v1.7h-1.7zM453.1 206.5h1.7v1.7h-1.7zM453.2 205.6h1.7v1.7h-1.7zM453.0 203.7h1.7v1.7h-1.7zM453.1 204.6h1.7v1.7h-1.7zM453.0 203.6h1.7v1.7h-1.7zM453.1 200.5h1.7v1.7h-1.7zM452.9 199.9h1.7v1.7h-1.7zM453.1 198.6h1.7v1.7h-1.7zM453.0 197.3h1.7v1.7h-1.7zM453.0 194.6h1.7v1.7h-1.7zM453.0 194.4h1.7v1.7h-1.7zM452.9 189.7h1.7v1.7h-1.7zM453.0 185.1h1.7v1.7h-1.7zM454.2 209.1h1.7v1.7h-1.7zM454.2 208.9h1.7v1.7h-1.7zM454.0 209.0h1.7v1.7h-1.7zM454.1 208.3h1.7v1.7h-1.7zM454.0 208.0h1.7v1.7h-1.7zM454.0 207.1h1.7v1.7h-1.7zM454.1 206.6h1.7v1.7h-1.7zM454.0 205.7h1.7v1.7h-1.7zM454.0 205.2h1.7v1.7h-1.7zM454.1 204.0h1.7v1.7h-1.7zM453.9 203.0h1.7v1.7h-1.7zM454.1 202.4h1.7v1.7h-1.7zM454.1 201.5h1.7v1.7h-1.7zM454.1 201.6h1.7v1.7h-1.7zM454.1 199.4h1.7v1.7h-1.7zM454.2 191.7h1.7v1.7h-1.7zM454.0 190.5h1.7v1.7h-1.7zM455.0 210.4h1.7v1.7h-1.7zM455.0 209.7h1.7v1.7h-1.7zM455.1 210.3h1.7v1.7h-1.7zM455.0 208.6h1.7v1.7h-1.7zM455.2 206.9h1.7v1.7h-1.7zM454.9 207.1h1.7v1.7h-1.7zM455.2 207.5h1.7v1.7h-1.7zM455.0 206.1h1.7v1.7h-1.7zM454.9 205.1h1.7v1.7h-1.7zM455.1 203.7h1.7v1.7h-1.7zM455.1 202.7h1.7v1.7h-1.7zM455.2 203.1h1.7v1.7h-1.7zM455.1 202.4h1.7v1.7h-1.7zM454.9 199.3h1.7v1.7h-1.7zM455.1 197.9h1.7v1.7h-1.7zM454.9 195.1h1.7v1.7h-1.7zM456.1 218.6h1.7v1.7h-1.7zM456.2 217.7h1.7v1.7h-1.7zM456.1 215.4h1.7v1.7h-1.7zM456.0 214.5h1.7v1.7h-1.7zM456.1 213.2h1.7v1.7h-1.7zM456.0 212.5h1.7v1.7h-1.7zM456.2 212.1h1.7v1.7h-1.7zM456.2 209.2h1.7v1.7h-1.7zM456.2 208.2h1.7v1.7h-1.7zM456.0 206.0h1.7v1.7h-1.7zM456.1 203.4h1.7v1.7h-1.7zM456.9 212.7h1.7v1.7h-1.7zM456.9 211.1h1.7v1.7h-1.7zM457.1 210.4h1.7v1.7h-1.7zM457.0 209.8h1.7v1.7h-1.7zM457.1 208.4h1.7v1.7h-1.7zM456.9 207.7h1.7v1.7h-1.7zM457.0 208.0h1.7v1.7h-1.7zM457.1 205.9h1.7v1.7h-1.7zM457.1 201.4h1.7v1.7h-1.7zM456.9 199.7h1.7v1.7h-1.7zM457.0 200.2h1.7v1.7h-1.7zM457.1 199.6h1.7v1.7h-1.7zM457.1 198.7h1.7v1.7h-1.7zM457.1 194.2h1.7v1.7h-1.7zM457.0 193.5h1.7v1.7h-1.7zM457.2 190.6h1.7v1.7h-1.7zM457.1 190.5h1.7v1.7h-1.7zM458.2 212.0h1.7v1.7h-1.7zM458.0 212.4h1.7v1.7h-1.7zM458.1 211.6h1.7v1.7h-1.7zM458.2 211.6h1.7v1.7h-1.7zM458.2 211.0h1.7v1.7h-1.7zM458.0 210.2h1.7v1.7h-1.7zM458.0 210.4h1.7v1.7h-1.7zM458.1 209.3h1.7v1.7h-1.7zM458.1 208.5h1.7v1.7h-1.7zM458.1 208.1h1.7v1.7h-1.7zM457.9 205.5h1.7v1.7h-1.7zM458.0 202.8h1.7v1.7h-1.7zM458.0 201.4h1.7v1.7h-1.7zM458.2 200.1h1.7v1.7h-1.7zM457.9 198.4h1.7v1.7h-1.7zM458.1 194.6h1.7v1.7h-1.7zM458.1 191.7h1.7v1.7h-1.7zM457.9 192.3h1.7v1.7h-1.7zM459.2 222.3h1.7v1.7h-1.7zM459.1 220.8h1.7v1.7h-1.7zM459.1 219.4h1.7v1.7h-1.7zM459.2 213.1h1.7v1.7h-1.7zM459.1 208.9h1.7v1.7h-1.7zM459.2 197.3h1.7v1.7h-1.7zM467.7 205.1h1.7v1.7h-1.7zM467.7 204.8h1.7v1.7h-1.7zM468.0 205.6h1.7v1.7h-1.7zM467.7 204.9h1.7v1.7h-1.7zM468.0 204.7h1.7v1.7h-1.7zM467.8 204.0h1.7v1.7h-1.7zM467.7 203.0h1.7v1.7h-1.7zM467.7 203.0h1.7v1.7h-1.7zM467.9 200.7h1.7v1.7h-1.7zM467.9 199.7h1.7v1.7h-1.7zM467.8 199.9h1.7v1.7h-1.7zM467.8 199.2h1.7v1.7h-1.7zM467.7 199.2h1.7v1.7h-1.7zM467.8 197.0h1.7v1.7h-1.7zM467.9 196.8h1.7v1.7h-1.7zM467.9 196.4h1.7v1.7h-1.7zM468.0 195.2h1.7v1.7h-1.7zM467.8 194.0h1.7v1.7h-1.7zM468.0 193.0h1.7v1.7h-1.7zM467.9 193.0h1.7v1.7h-1.7zM467.8 192.7h1.7v1.7h-1.7zM467.8 191.8h1.7v1.7h-1.7zM467.8 187.3h1.7v1.7h-1.7zM467.8 187.0h1.7v1.7h-1.7zM467.9 184.2h1.7v1.7h-1.7zM467.8 184.4h1.7v1.7h-1.7zM468.7 210.1h1.7v1.7h-1.7zM468.9 210.6h1.7v1.7h-1.7zM468.8 209.4h1.7v1.7h-1.7zM468.8 209.1h1.7v1.7h-1.7zM468.7 208.3h1.7v1.7h-1.7zM469.0 207.5h1.7v1.7h-1.7zM468.8 205.8h1.7v1.7h-1.7zM468.8 205.6h1.7v1.7h-1.7zM469.0 204.0h1.7v1.7h-1.7zM468.8 204.5h1.7v1.7h-1.7zM468.9 203.7h1.7v1.7h-1.7zM469.0 204.6h1.7v1.7h-1.7zM468.9 204.5h1.7v1.7h-1.7zM469.0 203.6h1.7v1.7h-1.7zM468.8 203.1h1.7v1.7h-1.7zM468.8 203.2h1.7v1.7h-1.7zM468.8 201.9h1.7v1.7h-1.7zM468.9 197.1h1.7v1.7h-1.7zM468.8 190.7h1.7v1.7h-1.7zM468.8 190.9h1.7v1.7h-1.7zM469.8 208.3h1.7v1.7h-1.7zM469.9 207.3h1.7v1.7h-1.7zM469.7 205.8h1.7v1.7h-1.7zM470.0 205.6h1.7v1.7h-1.7zM469.9 204.1h1.7v1.7h-1.7zM469.9 200.8h1.7v1.7h-1.7zM469.9 201.2h1.7v1.7h-1.7zM469.8 200.4h1.7v1.7h-1.7zM469.9 190.4h1.7v1.7h-1.7zM470.9 205.6h1.7v1.7h-1.7zM470.9 203.5h1.7v1.7h-1.7zM470.9 203.3h1.7v1.7h-1.7zM470.7 202.7h1.7v1.7h-1.7zM470.8 201.3h1.7v1.7h-1.7zM470.9 199.7h1.7v1.7h-1.7zM471.0 197.2h1.7v1.7h-1.7zM470.8 194.5h1.7v1.7h-1.7zM470.8 188.7h1.7v1.7h-1.7zM470.9 188.6h1.7v1.7h-1.7zM470.7 184.5h1.7v1.7h-1.7zM471.7 209.5h1.7v1.7h-1.7zM472.0 208.7h1.7v1.7h-1.7zM471.8 208.3h1.7v1.7h-1.7zM471.7 206.9h1.7v1.7h-1.7zM471.7 206.7h1.7v1.7h-1.7zM472.0 205.8h1.7v1.7h-1.7zM471.7 205.0h1.7v1.7h-1.7zM471.7 204.1h1.7v1.7h-1.7zM471.8 203.2h1.7v1.7h-1.7zM471.9 203.1h1.7v1.7h-1.7zM471.9 201.7h1.7v1.7h-1.7zM471.8 200.9h1.7v1.7h-1.7zM471.7 200.7h1.7v1.7h-1.7zM471.7 199.5h1.7v1.7h-1.7zM472.0 199.4h1.7v1.7h-1.7zM472.0 196.7h1.7v1.7h-1.7zM471.7 195.5h1.7v1.7h-1.7zM471.7 188.7h1.7v1.7h-1.7zM471.9 188.0h1.7v1.7h-1.7zM472.0 186.9h1.7v1.7h-1.7zM471.9 187.1h1.7v1.7h-1.7zM472.9 210.3h1.7v1.7h-1.7zM472.7 206.3h1.7v1.7h-1.7zM472.9 206.2h1.7v1.7h-1.7zM472.9 206.1h1.7v1.7h-1.7zM472.7 202.6h1.7v1.7h-1.7zM472.7 200.4h1.7v1.7h-1.7zM473.0 195.4h1.7v1.7h-1.7zM472.7 194.5h1.7v1.7h-1.7zM473.0 193.4h1.7v1.7h-1.7zM472.7 190.2h1.7v1.7h-1.7zM86.1 135.3h1.7v1.7h-1.7zM86.1 137.2h1.7v1.7h-1.7zM86.1 145.8h1.7v1.7h-1.7zM90.0 158.5h1.7v1.7h-1.7zM90.0 166.8h1.7v1.7h-1.7zM90.0 170.0h1.7v1.7h-1.7zM90.0 171.8h1.7v1.7h-1.7zM90.0 174.3h1.7v1.7h-1.7zM90.0 177.5h1.7v1.7h-1.7zM90.0 184.2h1.7v1.7h-1.7zM106.5 151.7h1.7v1.7h-1.7zM106.5 161.1h1.7v1.7h-1.7zM111.2 167.2h1.7v1.7h-1.7zM111.2 178.5h1.7v1.7h-1.7zM115.8 167.2h1.7v1.7h-1.7zM118.7 168.2h1.7v1.7h-1.7zM100.8 175.0h1.7v1.7h-1.7zM100.8 177.6h1.7v1.7h-1.7zM100.2 182.8h1.7v1.7h-1.7zM118.2 174.2h1.7v1.7h-1.7zM118.2 176.5h1.7v1.7h-1.7zM118.2 178.7h1.7v1.7h-1.7zM118.2 184.2h1.7v1.7h-1.7zM118.2 186.7h1.7v1.7h-1.7zM161.0 159.8h1.7v1.7h-1.7zM160.3 170.2h1.7v1.7h-1.7zM158.5 171.2h1.7v1.7h-1.7zM161.8 171.2h1.7v1.7h-1.7zM161.0 179.8h1.7v1.7h-1.7zM168.8 171.2h1.7v1.7h-1.7zM167.8 172.5h1.7v1.7h-1.7zM170.2 172.7h1.7v1.7h-1.7zM169.8 181.3h1.7v1.7h-1.7zM173.6 181.3h1.7v1.7h-1.7zM168.8 186.2h1.7v1.7h-1.7zM171.7 185.7h1.7v1.7h-1.7zM175.0 187.7h1.7v1.7h-1.7zM151.1 180.5h1.7v1.7h-1.7zM151.1 183.3h1.7v1.7h-1.7zM150.7 187.7h1.7v1.7h-1.7zM162.3 188.2h1.7v1.7h-1.7zM206.1 151.7h1.7v1.7h-1.7zM210.2 157.0h1.7v1.7h-1.7zM209.3 161.8h1.7v1.7h-1.7zM210.8 170.2h1.7v1.7h-1.7zM209.3 173.5h1.7v1.7h-1.7zM210.8 177.0h1.7v1.7h-1.7zM210.0 179.8h1.7v1.7h-1.7zM210.5 182.8h1.7v1.7h-1.7zM209.3 185.7h1.7v1.7h-1.7zM210.0 187.7h1.7v1.7h-1.7zM220.1 187.7h1.7v1.7h-1.7zM230.2 157.8h1.7v1.7h-1.7zM227.3 180.8h1.7v1.7h-1.7zM228.3 184.7h1.7v1.7h-1.7zM230.2 185.7h1.7v1.7h-1.7zM267.1 139.1h1.7v1.7h-1.7zM274.9 156.0h1.7v1.7h-1.7zM264.2 162.0h1.7v1.7h-1.7zM272.4 164.3h1.7v1.7h-1.7zM270.4 168.8h1.7v1.7h-1.7zM260.0 174.1h1.7v1.7h-1.7zM274.9 176.6h1.7v1.7h-1.7zM275.9 178.5h1.7v1.7h-1.7zM273.9 179.8h1.7v1.7h-1.7zM275.9 181.8h1.7v1.7h-1.7zM273.0 182.8h1.7v1.7h-1.7zM267.1 184.7h1.7v1.7h-1.7zM270.1 186.2h1.7v1.7h-1.7zM257.4 183.8h1.7v1.7h-1.7zM256.1 185.7h1.7v1.7h-1.7zM258.4 187.7h1.7v1.7h-1.7zM307.8 137.8h1.7v1.7h-1.7zM307.8 139.5h1.7v1.7h-1.7zM307.8 141.7h1.7v1.7h-1.7zM307.8 143.2h1.7v1.7h-1.7zM307.8 144.7h1.7v1.7h-1.7zM307.8 146.1h1.7v1.7h-1.7zM307.8 149.3h1.7v1.7h-1.7zM307.8 151.0h1.7v1.7h-1.7zM307.8 152.7h1.7v1.7h-1.7zM305.9 162.2h1.7v1.7h-1.7zM306.9 163.0h1.7v1.7h-1.7zM307.3 165.0h1.7v1.7h-1.7zM311.8 172.1h1.7v1.7h-1.7zM306.6 163.3h1.7v1.7h-1.7zM307.5 167.2h1.7v1.7h-1.7zM307.9 171.2h1.7v1.7h-1.7zM309.9 173.1h1.7v1.7h-1.7zM307.9 175.0h1.7v1.7h-1.7zM307.5 177.8h1.7v1.7h-1.7zM308.9 179.8h1.7v1.7h-1.7zM299.2 180.8h1.7v1.7h-1.7zM302.1 186.2h1.7v1.7h-1.7zM309.9 182.8h1.7v1.7h-1.7zM307.9 187.1h1.7v1.7h-1.7zM316.8 177.8h1.7v1.7h-1.7zM315.8 182.3h1.7v1.7h-1.7zM339.0 150.8h1.7v1.7h-1.7zM337.0 154.6h1.7v1.7h-1.7zM339.0 161.1h1.7v1.7h-1.7zM343.8 157.8h1.7v1.7h-1.7zM343.8 165.2h1.7v1.7h-1.7zM344.4 168.2h1.7v1.7h-1.7zM346.8 171.7h1.7v1.7h-1.7zM347.1 174.1h1.7v1.7h-1.7zM356.1 173.7h1.7v1.7h-1.7zM356.1 179.8h1.7v1.7h-1.7zM355.5 182.8h1.7v1.7h-1.7zM345.8 181.8h1.7v1.7h-1.7zM338.0 181.8h1.7v1.7h-1.7zM339.0 184.7h1.7v1.7h-1.7zM336.1 185.7h1.7v1.7h-1.7zM340.9 187.1h1.7v1.7h-1.7zM343.8 187.7h1.7v1.7h-1.7zM378.8 163.3h1.7v1.7h-1.7zM388.5 155.6h1.7v1.7h-1.7zM388.5 157.6h1.7v1.7h-1.7zM387.1 165.7h1.7v1.7h-1.7zM387.1 171.2h1.7v1.7h-1.7zM388.5 173.1h1.7v1.7h-1.7zM386.6 176.0h1.7v1.7h-1.7zM387.1 177.8h1.7v1.7h-1.7zM387.5 179.8h1.7v1.7h-1.7zM375.9 183.8h1.7v1.7h-1.7zM380.8 182.8h1.7v1.7h-1.7zM382.8 186.2h1.7v1.7h-1.7zM386.6 185.7h1.7v1.7h-1.7zM407.3 170.2h1.7v1.7h-1.7zM412.8 173.1h1.7v1.7h-1.7zM415.8 167.2h1.7v1.7h-1.7zM416.8 172.1h1.7v1.7h-1.7zM416.8 177.0h1.7v1.7h-1.7zM412.8 182.8h1.7v1.7h-1.7zM413.8 185.7h1.7v1.7h-1.7zM405.0 186.7h1.7v1.7h-1.7zM401.1 187.7h1.7v1.7h-1.7zM430.2 182.8h1.7v1.7h-1.7zM431.2 184.7h1.7v1.7h-1.7zM434.1 172.1h1.7v1.7h-1.7zM454.6 159.8h1.7v1.7h-1.7zM458.9 163.8h1.7v1.7h-1.7zM454.1 170.8h1.7v1.7h-1.7zM458.9 172.1h1.7v1.7h-1.7zM470.0 173.5h1.7v1.7h-1.7zM470.0 177.8h1.7v1.7h-1.7zM471.5 179.8h1.7v1.7h-1.7zM472.5 181.2h1.7v1.7h-1.7zM468.6 181.2h1.7v1.7h-1.7zM471.5 183.8h1.7v1.7h-1.7zM473.5 183.8h1.7v1.7h-1.7zM469.6 185.1h1.7v1.7h-1.7zM455.0 181.8h1.7v1.7h-1.7zM433.8 172.1h1.7v1.7h-1.7zM436.2 177.8h1.7v1.7h-1.7zM436.2 179.8h1.7v1.7h-1.7zM430.8 182.8h1.7v1.7h-1.7zM429.8 185.1h1.7v1.7h-1.7zM436.6 185.7h1.7v1.7h-1.7zM451.1 187.1h1.7v1.7h-1.7zM454.1 187.1h1.7v1.7h-1.7zM458.9 187.7h1.7v1.7h-1.7zM468.6 187.7h1.7v1.7h-1.7zM471.5 188.2h1.7v1.7h-1.7zM270.3 102.1h1.7v1.7h-1.7zM307.8 113.0h1.7v1.7h-1.7zM307.8 121.5h1.7v1.7h-1.7zM307.8 123.8h1.7v1.7h-1.7zM307.8 129.8h1.7v1.7h-1.7zM307.8 132.8h1.7v1.7h-1.7zM307.8 134.5h1.7v1.7h-1.7zM311.8 129.3h1.7v1.7h-1.7zM381.0 43.4h1.7v1.7h-1.7zM381.0 44.9h1.7v1.7h-1.7zM381.0 48.4h1.7v1.7h-1.7z"/>
<rect x="67.8" y="200" width="2.0" height="41.0" fill="#fff"/>
<rect x="283.5" y="200" width="2.0" height="41.0" fill="#fff"/>
<rect x="358.2" y="200" width="1.8" height="41.0" fill="#fff"/>
<rect x="390.6" y="200" width="1.8" height="41.0" fill="#fff"/>
<rect x="467.4" y="200" width="1.4" height="41.0" fill="#fff"/>
<rect x="60.5" y="195" width="1.5" height="19" fill="#fff"/>
<rect x="419" y="190" width="1.0" height="20" fill="#fff"/>
<rect x="433.6" y="195" width="1.0" height="20" fill="#fff"/>
<rect x="442.5" y="190" width="0.9" height="32" fill="#fff"/>
<rect x="166" y="200" width="2.0" height="23" fill="#fff"/>
<rect x="132.5" y="200" width="2.0" height="19" fill="#fff"/>
<path d="M36.2 7V241.55H497.8" fill="none" stroke="#000" stroke-width="1.15"/>
<line x1="33" y1="241.5" x2="36" y2="241.5" stroke="#111" stroke-width="1"/>
<text x="30.3" y="244.25" text-anchor="end" class="t">0</text>
<line x1="33" y1="195.5" x2="36" y2="195.5" stroke="#111" stroke-width="1"/>
<text x="30.3" y="198.25" text-anchor="end" class="t">2</text>
<line x1="33" y1="149.5" x2="36" y2="149.5" stroke="#111" stroke-width="1"/>
<text x="30.3" y="152.25" text-anchor="end" class="t">4</text>
<line x1="33" y1="103.5" x2="36" y2="103.5" stroke="#111" stroke-width="1"/>
<text x="30.3" y="106.25" text-anchor="end" class="t">6</text>
<line x1="33" y1="57.5" x2="36" y2="57.5" stroke="#111" stroke-width="1"/>
<text x="30.3" y="60.25" text-anchor="end" class="t">8</text>
<line x1="33" y1="11.5" x2="36" y2="11.5" stroke="#111" stroke-width="1"/>
<text x="30.3" y="14.25" text-anchor="end" class="t">10</text>
<line x1="67.7" y1="241.0" x2="67.7" y2="244.5" stroke="#111" stroke-width="1"/>
<text x="67.7" y="253.4" text-anchor="middle" class="t">1</text>
<line x1="104.3" y1="241.0" x2="104.3" y2="244.5" stroke="#111" stroke-width="1"/>
<text x="104.3" y="253.4" text-anchor="middle" class="t">2</text>
<line x1="136.5" y1="241.0" x2="136.5" y2="244.5" stroke="#111" stroke-width="1"/>
<text x="136.5" y="253.4" text-anchor="middle" class="t">3</text>
<line x1="165.3" y1="241.0" x2="165.3" y2="244.5" stroke="#111" stroke-width="1"/>
<text x="165.3" y="253.4" text-anchor="middle" class="t">4</text>
<line x1="192.9" y1="241.0" x2="192.9" y2="244.5" stroke="#111" stroke-width="1"/>
<text x="192.9" y="253.4" text-anchor="middle" class="t">5</text>
<line x1="218.7" y1="241.0" x2="218.7" y2="244.5" stroke="#111" stroke-width="1"/>
<text x="218.7" y="253.4" text-anchor="middle" class="t">6</text>
<line x1="243.3" y1="241.0" x2="243.3" y2="244.5" stroke="#111" stroke-width="1"/>
<text x="243.3" y="253.4" text-anchor="middle" class="t">7</text>
<line x1="265.6" y1="241.0" x2="265.6" y2="244.5" stroke="#111" stroke-width="1"/>
<text x="265.6" y="253.4" text-anchor="middle" class="t">8</text>
<line x1="286.9" y1="241.0" x2="286.9" y2="244.5" stroke="#111" stroke-width="1"/>
<text x="286.9" y="253.4" text-anchor="middle" class="t">9</text>
<line x1="307.4" y1="241.0" x2="307.4" y2="244.5" stroke="#111" stroke-width="1"/>
<text x="307.4" y="253.4" text-anchor="middle" class="t">10</text>
<line x1="327.3" y1="241.0" x2="327.3" y2="244.5" stroke="#111" stroke-width="1"/>
<text x="327.3" y="253.4" text-anchor="middle" class="t">11</text>
<line x1="347.4" y1="241.0" x2="347.4" y2="244.5" stroke="#111" stroke-width="1"/>
<text x="347.4" y="253.4" text-anchor="middle" class="t">12</text>
<line x1="366.9" y1="241.0" x2="366.9" y2="244.5" stroke="#111" stroke-width="1"/>
<text x="366.9" y="253.4" text-anchor="middle" class="t">13</text>
<line x1="383.5" y1="241.0" x2="383.5" y2="244.5" stroke="#111" stroke-width="1"/>
<text x="383.5" y="253.4" text-anchor="middle" class="t">14</text>
<line x1="398.8" y1="241.0" x2="398.8" y2="244.5" stroke="#111" stroke-width="1"/>
<text x="398.8" y="253.4" text-anchor="middle" class="t">15</text>
<line x1="411.3" y1="241.0" x2="411.3" y2="244.5" stroke="#111" stroke-width="1"/>
<text x="411.3" y="253.4" text-anchor="middle" class="t">16</text>
<line x1="424.2" y1="241.0" x2="424.2" y2="244.5" stroke="#111" stroke-width="1"/>
<text x="424.2" y="253.4" text-anchor="middle" class="t">17</text>
<line x1="435.9" y1="241.0" x2="435.9" y2="244.5" stroke="#111" stroke-width="1"/>
<line x1="446" y1="241.0" x2="446" y2="244.5" stroke="#111" stroke-width="1"/>
<text x="446" y="253.4" text-anchor="middle" class="t">19</text>
<line x1="454.8" y1="241.0" x2="454.8" y2="244.5" stroke="#111" stroke-width="1"/>
<line x1="463.8" y1="241.0" x2="463.8" y2="244.5" stroke="#111" stroke-width="1"/>
<text x="463.8" y="253.4" text-anchor="middle" class="t">21</text>
<line x1="471.9" y1="241.0" x2="471.9" y2="244.5" stroke="#111" stroke-width="1"/>
<line x1="485.5" y1="241.0" x2="485.5" y2="244.5" stroke="#111" stroke-width="1"/>
<text x="485.5" y="253.4" text-anchor="middle" class="t">23</text>
<text x="267.3" y="266.4" text-anchor="middle" class="ax" transform="translate(267.3 0) scale(0.74 1) translate(-267.3 0)">Chromosome</text>
<text transform="translate(15.2 124.1) rotate(-90) scale(0.92 1)" text-anchor="middle" class="ax2">−log<tspan font-size="5" dy="1.2">10</tspan><tspan dy="-1.2">(</tspan><tspan font-style="italic">P</tspan>)</text>
<text x="389.9" y="42.1" class="an">FERMT2</text>
<text x="274.2" y="97.5" class="an">EBAG9</text>
<text x="312.3" y="111.8" class="an">TTC18</text>
<text x="330.1" y="122.8" class="an">TCN1</text>
</svg>
</body></html>
